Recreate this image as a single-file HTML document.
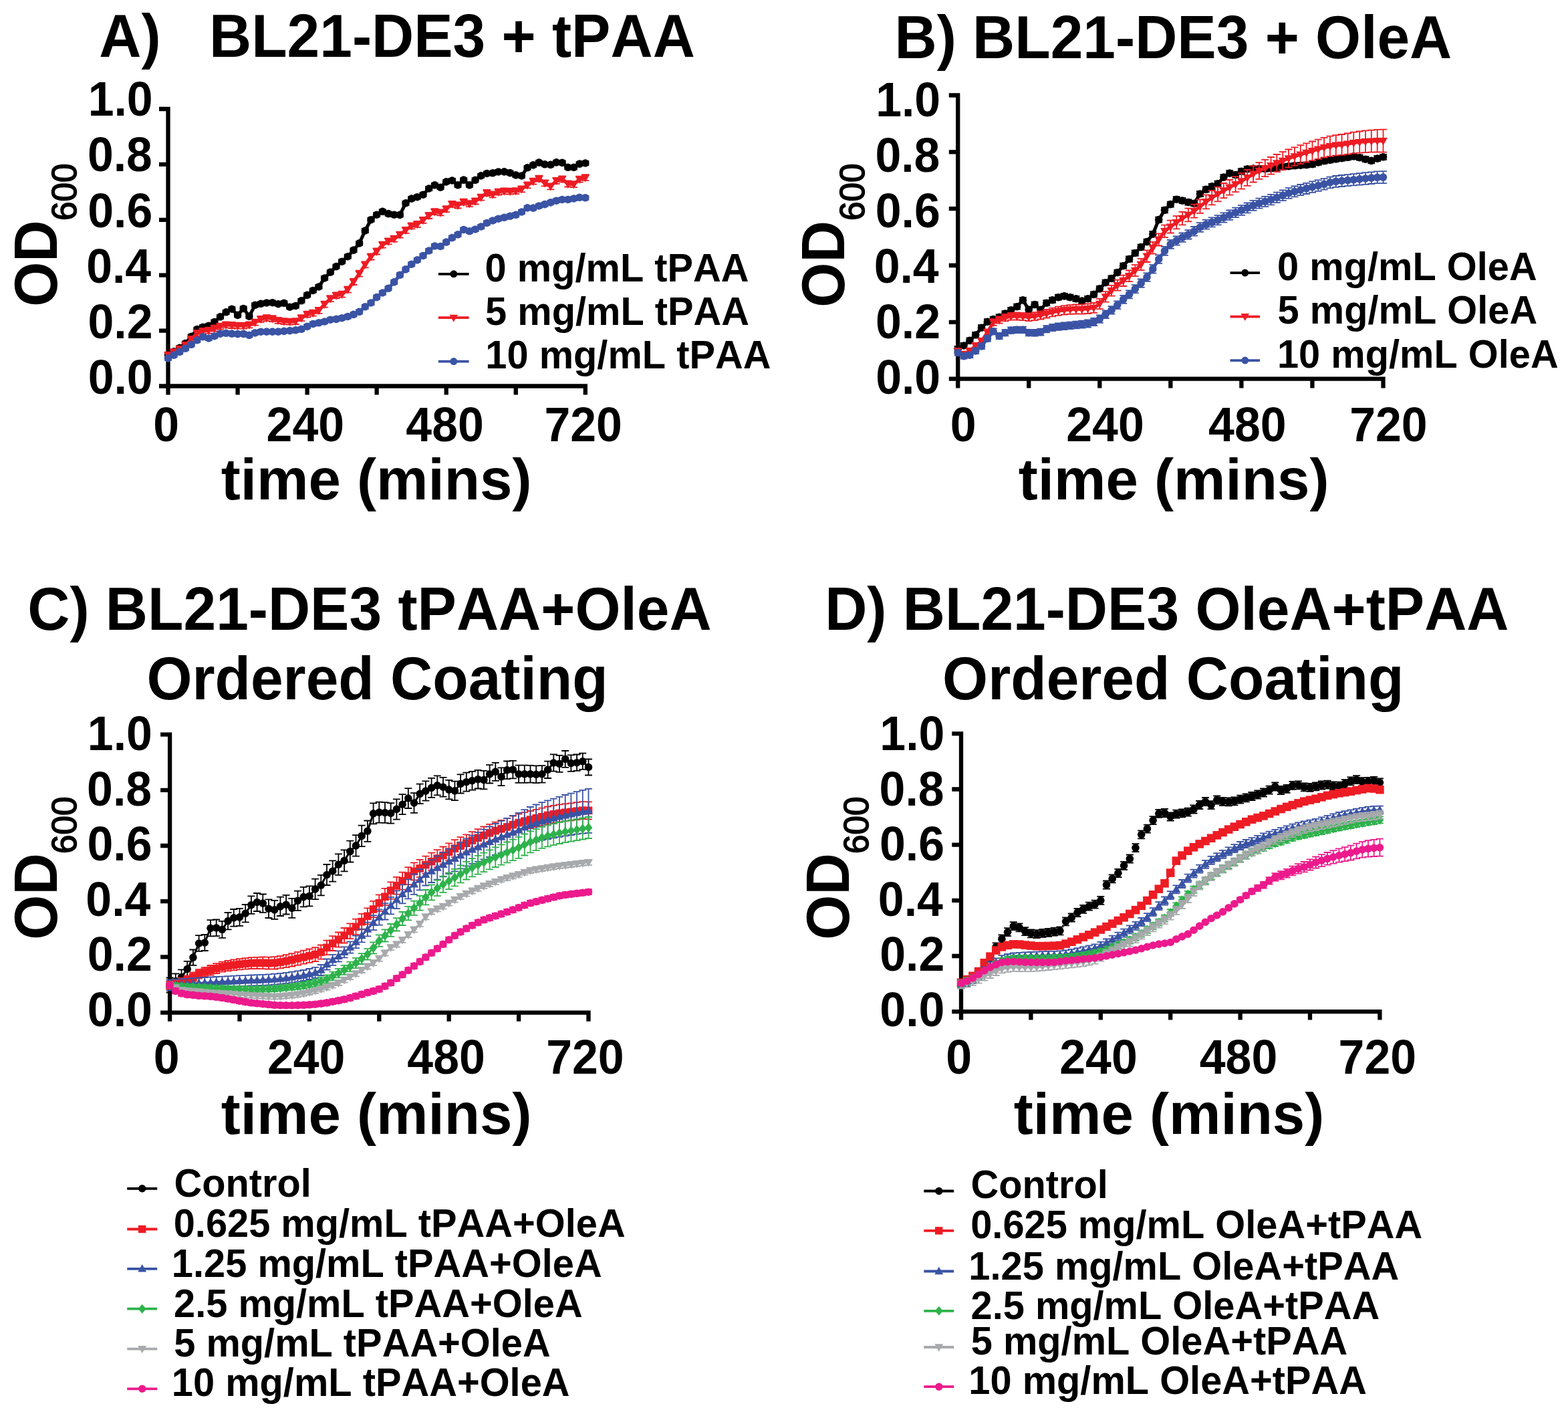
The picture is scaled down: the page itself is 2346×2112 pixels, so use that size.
<!DOCTYPE html>
<html><head><meta charset="utf-8"><title>Growth curves</title>
<style>html,body{margin:0;padding:0;background:#fff;}svg{display:block;filter:blur(0.5px);}</style>
</head><body>
<svg width="2346" height="2112" viewBox="0 0 2346 2112" font-family="'Liberation Sans', Arial, sans-serif" style="font-kerning:none">
<rect width="2346" height="2112" fill="#fff"/>
<text transform="translate(148.22,84.70) scale(1.0000,1.0450)" font-size="87.50" font-weight="bold" fill="#000">A)</text>
<text transform="translate(312.95,85.00) scale(1.0000,1.0450)" font-size="87.50" font-weight="bold" fill="#000">BL21-DE3 + tPAA</text>
<text transform="translate(1338.45,87.00) scale(1.0000,1.0450)" font-size="87.50" font-weight="bold" fill="#000">B) BL21-DE3 + OleA</text>
<text transform="translate(41.21,942.00) scale(1.0000,1.0450)" font-size="87.50" font-weight="bold" fill="#000">C) BL21-DE3 tPAA+OleA</text>
<text transform="translate(219.41,1046.00) scale(1.0000,1.0450)" font-size="87.50" font-weight="bold" fill="#000">Ordered Coating</text>
<text transform="translate(1234.15,942.00) scale(1.0000,1.0450)" font-size="87.50" font-weight="bold" fill="#000">D) BL21-DE3 OleA+tPAA</text>
<text transform="translate(1410.11,1046.00) scale(1.0000,1.0450)" font-size="87.50" font-weight="bold" fill="#000">Ordered Coating</text>
<path d="M251.50,159.85V590.50M238.00,577.50H878.95M238.00,577.50H251.50M238.00,494.60H251.50M238.00,411.70H251.50M238.00,328.80H251.50M238.00,245.90H251.50M238.00,163.00H251.50M355.55,577.50V590.50M459.60,577.50V590.50M563.65,577.50V590.50M667.70,577.50V590.50M771.75,577.50V590.50M875.80,577.50V590.50" fill="none" stroke="#000" stroke-width="6.3" stroke-linecap="butt"/>
<text transform="translate(131.63,589.10) scale(1.0000,1.0400)" font-size="69.80" font-weight="bold" fill="#000">0.0</text>
<text transform="translate(131.56,505.90) scale(1.0000,1.0400)" font-size="69.80" font-weight="bold" fill="#000">0.2</text>
<text transform="translate(129.14,422.70) scale(1.0000,1.0400)" font-size="69.80" font-weight="bold" fill="#000">0.4</text>
<text transform="translate(131.29,339.50) scale(1.0000,1.0400)" font-size="69.80" font-weight="bold" fill="#000">0.6</text>
<text transform="translate(130.92,256.30) scale(1.0000,1.0400)" font-size="69.80" font-weight="bold" fill="#000">0.8</text>
<text transform="translate(131.63,173.10) scale(1.0000,1.0400)" font-size="69.80" font-weight="bold" fill="#000">1.0</text>
<text transform="translate(229.14,660.00) scale(1.0000,1.0400)" font-size="69.80" font-weight="bold" fill="#000">0</text>
<text transform="translate(398.59,660.00) scale(1.0000,1.0400)" font-size="69.80" font-weight="bold" fill="#000">240</text>
<text transform="translate(607.37,660.00) scale(1.0000,1.0400)" font-size="69.80" font-weight="bold" fill="#000">480</text>
<text transform="translate(814.50,660.00) scale(1.0000,1.0400)" font-size="69.80" font-weight="bold" fill="#000">720</text>
<text transform="translate(84.50,458.84) rotate(-90) scale(1.0000,1.0530)" font-size="86.30" font-weight="bold">OD</text>
<text transform="translate(114.20,330.11) rotate(-90)" font-size="51.30" font-weight="normal" stroke="#000" stroke-width="1.5">600</text>
<path d="M1433.20,139.35V580.40M1419.80,566.70H2072.65M1419.80,566.70H1433.20M1419.80,481.86H1433.20M1419.80,397.02H1433.20M1419.80,312.18H1433.20M1419.80,227.34H1433.20M1419.80,142.50H1433.20M1539.25,566.70V580.40M1645.30,566.70V580.40M1751.35,566.70V580.40M1857.40,566.70V580.40M1963.45,566.70V580.40M2069.50,566.70V580.40" fill="none" stroke="#000" stroke-width="6.3" stroke-linecap="butt"/>
<text transform="translate(1310.13,589.10) scale(1.0000,1.0400)" font-size="69.80" font-weight="bold" fill="#000">0.0</text>
<text transform="translate(1310.06,506.02) scale(1.0000,1.0400)" font-size="69.80" font-weight="bold" fill="#000">0.2</text>
<text transform="translate(1307.64,422.94) scale(1.0000,1.0400)" font-size="69.80" font-weight="bold" fill="#000">0.4</text>
<text transform="translate(1309.79,339.86) scale(1.0000,1.0400)" font-size="69.80" font-weight="bold" fill="#000">0.6</text>
<text transform="translate(1309.42,256.78) scale(1.0000,1.0400)" font-size="69.80" font-weight="bold" fill="#000">0.8</text>
<text transform="translate(1310.13,173.70) scale(1.0000,1.0400)" font-size="69.80" font-weight="bold" fill="#000">1.0</text>
<text transform="translate(1421.84,660.00) scale(1.0000,1.0400)" font-size="69.80" font-weight="bold" fill="#000">0</text>
<text transform="translate(1595.29,660.00) scale(1.0000,1.0400)" font-size="69.80" font-weight="bold" fill="#000">240</text>
<text transform="translate(1808.07,660.00) scale(1.0000,1.0400)" font-size="69.80" font-weight="bold" fill="#000">480</text>
<text transform="translate(2019.20,660.00) scale(1.0000,1.0400)" font-size="69.80" font-weight="bold" fill="#000">720</text>
<text transform="translate(1263.20,459.64) rotate(-90) scale(1.0000,1.0530)" font-size="86.30" font-weight="bold">OD</text>
<text transform="translate(1293.00,330.11) rotate(-90)" font-size="51.30" font-weight="normal" stroke="#000" stroke-width="1.5">600</text>
<path d="M254.10,1095.45V1527.70M240.10,1514.60H883.65M240.10,1514.60H254.10M240.10,1431.40H254.10M240.10,1348.20H254.10M240.10,1265.00H254.10M240.10,1181.80H254.10M240.10,1098.60H254.10M358.50,1514.60V1527.70M462.90,1514.60V1527.70M567.30,1514.60V1527.70M671.70,1514.60V1527.70M776.10,1514.60V1527.70M880.50,1514.60V1527.70" fill="none" stroke="#000" stroke-width="6.3" stroke-linecap="butt"/>
<text transform="translate(130.83,1534.90) scale(1.0000,1.0400)" font-size="69.80" font-weight="bold" fill="#000">0.0</text>
<text transform="translate(130.76,1452.30) scale(1.0000,1.0400)" font-size="69.80" font-weight="bold" fill="#000">0.2</text>
<text transform="translate(128.34,1369.70) scale(1.0000,1.0400)" font-size="69.80" font-weight="bold" fill="#000">0.4</text>
<text transform="translate(130.49,1287.10) scale(1.0000,1.0400)" font-size="69.80" font-weight="bold" fill="#000">0.6</text>
<text transform="translate(130.12,1204.50) scale(1.0000,1.0400)" font-size="69.80" font-weight="bold" fill="#000">0.8</text>
<text transform="translate(130.83,1121.90) scale(1.0000,1.0400)" font-size="69.80" font-weight="bold" fill="#000">1.0</text>
<text transform="translate(229.74,1606.30) scale(1.0000,1.0400)" font-size="69.80" font-weight="bold" fill="#000">0</text>
<text transform="translate(399.89,1606.30) scale(1.0000,1.0400)" font-size="69.80" font-weight="bold" fill="#000">240</text>
<text transform="translate(609.37,1606.30) scale(1.0000,1.0400)" font-size="69.80" font-weight="bold" fill="#000">480</text>
<text transform="translate(817.20,1606.30) scale(1.0000,1.0400)" font-size="69.80" font-weight="bold" fill="#000">720</text>
<text transform="translate(84.50,1405.74) rotate(-90) scale(1.0000,1.0530)" font-size="86.30" font-weight="bold">OD</text>
<text transform="translate(114.20,1277.01) rotate(-90)" font-size="51.30" font-weight="normal" stroke="#000" stroke-width="1.5">600</text>
<path d="M1438.00,1094.15V1525.50M1424.30,1513.20H2067.55M1424.30,1513.20H1438.00M1424.30,1430.02H1438.00M1424.30,1346.84H1438.00M1424.30,1263.66H1438.00M1424.30,1180.48H1438.00M1424.30,1097.30H1438.00M1542.40,1513.20V1525.50M1646.80,1513.20V1525.50M1751.20,1513.20V1525.50M1855.60,1513.20V1525.50M1960.00,1513.20V1525.50M2064.40,1513.20V1525.50" fill="none" stroke="#000" stroke-width="6.3" stroke-linecap="butt"/>
<text transform="translate(1316.33,1534.90) scale(1.0000,1.0400)" font-size="69.80" font-weight="bold" fill="#000">0.0</text>
<text transform="translate(1316.26,1452.34) scale(1.0000,1.0400)" font-size="69.80" font-weight="bold" fill="#000">0.2</text>
<text transform="translate(1313.84,1369.78) scale(1.0000,1.0400)" font-size="69.80" font-weight="bold" fill="#000">0.4</text>
<text transform="translate(1315.99,1287.22) scale(1.0000,1.0400)" font-size="69.80" font-weight="bold" fill="#000">0.6</text>
<text transform="translate(1315.62,1204.66) scale(1.0000,1.0400)" font-size="69.80" font-weight="bold" fill="#000">0.8</text>
<text transform="translate(1316.33,1122.10) scale(1.0000,1.0400)" font-size="69.80" font-weight="bold" fill="#000">1.0</text>
<text transform="translate(1415.14,1606.30) scale(1.0000,1.0400)" font-size="69.80" font-weight="bold" fill="#000">0</text>
<text transform="translate(1585.29,1606.30) scale(1.0000,1.0400)" font-size="69.80" font-weight="bold" fill="#000">240</text>
<text transform="translate(1794.77,1606.30) scale(1.0000,1.0400)" font-size="69.80" font-weight="bold" fill="#000">480</text>
<text transform="translate(2002.60,1606.30) scale(1.0000,1.0400)" font-size="69.80" font-weight="bold" fill="#000">720</text>
<text transform="translate(1270.00,1405.74) rotate(-90) scale(1.0000,1.0530)" font-size="86.30" font-weight="bold">OD</text>
<text transform="translate(1299.00,1277.01) rotate(-90)" font-size="51.30" font-weight="normal" stroke="#000" stroke-width="1.5">600</text>
<text transform="translate(330.84,747.20)" font-size="87.10" font-weight="bold" fill="#000">time (mins)</text>
<text transform="translate(1523.84,747.20)" font-size="87.10" font-weight="bold" fill="#000">time (mins)</text>
<text transform="translate(330.84,1696.00)" font-size="87.10" font-weight="bold" fill="#000">time (mins)</text>
<text transform="translate(1516.74,1696.00)" font-size="87.10" font-weight="bold" fill="#000">time (mins)</text>
<path d="M655.9,409.8H701.6" stroke="#000000" stroke-width="3.8"/>
<circle cx="678.8" cy="409.8" r="5.5" fill="#000000"/>
<text transform="translate(725.61,420.60) scale(1.0000,1.0150)" font-size="57.80" font-weight="bold" fill="#000">0 mg/mL tPAA</text>
<path d="M655.9,475.2H701.6" stroke="#ED1C24" stroke-width="3.8"/>
<path d="M678.8,481.7L685.0,470.7L672.5,470.7Z" fill="#ED1C24"/>
<text transform="translate(726.12,486.00) scale(1.0000,1.0150)" font-size="57.80" font-weight="bold" fill="#000">5 mg/mL tPAA</text>
<path d="M655.9,540.6H701.6" stroke="#3A53A4" stroke-width="3.8"/>
<circle cx="678.8" cy="540.6" r="5.5" fill="#3A53A4"/>
<text transform="translate(726.36,551.40) scale(1.0000,1.0150)" font-size="57.80" font-weight="bold" fill="#000">10 mg/mL tPAA</text>
<path d="M1840.5,408.1H1885.0" stroke="#000000" stroke-width="3.8"/>
<circle cx="1862.8" cy="408.1" r="5.5" fill="#000000"/>
<text transform="translate(1911.11,418.90) scale(1.0000,1.0150)" font-size="57.80" font-weight="bold" fill="#000">0 mg/mL OleA</text>
<path d="M1840.5,473.6H1885.0" stroke="#ED1C24" stroke-width="3.8"/>
<path d="M1862.8,480.1L1869.0,469.1L1856.5,469.1Z" fill="#ED1C24"/>
<text transform="translate(1911.62,484.40) scale(1.0000,1.0150)" font-size="57.80" font-weight="bold" fill="#000">5 mg/mL OleA</text>
<path d="M1840.5,539.1H1885.0" stroke="#3A53A4" stroke-width="3.8"/>
<circle cx="1862.8" cy="539.1" r="5.5" fill="#3A53A4"/>
<text transform="translate(1910.96,549.90) scale(1.0000,1.0150)" font-size="57.80" font-weight="bold" fill="#000">10 mg/mL OleA</text>
<path d="M190.2,1777.8H235.2" stroke="#000000" stroke-width="3.8"/>
<circle cx="212.7" cy="1777.8" r="5.7" fill="#000000"/>
<text transform="translate(260.43,1789.50) scale(1.0000,1.0150)" font-size="57.80" font-weight="bold" fill="#000">Control</text>
<path d="M190.2,1838.5H235.2" stroke="#ED1C24" stroke-width="3.8"/>
<rect x="207.0" y="1832.8" width="11.4" height="11.4" fill="#ED1C24"/>
<text transform="translate(259.71,1850.20) scale(1.0000,1.0150)" font-size="57.80" font-weight="bold" fill="#000">0.625 mg/mL tPAA+OleA</text>
<path d="M190.2,1897.8H235.2" stroke="#3A53A4" stroke-width="3.8"/>
<path d="M212.7,1891.1L219.1,1902.5L206.3,1902.5Z" fill="#3A53A4"/>
<text transform="translate(256.86,1909.70) scale(1.0000,1.0150)" font-size="57.80" font-weight="bold" fill="#000">1.25 mg/mL tPAA+OleA</text>
<path d="M190.2,1957.7H235.2" stroke="#2EB24B" stroke-width="3.8"/>
<path d="M212.7,1950.7L218.5,1957.7L212.7,1964.7L206.9,1957.7Z" fill="#2EB24B"/>
<text transform="translate(260.00,1969.80) scale(1.0000,1.0150)" font-size="57.80" font-weight="bold" fill="#000">2.5 mg/mL tPAA+OleA</text>
<path d="M190.2,2017.6H235.2" stroke="#A7A9AC" stroke-width="3.8"/>
<path d="M212.7,2024.3L219.1,2012.9L206.3,2012.9Z" fill="#A7A9AC"/>
<text transform="translate(260.22,2029.00) scale(1.0000,1.0150)" font-size="57.80" font-weight="bold" fill="#000">5 mg/mL tPAA+OleA</text>
<path d="M190.2,2077.3H235.2" stroke="#EC1A8C" stroke-width="3.8"/>
<circle cx="212.7" cy="2077.3" r="5.7" fill="#EC1A8C"/>
<text transform="translate(256.86,2087.50) scale(1.0000,1.0150)" font-size="57.80" font-weight="bold" fill="#000">10 mg/mL tPAA+OleA</text>
<path d="M1382.3,1781.5H1427.2" stroke="#000000" stroke-width="3.8"/>
<circle cx="1404.8" cy="1781.5" r="5.7" fill="#000000"/>
<text transform="translate(1452.43,1791.50) scale(1.0000,1.0150)" font-size="57.80" font-weight="bold" fill="#000">Control</text>
<path d="M1382.3,1840.8H1427.2" stroke="#ED1C24" stroke-width="3.8"/>
<rect x="1399.0" y="1835.1" width="11.4" height="11.4" fill="#ED1C24"/>
<text transform="translate(1452.21,1852.20) scale(1.0000,1.0150)" font-size="57.80" font-weight="bold" fill="#000">0.625 mg/mL OleA+tPAA</text>
<path d="M1382.3,1901.5H1427.2" stroke="#3A53A4" stroke-width="3.8"/>
<path d="M1404.8,1894.8L1411.2,1906.2L1398.3,1906.2Z" fill="#3A53A4"/>
<text transform="translate(1449.36,1913.60) scale(1.0000,1.0150)" font-size="57.80" font-weight="bold" fill="#000">1.25 mg/mL OleA+tPAA</text>
<path d="M1382.3,1960.8H1427.2" stroke="#2EB24B" stroke-width="3.8"/>
<path d="M1404.8,1953.8L1410.6,1960.8L1404.8,1967.8L1398.9,1960.8Z" fill="#2EB24B"/>
<text transform="translate(1452.50,1972.80) scale(1.0000,1.0150)" font-size="57.80" font-weight="bold" fill="#000">2.5 mg/mL OleA+tPAA</text>
<path d="M1382.3,2015.0H1427.2" stroke="#A7A9AC" stroke-width="3.8"/>
<path d="M1404.8,2021.7L1411.2,2010.3L1398.3,2010.3Z" fill="#A7A9AC"/>
<text transform="translate(1452.72,2026.00) scale(1.0000,1.0150)" font-size="57.80" font-weight="bold" fill="#000">5 mg/mL OleA+tPAA</text>
<path d="M1382.3,2074.2H1427.2" stroke="#EC1A8C" stroke-width="3.8"/>
<circle cx="1404.8" cy="2074.2" r="5.7" fill="#EC1A8C"/>
<text transform="translate(1449.36,2085.40) scale(1.0000,1.0150)" font-size="57.80" font-weight="bold" fill="#000">10 mg/mL OleA+tPAA</text>
<g>
<path d="M251.5,531.0 L260.2,525.8 L268.8,520.4 L277.5,513.6 L286.2,503.4 L294.9,492.6 L303.5,489.2 L312.2,487.2 L320.9,481.5 L329.5,473.9 L338.2,466.8 L346.9,462.2 L355.6,471.4 L364.2,461.5 L372.9,473.1 L381.6,456.3 L390.2,454.3 L398.9,453.0 L407.6,452.7 L416.2,454.7 L424.9,453.3 L433.6,459.2 L442.3,457.5 L450.9,449.8 L459.6,441.4 L468.3,434.5 L476.9,429.0 L485.6,416.0 L494.3,407.1 L503.0,398.6 L511.6,391.2 L520.3,383.7 L529.0,374.1 L537.6,363.9 L546.3,345.0 L555.0,328.7 L563.6,321.2 L572.3,316.3 L581.0,319.6 L589.7,321.2 L598.3,321.4 L607.0,303.8 L615.7,297.1 L624.3,294.7 L633.0,291.2 L641.7,282.0 L650.4,276.8 L659.0,280.2 L667.7,271.9 L676.4,270.0 L685.0,276.8 L693.7,269.1 L702.4,276.9 L711.1,269.3 L719.7,262.9 L728.4,259.5 L737.1,258.8 L745.7,257.0 L754.4,256.9 L763.1,258.6 L771.8,261.9 L780.4,263.0 L789.1,250.8 L797.8,246.9 L806.4,243.1 L815.1,245.8 L823.8,246.4 L832.4,242.9 L841.1,243.4 L849.8,250.3 L858.5,250.3 L867.1,245.1 L875.8,244.0" fill="none" stroke="#000000" stroke-width="5" stroke-linejoin="round"/>
<path d="M251.5,528.0V534.0M246.0,528.0H257.0M246.0,534.0H257.0M260.2,522.8V528.8M254.7,522.8H265.7M254.7,528.8H265.7M268.8,517.4V523.4M263.3,517.4H274.3M263.3,523.4H274.3M277.5,510.6V516.6M272.0,510.6H283.0M272.0,516.6H283.0M286.2,500.4V506.4M280.7,500.4H291.7M280.7,506.4H291.7M294.9,489.6V495.6M289.4,489.6H300.4M289.4,495.6H300.4M303.5,486.2V492.2M298.0,486.2H309.0M298.0,492.2H309.0M312.2,484.2V490.2M306.7,484.2H317.7M306.7,490.2H317.7M320.9,478.5V484.5M315.4,478.5H326.4M315.4,484.5H326.4M329.5,470.9V476.9M324.0,470.9H335.0M324.0,476.9H335.0M338.2,463.8V469.8M332.7,463.8H343.7M332.7,469.8H343.7M346.9,459.2V465.2M341.4,459.2H352.4M341.4,465.2H352.4M355.6,468.4V474.4M350.1,468.4H361.1M350.1,474.4H361.1M364.2,458.5V464.5M358.7,458.5H369.7M358.7,464.5H369.7M372.9,470.1V476.1M367.4,470.1H378.4M367.4,476.1H378.4M381.6,453.3V459.3M376.1,453.3H387.1M376.1,459.3H387.1M390.2,451.3V457.3M384.7,451.3H395.7M384.7,457.3H395.7M398.9,450.0V456.0M393.4,450.0H404.4M393.4,456.0H404.4M407.6,449.7V455.7M402.1,449.7H413.1M402.1,455.7H413.1M416.2,451.7V457.7M410.7,451.7H421.7M410.7,457.7H421.7M424.9,450.3V456.3M419.4,450.3H430.4M419.4,456.3H430.4M433.6,456.2V462.2M428.1,456.2H439.1M428.1,462.2H439.1M442.3,454.5V460.5M436.8,454.5H447.8M436.8,460.5H447.8M450.9,446.8V452.8M445.4,446.8H456.4M445.4,452.8H456.4M459.6,438.4V444.4M454.1,438.4H465.1M454.1,444.4H465.1M468.3,431.5V437.5M462.8,431.5H473.8M462.8,437.5H473.8M476.9,426.0V432.0M471.4,426.0H482.4M471.4,432.0H482.4M485.6,413.0V419.0M480.1,413.0H491.1M480.1,419.0H491.1M494.3,404.1V410.1M488.8,404.1H499.8M488.8,410.1H499.8M503.0,395.6V401.6M497.5,395.6H508.5M497.5,401.6H508.5M511.6,388.2V394.2M506.1,388.2H517.1M506.1,394.2H517.1M520.3,380.7V386.7M514.8,380.7H525.8M514.8,386.7H525.8M529.0,371.1V377.1M523.5,371.1H534.5M523.5,377.1H534.5M537.6,360.9V366.9M532.1,360.9H543.1M532.1,366.9H543.1M546.3,342.0V348.0M540.8,342.0H551.8M540.8,348.0H551.8M555.0,325.7V331.7M549.5,325.7H560.5M549.5,331.7H560.5M563.6,318.2V324.2M558.1,318.2H569.1M558.1,324.2H569.1M572.3,313.3V319.3M566.8,313.3H577.8M566.8,319.3H577.8M581.0,316.6V322.6M575.5,316.6H586.5M575.5,322.6H586.5M589.7,318.2V324.2M584.2,318.2H595.2M584.2,324.2H595.2M598.3,318.4V324.4M592.8,318.4H603.8M592.8,324.4H603.8M607.0,300.8V306.8M601.5,300.8H612.5M601.5,306.8H612.5M615.7,294.1V300.1M610.2,294.1H621.2M610.2,300.1H621.2M624.3,291.7V297.7M618.8,291.7H629.8M618.8,297.7H629.8M633.0,288.2V294.2M627.5,288.2H638.5M627.5,294.2H638.5M641.7,279.0V285.0M636.2,279.0H647.2M636.2,285.0H647.2M650.4,273.8V279.8M644.9,273.8H655.9M644.9,279.8H655.9M659.0,277.2V283.2M653.5,277.2H664.5M653.5,283.2H664.5M667.7,268.9V274.9M662.2,268.9H673.2M662.2,274.9H673.2M676.4,267.0V273.0M670.9,267.0H681.9M670.9,273.0H681.9M685.0,273.8V279.8M679.5,273.8H690.5M679.5,279.8H690.5M693.7,266.1V272.1M688.2,266.1H699.2M688.2,272.1H699.2M702.4,273.9V279.9M696.9,273.9H707.9M696.9,279.9H707.9M711.1,266.3V272.3M705.6,266.3H716.6M705.6,272.3H716.6M719.7,259.9V265.9M714.2,259.9H725.2M714.2,265.9H725.2M728.4,256.5V262.5M722.9,256.5H733.9M722.9,262.5H733.9M737.1,255.8V261.8M731.6,255.8H742.6M731.6,261.8H742.6M745.7,254.0V260.0M740.2,254.0H751.2M740.2,260.0H751.2M754.4,253.9V259.9M748.9,253.9H759.9M748.9,259.9H759.9M763.1,255.6V261.6M757.6,255.6H768.6M757.6,261.6H768.6M771.8,258.9V264.9M766.2,258.9H777.2M766.2,264.9H777.2M780.4,260.0V266.0M774.9,260.0H785.9M774.9,266.0H785.9M789.1,247.8V253.8M783.6,247.8H794.6M783.6,253.8H794.6M797.8,243.9V249.9M792.3,243.9H803.3M792.3,249.9H803.3M806.4,240.1V246.1M800.9,240.1H811.9M800.9,246.1H811.9M815.1,242.8V248.8M809.6,242.8H820.6M809.6,248.8H820.6M823.8,243.4V249.4M818.3,243.4H829.3M818.3,249.4H829.3M832.4,239.9V245.9M826.9,239.9H837.9M826.9,245.9H837.9M841.1,240.4V246.4M835.6,240.4H846.6M835.6,246.4H846.6M849.8,247.3V253.3M844.3,247.3H855.3M844.3,253.3H855.3M858.5,247.3V253.3M853.0,247.3H864.0M853.0,253.3H864.0M867.1,242.1V248.1M861.6,242.1H872.6M861.6,248.1H872.6M875.8,241.0V247.0M870.3,241.0H881.3M870.3,247.0H881.3" fill="none" stroke="#000000" stroke-width="1.8"/>
<circle cx="251.5" cy="531.0" r="5.8" fill="#000000"/>
<circle cx="260.2" cy="525.8" r="5.8" fill="#000000"/>
<circle cx="268.8" cy="520.4" r="5.8" fill="#000000"/>
<circle cx="277.5" cy="513.6" r="5.8" fill="#000000"/>
<circle cx="286.2" cy="503.4" r="5.8" fill="#000000"/>
<circle cx="294.9" cy="492.6" r="5.8" fill="#000000"/>
<circle cx="303.5" cy="489.2" r="5.8" fill="#000000"/>
<circle cx="312.2" cy="487.2" r="5.8" fill="#000000"/>
<circle cx="320.9" cy="481.5" r="5.8" fill="#000000"/>
<circle cx="329.5" cy="473.9" r="5.8" fill="#000000"/>
<circle cx="338.2" cy="466.8" r="5.8" fill="#000000"/>
<circle cx="346.9" cy="462.2" r="5.8" fill="#000000"/>
<circle cx="355.6" cy="471.4" r="5.8" fill="#000000"/>
<circle cx="364.2" cy="461.5" r="5.8" fill="#000000"/>
<circle cx="372.9" cy="473.1" r="5.8" fill="#000000"/>
<circle cx="381.6" cy="456.3" r="5.8" fill="#000000"/>
<circle cx="390.2" cy="454.3" r="5.8" fill="#000000"/>
<circle cx="398.9" cy="453.0" r="5.8" fill="#000000"/>
<circle cx="407.6" cy="452.7" r="5.8" fill="#000000"/>
<circle cx="416.2" cy="454.7" r="5.8" fill="#000000"/>
<circle cx="424.9" cy="453.3" r="5.8" fill="#000000"/>
<circle cx="433.6" cy="459.2" r="5.8" fill="#000000"/>
<circle cx="442.3" cy="457.5" r="5.8" fill="#000000"/>
<circle cx="450.9" cy="449.8" r="5.8" fill="#000000"/>
<circle cx="459.6" cy="441.4" r="5.8" fill="#000000"/>
<circle cx="468.3" cy="434.5" r="5.8" fill="#000000"/>
<circle cx="476.9" cy="429.0" r="5.8" fill="#000000"/>
<circle cx="485.6" cy="416.0" r="5.8" fill="#000000"/>
<circle cx="494.3" cy="407.1" r="5.8" fill="#000000"/>
<circle cx="503.0" cy="398.6" r="5.8" fill="#000000"/>
<circle cx="511.6" cy="391.2" r="5.8" fill="#000000"/>
<circle cx="520.3" cy="383.7" r="5.8" fill="#000000"/>
<circle cx="529.0" cy="374.1" r="5.8" fill="#000000"/>
<circle cx="537.6" cy="363.9" r="5.8" fill="#000000"/>
<circle cx="546.3" cy="345.0" r="5.8" fill="#000000"/>
<circle cx="555.0" cy="328.7" r="5.8" fill="#000000"/>
<circle cx="563.6" cy="321.2" r="5.8" fill="#000000"/>
<circle cx="572.3" cy="316.3" r="5.8" fill="#000000"/>
<circle cx="581.0" cy="319.6" r="5.8" fill="#000000"/>
<circle cx="589.7" cy="321.2" r="5.8" fill="#000000"/>
<circle cx="598.3" cy="321.4" r="5.8" fill="#000000"/>
<circle cx="607.0" cy="303.8" r="5.8" fill="#000000"/>
<circle cx="615.7" cy="297.1" r="5.8" fill="#000000"/>
<circle cx="624.3" cy="294.7" r="5.8" fill="#000000"/>
<circle cx="633.0" cy="291.2" r="5.8" fill="#000000"/>
<circle cx="641.7" cy="282.0" r="5.8" fill="#000000"/>
<circle cx="650.4" cy="276.8" r="5.8" fill="#000000"/>
<circle cx="659.0" cy="280.2" r="5.8" fill="#000000"/>
<circle cx="667.7" cy="271.9" r="5.8" fill="#000000"/>
<circle cx="676.4" cy="270.0" r="5.8" fill="#000000"/>
<circle cx="685.0" cy="276.8" r="5.8" fill="#000000"/>
<circle cx="693.7" cy="269.1" r="5.8" fill="#000000"/>
<circle cx="702.4" cy="276.9" r="5.8" fill="#000000"/>
<circle cx="711.1" cy="269.3" r="5.8" fill="#000000"/>
<circle cx="719.7" cy="262.9" r="5.8" fill="#000000"/>
<circle cx="728.4" cy="259.5" r="5.8" fill="#000000"/>
<circle cx="737.1" cy="258.8" r="5.8" fill="#000000"/>
<circle cx="745.7" cy="257.0" r="5.8" fill="#000000"/>
<circle cx="754.4" cy="256.9" r="5.8" fill="#000000"/>
<circle cx="763.1" cy="258.6" r="5.8" fill="#000000"/>
<circle cx="771.8" cy="261.9" r="5.8" fill="#000000"/>
<circle cx="780.4" cy="263.0" r="5.8" fill="#000000"/>
<circle cx="789.1" cy="250.8" r="5.8" fill="#000000"/>
<circle cx="797.8" cy="246.9" r="5.8" fill="#000000"/>
<circle cx="806.4" cy="243.1" r="5.8" fill="#000000"/>
<circle cx="815.1" cy="245.8" r="5.8" fill="#000000"/>
<circle cx="823.8" cy="246.4" r="5.8" fill="#000000"/>
<circle cx="832.4" cy="242.9" r="5.8" fill="#000000"/>
<circle cx="841.1" cy="243.4" r="5.8" fill="#000000"/>
<circle cx="849.8" cy="250.3" r="5.8" fill="#000000"/>
<circle cx="858.5" cy="250.3" r="5.8" fill="#000000"/>
<circle cx="867.1" cy="245.1" r="5.8" fill="#000000"/>
<circle cx="875.8" cy="244.0" r="5.8" fill="#000000"/>
</g>
<g>
<path d="M251.5,531.1 L260.2,526.7 L268.8,522.1 L277.5,516.3 L286.2,507.4 L294.9,498.5 L303.5,495.4 L312.2,494.1 L320.9,491.0 L329.5,488.1 L338.2,485.8 L346.9,486.5 L355.6,487.2 L364.2,487.1 L372.9,485.9 L381.6,482.1 L390.2,477.3 L398.9,475.6 L407.6,476.6 L416.2,479.3 L424.9,480.7 L433.6,481.2 L442.3,480.7 L450.9,475.7 L459.6,470.1 L468.3,468.1 L476.9,464.4 L485.6,455.1 L494.3,446.7 L503.0,441.9 L511.6,440.1 L520.3,433.2 L529.0,421.5 L537.6,409.1 L546.3,395.8 L555.0,384.0 L563.6,376.0 L572.3,366.1 L581.0,360.8 L589.7,357.1 L598.3,351.1 L607.0,344.3 L615.7,337.8 L624.3,335.3 L633.0,329.4 L641.7,322.5 L650.4,316.7 L659.0,317.8 L667.7,312.6 L676.4,305.3 L685.0,307.0 L693.7,302.2 L702.4,304.7 L711.1,301.0 L719.7,295.1 L728.4,288.5 L737.1,290.9 L745.7,287.1 L754.4,285.8 L763.1,286.2 L771.8,285.7 L780.4,282.8 L789.1,276.9 L797.8,271.2 L806.4,267.1 L815.1,273.9 L823.8,278.8 L832.4,270.3 L841.1,267.8 L849.8,275.0 L858.5,275.7 L867.1,268.2 L875.8,265.7" fill="none" stroke="#ED1C24" stroke-width="5" stroke-linejoin="round"/>
<path d="M251.5,526.6V535.6M246.0,526.6H257.0M246.0,535.6H257.0M260.2,522.2V531.2M254.7,522.2H265.7M254.7,531.2H265.7M268.8,517.6V526.6M263.3,517.6H274.3M263.3,526.6H274.3M277.5,511.8V520.8M272.0,511.8H283.0M272.0,520.8H283.0M286.2,502.9V511.9M280.7,502.9H291.7M280.7,511.9H291.7M294.9,494.0V503.0M289.4,494.0H300.4M289.4,503.0H300.4M303.5,490.9V499.9M298.0,490.9H309.0M298.0,499.9H309.0M312.2,489.6V498.6M306.7,489.6H317.7M306.7,498.6H317.7M320.9,486.5V495.5M315.4,486.5H326.4M315.4,495.5H326.4M329.5,483.6V492.6M324.0,483.6H335.0M324.0,492.6H335.0M338.2,481.3V490.3M332.7,481.3H343.7M332.7,490.3H343.7M346.9,482.0V491.0M341.4,482.0H352.4M341.4,491.0H352.4M355.6,482.7V491.7M350.1,482.7H361.1M350.1,491.7H361.1M364.2,482.6V491.6M358.7,482.6H369.7M358.7,491.6H369.7M372.9,481.4V490.4M367.4,481.4H378.4M367.4,490.4H378.4M381.6,477.6V486.6M376.1,477.6H387.1M376.1,486.6H387.1M390.2,472.8V481.8M384.7,472.8H395.7M384.7,481.8H395.7M398.9,471.1V480.1M393.4,471.1H404.4M393.4,480.1H404.4M407.6,472.1V481.1M402.1,472.1H413.1M402.1,481.1H413.1M416.2,474.8V483.8M410.7,474.8H421.7M410.7,483.8H421.7M424.9,476.2V485.2M419.4,476.2H430.4M419.4,485.2H430.4M433.6,476.7V485.7M428.1,476.7H439.1M428.1,485.7H439.1M442.3,476.2V485.2M436.8,476.2H447.8M436.8,485.2H447.8M450.9,471.2V480.2M445.4,471.2H456.4M445.4,480.2H456.4M459.6,465.6V474.6M454.1,465.6H465.1M454.1,474.6H465.1M468.3,463.6V472.6M462.8,463.6H473.8M462.8,472.6H473.8M476.9,459.9V468.9M471.4,459.9H482.4M471.4,468.9H482.4M485.6,450.6V459.6M480.1,450.6H491.1M480.1,459.6H491.1M494.3,442.2V451.2M488.8,442.2H499.8M488.8,451.2H499.8M503.0,437.4V446.4M497.5,437.4H508.5M497.5,446.4H508.5M511.6,435.6V444.6M506.1,435.6H517.1M506.1,444.6H517.1M520.3,428.7V437.7M514.8,428.7H525.8M514.8,437.7H525.8M529.0,417.0V426.0M523.5,417.0H534.5M523.5,426.0H534.5M537.6,404.6V413.6M532.1,404.6H543.1M532.1,413.6H543.1M546.3,391.3V400.3M540.8,391.3H551.8M540.8,400.3H551.8M555.0,379.5V388.5M549.5,379.5H560.5M549.5,388.5H560.5M563.6,371.5V380.5M558.1,371.5H569.1M558.1,380.5H569.1M572.3,361.6V370.6M566.8,361.6H577.8M566.8,370.6H577.8M581.0,356.3V365.3M575.5,356.3H586.5M575.5,365.3H586.5M589.7,352.6V361.6M584.2,352.6H595.2M584.2,361.6H595.2M598.3,346.6V355.6M592.8,346.6H603.8M592.8,355.6H603.8M607.0,339.8V348.8M601.5,339.8H612.5M601.5,348.8H612.5M615.7,333.3V342.3M610.2,333.3H621.2M610.2,342.3H621.2M624.3,330.8V339.8M618.8,330.8H629.8M618.8,339.8H629.8M633.0,324.9V333.9M627.5,324.9H638.5M627.5,333.9H638.5M641.7,318.0V327.0M636.2,318.0H647.2M636.2,327.0H647.2M650.4,312.2V321.2M644.9,312.2H655.9M644.9,321.2H655.9M659.0,313.3V322.3M653.5,313.3H664.5M653.5,322.3H664.5M667.7,308.1V317.1M662.2,308.1H673.2M662.2,317.1H673.2M676.4,300.8V309.8M670.9,300.8H681.9M670.9,309.8H681.9M685.0,302.5V311.5M679.5,302.5H690.5M679.5,311.5H690.5M693.7,297.7V306.7M688.2,297.7H699.2M688.2,306.7H699.2M702.4,300.2V309.2M696.9,300.2H707.9M696.9,309.2H707.9M711.1,296.5V305.5M705.6,296.5H716.6M705.6,305.5H716.6M719.7,290.6V299.6M714.2,290.6H725.2M714.2,299.6H725.2M728.4,284.0V293.0M722.9,284.0H733.9M722.9,293.0H733.9M737.1,286.4V295.4M731.6,286.4H742.6M731.6,295.4H742.6M745.7,282.6V291.6M740.2,282.6H751.2M740.2,291.6H751.2M754.4,281.3V290.3M748.9,281.3H759.9M748.9,290.3H759.9M763.1,281.7V290.7M757.6,281.7H768.6M757.6,290.7H768.6M771.8,281.2V290.2M766.2,281.2H777.2M766.2,290.2H777.2M780.4,278.3V287.3M774.9,278.3H785.9M774.9,287.3H785.9M789.1,272.4V281.4M783.6,272.4H794.6M783.6,281.4H794.6M797.8,266.7V275.7M792.3,266.7H803.3M792.3,275.7H803.3M806.4,262.6V271.6M800.9,262.6H811.9M800.9,271.6H811.9M815.1,269.4V278.4M809.6,269.4H820.6M809.6,278.4H820.6M823.8,274.3V283.3M818.3,274.3H829.3M818.3,283.3H829.3M832.4,265.8V274.8M826.9,265.8H837.9M826.9,274.8H837.9M841.1,263.3V272.3M835.6,263.3H846.6M835.6,272.3H846.6M849.8,270.5V279.5M844.3,270.5H855.3M844.3,279.5H855.3M858.5,271.2V280.2M853.0,271.2H864.0M853.0,280.2H864.0M867.1,263.7V272.7M861.6,263.7H872.6M861.6,272.7H872.6M875.8,261.2V270.2M870.3,261.2H881.3M870.3,270.2H881.3" fill="none" stroke="#ED1C24" stroke-width="1.8"/>
<path d="M251.5,538.0L258.0,526.4L245.0,526.4Z" fill="#ED1C24"/>
<path d="M260.2,533.5L266.7,521.9L253.6,521.9Z" fill="#ED1C24"/>
<path d="M268.8,529.0L275.4,517.4L262.3,517.4Z" fill="#ED1C24"/>
<path d="M277.5,523.1L284.1,511.5L271.0,511.5Z" fill="#ED1C24"/>
<path d="M286.2,514.3L292.7,502.7L279.6,502.7Z" fill="#ED1C24"/>
<path d="M294.9,505.4L301.4,493.8L288.3,493.8Z" fill="#ED1C24"/>
<path d="M303.5,502.3L310.1,490.7L297.0,490.7Z" fill="#ED1C24"/>
<path d="M312.2,501.0L318.7,489.4L305.7,489.4Z" fill="#ED1C24"/>
<path d="M320.9,497.8L327.4,486.2L314.3,486.2Z" fill="#ED1C24"/>
<path d="M329.5,494.9L336.1,483.3L323.0,483.3Z" fill="#ED1C24"/>
<path d="M338.2,492.6L344.7,481.0L331.7,481.0Z" fill="#ED1C24"/>
<path d="M346.9,493.3L353.4,481.7L340.3,481.7Z" fill="#ED1C24"/>
<path d="M355.6,494.0L362.1,482.4L349.0,482.4Z" fill="#ED1C24"/>
<path d="M364.2,494.0L370.8,482.4L357.7,482.4Z" fill="#ED1C24"/>
<path d="M372.9,492.8L379.4,481.2L366.4,481.2Z" fill="#ED1C24"/>
<path d="M381.6,489.0L388.1,477.4L375.0,477.4Z" fill="#ED1C24"/>
<path d="M390.2,484.2L396.8,472.6L383.7,472.6Z" fill="#ED1C24"/>
<path d="M398.9,482.4L405.4,470.8L392.4,470.8Z" fill="#ED1C24"/>
<path d="M407.6,483.5L414.1,471.9L401.0,471.9Z" fill="#ED1C24"/>
<path d="M416.2,486.1L422.8,474.5L409.7,474.5Z" fill="#ED1C24"/>
<path d="M424.9,487.5L431.5,475.9L418.4,475.9Z" fill="#ED1C24"/>
<path d="M433.6,488.0L440.1,476.4L427.0,476.4Z" fill="#ED1C24"/>
<path d="M442.3,487.5L448.8,475.9L435.7,475.9Z" fill="#ED1C24"/>
<path d="M450.9,482.5L457.5,470.9L444.4,470.9Z" fill="#ED1C24"/>
<path d="M459.6,477.0L466.1,465.4L453.1,465.4Z" fill="#ED1C24"/>
<path d="M468.3,475.0L474.8,463.4L461.7,463.4Z" fill="#ED1C24"/>
<path d="M476.9,471.2L483.5,459.6L470.4,459.6Z" fill="#ED1C24"/>
<path d="M485.6,462.0L492.2,450.4L479.1,450.4Z" fill="#ED1C24"/>
<path d="M494.3,453.6L500.8,442.0L487.7,442.0Z" fill="#ED1C24"/>
<path d="M503.0,448.7L509.5,437.1L496.4,437.1Z" fill="#ED1C24"/>
<path d="M511.6,447.0L518.2,435.4L505.1,435.4Z" fill="#ED1C24"/>
<path d="M520.3,440.1L526.8,428.5L513.8,428.5Z" fill="#ED1C24"/>
<path d="M529.0,428.4L535.5,416.8L522.4,416.8Z" fill="#ED1C24"/>
<path d="M537.6,416.0L544.2,404.4L531.1,404.4Z" fill="#ED1C24"/>
<path d="M546.3,402.7L552.8,391.1L539.8,391.1Z" fill="#ED1C24"/>
<path d="M555.0,390.9L561.5,379.3L548.4,379.3Z" fill="#ED1C24"/>
<path d="M563.6,382.9L570.2,371.3L557.1,371.3Z" fill="#ED1C24"/>
<path d="M572.3,373.0L578.9,361.4L565.8,361.4Z" fill="#ED1C24"/>
<path d="M581.0,367.7L587.5,356.1L574.5,356.1Z" fill="#ED1C24"/>
<path d="M589.7,364.0L596.2,352.4L583.1,352.4Z" fill="#ED1C24"/>
<path d="M598.3,357.9L604.9,346.3L591.8,346.3Z" fill="#ED1C24"/>
<path d="M607.0,351.2L613.5,339.6L600.5,339.6Z" fill="#ED1C24"/>
<path d="M615.7,344.7L622.2,333.1L609.1,333.1Z" fill="#ED1C24"/>
<path d="M624.3,342.2L630.9,330.6L617.8,330.6Z" fill="#ED1C24"/>
<path d="M633.0,336.2L639.6,324.6L626.5,324.6Z" fill="#ED1C24"/>
<path d="M641.7,329.3L648.2,317.7L635.1,317.7Z" fill="#ED1C24"/>
<path d="M650.4,323.5L656.9,311.9L643.8,311.9Z" fill="#ED1C24"/>
<path d="M659.0,324.7L665.6,313.1L652.5,313.1Z" fill="#ED1C24"/>
<path d="M667.7,319.5L674.2,307.9L661.2,307.9Z" fill="#ED1C24"/>
<path d="M676.4,312.1L682.9,300.5L669.8,300.5Z" fill="#ED1C24"/>
<path d="M685.0,313.9L691.6,302.3L678.5,302.3Z" fill="#ED1C24"/>
<path d="M693.7,309.1L700.3,297.5L687.2,297.5Z" fill="#ED1C24"/>
<path d="M702.4,311.6L708.9,300.0L695.8,300.0Z" fill="#ED1C24"/>
<path d="M711.1,307.8L717.6,296.2L704.5,296.2Z" fill="#ED1C24"/>
<path d="M719.7,302.0L726.3,290.4L713.2,290.4Z" fill="#ED1C24"/>
<path d="M728.4,295.4L734.9,283.8L721.9,283.8Z" fill="#ED1C24"/>
<path d="M737.1,297.7L743.6,286.1L730.5,286.1Z" fill="#ED1C24"/>
<path d="M745.7,294.0L752.3,282.4L739.2,282.4Z" fill="#ED1C24"/>
<path d="M754.4,292.7L760.9,281.1L747.9,281.1Z" fill="#ED1C24"/>
<path d="M763.1,293.1L769.6,281.5L756.5,281.5Z" fill="#ED1C24"/>
<path d="M771.8,292.5L778.3,280.9L765.2,280.9Z" fill="#ED1C24"/>
<path d="M780.4,289.6L787.0,278.0L773.9,278.0Z" fill="#ED1C24"/>
<path d="M789.1,283.7L795.6,272.1L782.6,272.1Z" fill="#ED1C24"/>
<path d="M797.8,278.0L804.3,266.4L791.2,266.4Z" fill="#ED1C24"/>
<path d="M806.4,274.0L813.0,262.4L799.9,262.4Z" fill="#ED1C24"/>
<path d="M815.1,280.7L821.6,269.1L808.6,269.1Z" fill="#ED1C24"/>
<path d="M823.8,285.6L830.3,274.0L817.2,274.0Z" fill="#ED1C24"/>
<path d="M832.4,277.1L839.0,265.5L825.9,265.5Z" fill="#ED1C24"/>
<path d="M841.1,274.6L847.7,263.0L834.6,263.0Z" fill="#ED1C24"/>
<path d="M849.8,281.9L856.3,270.3L843.2,270.3Z" fill="#ED1C24"/>
<path d="M858.5,282.6L865.0,271.0L851.9,271.0Z" fill="#ED1C24"/>
<path d="M867.1,275.1L873.7,263.5L860.6,263.5Z" fill="#ED1C24"/>
<path d="M875.8,272.6L882.3,261.0L869.3,261.0Z" fill="#ED1C24"/>
</g>
<g>
<path d="M251.5,535.9 L260.2,531.1 L268.8,526.3 L277.5,521.1 L286.2,515.3 L294.9,508.8 L303.5,503.7 L312.2,506.0 L320.9,502.7 L329.5,499.1 L338.2,498.3 L346.9,499.1 L355.6,499.6 L364.2,499.4 L372.9,501.4 L381.6,497.9 L390.2,496.2 L398.9,496.1 L407.6,496.1 L416.2,496.1 L424.9,495.4 L433.6,494.6 L442.3,493.8 L450.9,492.3 L459.6,488.4 L468.3,484.5 L476.9,482.8 L485.6,481.0 L494.3,478.2 L503.0,477.4 L511.6,475.7 L520.3,473.5 L529.0,470.4 L537.6,466.3 L546.3,458.8 L555.0,453.0 L563.6,444.6 L572.3,438.0 L581.0,431.3 L589.7,421.9 L598.3,411.3 L607.0,402.9 L615.7,395.2 L624.3,388.9 L633.0,382.5 L641.7,375.0 L650.4,368.0 L659.0,368.5 L667.7,362.1 L676.4,355.6 L685.0,350.8 L693.7,343.5 L702.4,345.8 L711.1,343.0 L719.7,339.0 L728.4,333.5 L737.1,330.0 L745.7,327.2 L754.4,325.3 L763.1,323.3 L771.8,321.3 L780.4,317.0 L789.1,310.9 L797.8,311.1 L806.4,308.0 L815.1,305.6 L823.8,302.9 L832.4,300.2 L841.1,298.5 L849.8,298.5 L858.5,297.0 L867.1,295.3 L875.8,295.8" fill="none" stroke="#3A53A4" stroke-width="5" stroke-linejoin="round"/>
<path d="M251.5,532.9V538.9M246.0,532.9H257.0M246.0,538.9H257.0M260.2,528.1V534.1M254.7,528.1H265.7M254.7,534.1H265.7M268.8,523.3V529.3M263.3,523.3H274.3M263.3,529.3H274.3M277.5,518.1V524.1M272.0,518.1H283.0M272.0,524.1H283.0M286.2,512.3V518.3M280.7,512.3H291.7M280.7,518.3H291.7M294.9,505.8V511.8M289.4,505.8H300.4M289.4,511.8H300.4M303.5,500.7V506.7M298.0,500.7H309.0M298.0,506.7H309.0M312.2,503.0V509.0M306.7,503.0H317.7M306.7,509.0H317.7M320.9,499.7V505.7M315.4,499.7H326.4M315.4,505.7H326.4M329.5,496.1V502.1M324.0,496.1H335.0M324.0,502.1H335.0M338.2,495.3V501.3M332.7,495.3H343.7M332.7,501.3H343.7M346.9,496.1V502.1M341.4,496.1H352.4M341.4,502.1H352.4M355.6,496.6V502.6M350.1,496.6H361.1M350.1,502.6H361.1M364.2,496.4V502.4M358.7,496.4H369.7M358.7,502.4H369.7M372.9,498.4V504.4M367.4,498.4H378.4M367.4,504.4H378.4M381.6,494.9V500.9M376.1,494.9H387.1M376.1,500.9H387.1M390.2,493.2V499.2M384.7,493.2H395.7M384.7,499.2H395.7M398.9,493.1V499.1M393.4,493.1H404.4M393.4,499.1H404.4M407.6,493.1V499.1M402.1,493.1H413.1M402.1,499.1H413.1M416.2,493.1V499.1M410.7,493.1H421.7M410.7,499.1H421.7M424.9,492.4V498.4M419.4,492.4H430.4M419.4,498.4H430.4M433.6,491.6V497.6M428.1,491.6H439.1M428.1,497.6H439.1M442.3,490.8V496.8M436.8,490.8H447.8M436.8,496.8H447.8M450.9,489.3V495.3M445.4,489.3H456.4M445.4,495.3H456.4M459.6,485.4V491.4M454.1,485.4H465.1M454.1,491.4H465.1M468.3,481.5V487.5M462.8,481.5H473.8M462.8,487.5H473.8M476.9,479.8V485.8M471.4,479.8H482.4M471.4,485.8H482.4M485.6,478.0V484.0M480.1,478.0H491.1M480.1,484.0H491.1M494.3,475.2V481.2M488.8,475.2H499.8M488.8,481.2H499.8M503.0,474.4V480.4M497.5,474.4H508.5M497.5,480.4H508.5M511.6,472.7V478.7M506.1,472.7H517.1M506.1,478.7H517.1M520.3,470.5V476.5M514.8,470.5H525.8M514.8,476.5H525.8M529.0,467.4V473.4M523.5,467.4H534.5M523.5,473.4H534.5M537.6,463.3V469.3M532.1,463.3H543.1M532.1,469.3H543.1M546.3,455.8V461.8M540.8,455.8H551.8M540.8,461.8H551.8M555.0,450.0V456.0M549.5,450.0H560.5M549.5,456.0H560.5M563.6,441.6V447.6M558.1,441.6H569.1M558.1,447.6H569.1M572.3,435.0V441.0M566.8,435.0H577.8M566.8,441.0H577.8M581.0,428.3V434.3M575.5,428.3H586.5M575.5,434.3H586.5M589.7,418.9V424.9M584.2,418.9H595.2M584.2,424.9H595.2M598.3,408.3V414.3M592.8,408.3H603.8M592.8,414.3H603.8M607.0,399.9V405.9M601.5,399.9H612.5M601.5,405.9H612.5M615.7,392.2V398.2M610.2,392.2H621.2M610.2,398.2H621.2M624.3,385.9V391.9M618.8,385.9H629.8M618.8,391.9H629.8M633.0,379.5V385.5M627.5,379.5H638.5M627.5,385.5H638.5M641.7,372.0V378.0M636.2,372.0H647.2M636.2,378.0H647.2M650.4,365.0V371.0M644.9,365.0H655.9M644.9,371.0H655.9M659.0,365.5V371.5M653.5,365.5H664.5M653.5,371.5H664.5M667.7,359.1V365.1M662.2,359.1H673.2M662.2,365.1H673.2M676.4,352.6V358.6M670.9,352.6H681.9M670.9,358.6H681.9M685.0,347.8V353.8M679.5,347.8H690.5M679.5,353.8H690.5M693.7,340.5V346.5M688.2,340.5H699.2M688.2,346.5H699.2M702.4,342.8V348.8M696.9,342.8H707.9M696.9,348.8H707.9M711.1,340.0V346.0M705.6,340.0H716.6M705.6,346.0H716.6M719.7,336.0V342.0M714.2,336.0H725.2M714.2,342.0H725.2M728.4,330.5V336.5M722.9,330.5H733.9M722.9,336.5H733.9M737.1,327.0V333.0M731.6,327.0H742.6M731.6,333.0H742.6M745.7,324.2V330.2M740.2,324.2H751.2M740.2,330.2H751.2M754.4,322.3V328.3M748.9,322.3H759.9M748.9,328.3H759.9M763.1,320.3V326.3M757.6,320.3H768.6M757.6,326.3H768.6M771.8,318.3V324.3M766.2,318.3H777.2M766.2,324.3H777.2M780.4,314.0V320.0M774.9,314.0H785.9M774.9,320.0H785.9M789.1,307.9V313.9M783.6,307.9H794.6M783.6,313.9H794.6M797.8,308.1V314.1M792.3,308.1H803.3M792.3,314.1H803.3M806.4,305.0V311.0M800.9,305.0H811.9M800.9,311.0H811.9M815.1,302.6V308.6M809.6,302.6H820.6M809.6,308.6H820.6M823.8,299.9V305.9M818.3,299.9H829.3M818.3,305.9H829.3M832.4,297.2V303.2M826.9,297.2H837.9M826.9,303.2H837.9M841.1,295.5V301.5M835.6,295.5H846.6M835.6,301.5H846.6M849.8,295.5V301.5M844.3,295.5H855.3M844.3,301.5H855.3M858.5,294.0V300.0M853.0,294.0H864.0M853.0,300.0H864.0M867.1,292.3V298.3M861.6,292.3H872.6M861.6,298.3H872.6M875.8,292.8V298.8M870.3,292.8H881.3M870.3,298.8H881.3" fill="none" stroke="#3A53A4" stroke-width="1.8"/>
<circle cx="251.5" cy="535.9" r="5.8" fill="#3A53A4"/>
<circle cx="260.2" cy="531.1" r="5.8" fill="#3A53A4"/>
<circle cx="268.8" cy="526.3" r="5.8" fill="#3A53A4"/>
<circle cx="277.5" cy="521.1" r="5.8" fill="#3A53A4"/>
<circle cx="286.2" cy="515.3" r="5.8" fill="#3A53A4"/>
<circle cx="294.9" cy="508.8" r="5.8" fill="#3A53A4"/>
<circle cx="303.5" cy="503.7" r="5.8" fill="#3A53A4"/>
<circle cx="312.2" cy="506.0" r="5.8" fill="#3A53A4"/>
<circle cx="320.9" cy="502.7" r="5.8" fill="#3A53A4"/>
<circle cx="329.5" cy="499.1" r="5.8" fill="#3A53A4"/>
<circle cx="338.2" cy="498.3" r="5.8" fill="#3A53A4"/>
<circle cx="346.9" cy="499.1" r="5.8" fill="#3A53A4"/>
<circle cx="355.6" cy="499.6" r="5.8" fill="#3A53A4"/>
<circle cx="364.2" cy="499.4" r="5.8" fill="#3A53A4"/>
<circle cx="372.9" cy="501.4" r="5.8" fill="#3A53A4"/>
<circle cx="381.6" cy="497.9" r="5.8" fill="#3A53A4"/>
<circle cx="390.2" cy="496.2" r="5.8" fill="#3A53A4"/>
<circle cx="398.9" cy="496.1" r="5.8" fill="#3A53A4"/>
<circle cx="407.6" cy="496.1" r="5.8" fill="#3A53A4"/>
<circle cx="416.2" cy="496.1" r="5.8" fill="#3A53A4"/>
<circle cx="424.9" cy="495.4" r="5.8" fill="#3A53A4"/>
<circle cx="433.6" cy="494.6" r="5.8" fill="#3A53A4"/>
<circle cx="442.3" cy="493.8" r="5.8" fill="#3A53A4"/>
<circle cx="450.9" cy="492.3" r="5.8" fill="#3A53A4"/>
<circle cx="459.6" cy="488.4" r="5.8" fill="#3A53A4"/>
<circle cx="468.3" cy="484.5" r="5.8" fill="#3A53A4"/>
<circle cx="476.9" cy="482.8" r="5.8" fill="#3A53A4"/>
<circle cx="485.6" cy="481.0" r="5.8" fill="#3A53A4"/>
<circle cx="494.3" cy="478.2" r="5.8" fill="#3A53A4"/>
<circle cx="503.0" cy="477.4" r="5.8" fill="#3A53A4"/>
<circle cx="511.6" cy="475.7" r="5.8" fill="#3A53A4"/>
<circle cx="520.3" cy="473.5" r="5.8" fill="#3A53A4"/>
<circle cx="529.0" cy="470.4" r="5.8" fill="#3A53A4"/>
<circle cx="537.6" cy="466.3" r="5.8" fill="#3A53A4"/>
<circle cx="546.3" cy="458.8" r="5.8" fill="#3A53A4"/>
<circle cx="555.0" cy="453.0" r="5.8" fill="#3A53A4"/>
<circle cx="563.6" cy="444.6" r="5.8" fill="#3A53A4"/>
<circle cx="572.3" cy="438.0" r="5.8" fill="#3A53A4"/>
<circle cx="581.0" cy="431.3" r="5.8" fill="#3A53A4"/>
<circle cx="589.7" cy="421.9" r="5.8" fill="#3A53A4"/>
<circle cx="598.3" cy="411.3" r="5.8" fill="#3A53A4"/>
<circle cx="607.0" cy="402.9" r="5.8" fill="#3A53A4"/>
<circle cx="615.7" cy="395.2" r="5.8" fill="#3A53A4"/>
<circle cx="624.3" cy="388.9" r="5.8" fill="#3A53A4"/>
<circle cx="633.0" cy="382.5" r="5.8" fill="#3A53A4"/>
<circle cx="641.7" cy="375.0" r="5.8" fill="#3A53A4"/>
<circle cx="650.4" cy="368.0" r="5.8" fill="#3A53A4"/>
<circle cx="659.0" cy="368.5" r="5.8" fill="#3A53A4"/>
<circle cx="667.7" cy="362.1" r="5.8" fill="#3A53A4"/>
<circle cx="676.4" cy="355.6" r="5.8" fill="#3A53A4"/>
<circle cx="685.0" cy="350.8" r="5.8" fill="#3A53A4"/>
<circle cx="693.7" cy="343.5" r="5.8" fill="#3A53A4"/>
<circle cx="702.4" cy="345.8" r="5.8" fill="#3A53A4"/>
<circle cx="711.1" cy="343.0" r="5.8" fill="#3A53A4"/>
<circle cx="719.7" cy="339.0" r="5.8" fill="#3A53A4"/>
<circle cx="728.4" cy="333.5" r="5.8" fill="#3A53A4"/>
<circle cx="737.1" cy="330.0" r="5.8" fill="#3A53A4"/>
<circle cx="745.7" cy="327.2" r="5.8" fill="#3A53A4"/>
<circle cx="754.4" cy="325.3" r="5.8" fill="#3A53A4"/>
<circle cx="763.1" cy="323.3" r="5.8" fill="#3A53A4"/>
<circle cx="771.8" cy="321.3" r="5.8" fill="#3A53A4"/>
<circle cx="780.4" cy="317.0" r="5.8" fill="#3A53A4"/>
<circle cx="789.1" cy="310.9" r="5.8" fill="#3A53A4"/>
<circle cx="797.8" cy="311.1" r="5.8" fill="#3A53A4"/>
<circle cx="806.4" cy="308.0" r="5.8" fill="#3A53A4"/>
<circle cx="815.1" cy="305.6" r="5.8" fill="#3A53A4"/>
<circle cx="823.8" cy="302.9" r="5.8" fill="#3A53A4"/>
<circle cx="832.4" cy="300.2" r="5.8" fill="#3A53A4"/>
<circle cx="841.1" cy="298.5" r="5.8" fill="#3A53A4"/>
<circle cx="849.8" cy="298.5" r="5.8" fill="#3A53A4"/>
<circle cx="858.5" cy="297.0" r="5.8" fill="#3A53A4"/>
<circle cx="867.1" cy="295.3" r="5.8" fill="#3A53A4"/>
<circle cx="875.8" cy="295.8" r="5.8" fill="#3A53A4"/>
</g>
<g>
<path d="M1433.2,522.0 L1442.0,517.0 L1450.9,509.4 L1459.7,501.0 L1468.5,490.2 L1477.4,481.2 L1486.2,477.6 L1495.1,474.4 L1503.9,469.1 L1512.7,463.8 L1521.6,458.7 L1530.4,448.9 L1539.2,463.0 L1548.1,455.6 L1556.9,463.2 L1565.8,453.2 L1574.6,448.8 L1583.4,444.7 L1592.3,442.9 L1601.1,444.7 L1610.0,446.8 L1618.8,450.0 L1627.6,446.8 L1636.5,440.4 L1645.3,431.9 L1654.1,422.7 L1663.0,416.5 L1671.8,407.6 L1680.7,397.7 L1689.5,387.5 L1698.3,378.5 L1707.2,369.6 L1716.0,361.6 L1724.8,350.2 L1733.7,328.6 L1742.5,314.3 L1751.3,305.6 L1760.2,298.2 L1769.0,300.1 L1777.9,302.5 L1786.7,304.4 L1795.5,290.0 L1804.4,283.3 L1813.2,278.8 L1822.1,274.7 L1830.9,265.1 L1839.7,259.1 L1848.6,261.5 L1857.4,256.2 L1866.2,252.8 L1875.1,252.1 L1883.9,252.6 L1892.8,252.5 L1901.6,251.9 L1910.4,250.8 L1919.3,249.5 L1928.1,248.6 L1936.9,247.8 L1945.8,247.2 L1954.6,246.7 L1963.5,245.6 L1972.3,242.9 L1981.1,240.8 L1990.0,239.3 L1998.8,237.9 L2007.6,236.7 L2016.5,235.3 L2025.3,233.9 L2034.2,235.7 L2043.0,238.2 L2051.8,240.4 L2060.7,237.1 L2069.5,234.8" fill="none" stroke="#000000" stroke-width="5" stroke-linejoin="round"/>
<path d="M1433.2,518.0V526.0M1427.7,518.0H1438.7M1427.7,526.0H1438.7M1442.0,513.0V521.0M1436.5,513.0H1447.5M1436.5,521.0H1447.5M1450.9,505.4V513.4M1445.4,505.4H1456.4M1445.4,513.4H1456.4M1459.7,497.0V505.0M1454.2,497.0H1465.2M1454.2,505.0H1465.2M1468.5,486.2V494.2M1463.0,486.2H1474.0M1463.0,494.2H1474.0M1477.4,477.2V485.2M1471.9,477.2H1482.9M1471.9,485.2H1482.9M1486.2,473.6V481.6M1480.7,473.6H1491.7M1480.7,481.6H1491.7M1495.1,470.4V478.4M1489.6,470.4H1500.6M1489.6,478.4H1500.6M1503.9,465.1V473.1M1498.4,465.1H1509.4M1498.4,473.1H1509.4M1512.7,459.8V467.8M1507.2,459.8H1518.2M1507.2,467.8H1518.2M1521.6,454.7V462.7M1516.1,454.7H1527.1M1516.1,462.7H1527.1M1530.4,444.9V452.9M1524.9,444.9H1535.9M1524.9,452.9H1535.9M1539.2,459.0V467.0M1533.8,459.0H1544.8M1533.8,467.0H1544.8M1548.1,451.6V459.6M1542.6,451.6H1553.6M1542.6,459.6H1553.6M1556.9,459.2V467.2M1551.4,459.2H1562.4M1551.4,467.2H1562.4M1565.8,449.2V457.2M1560.3,449.2H1571.3M1560.3,457.2H1571.3M1574.6,444.8V452.8M1569.1,444.8H1580.1M1569.1,452.8H1580.1M1583.4,440.7V448.7M1577.9,440.7H1588.9M1577.9,448.7H1588.9M1592.3,438.9V446.9M1586.8,438.9H1597.8M1586.8,446.9H1597.8M1601.1,440.7V448.7M1595.6,440.7H1606.6M1595.6,448.7H1606.6M1610.0,442.8V450.8M1604.5,442.8H1615.5M1604.5,450.8H1615.5M1618.8,446.0V454.0M1613.3,446.0H1624.3M1613.3,454.0H1624.3M1627.6,442.8V450.8M1622.1,442.8H1633.1M1622.1,450.8H1633.1M1636.5,436.4V444.4M1631.0,436.4H1642.0M1631.0,444.4H1642.0M1645.3,427.9V435.9M1639.8,427.9H1650.8M1639.8,435.9H1650.8M1654.1,418.7V426.7M1648.6,418.7H1659.6M1648.6,426.7H1659.6M1663.0,412.5V420.5M1657.5,412.5H1668.5M1657.5,420.5H1668.5M1671.8,403.6V411.6M1666.3,403.6H1677.3M1666.3,411.6H1677.3M1680.7,393.7V401.7M1675.2,393.7H1686.2M1675.2,401.7H1686.2M1689.5,383.5V391.5M1684.0,383.5H1695.0M1684.0,391.5H1695.0M1698.3,374.5V382.5M1692.8,374.5H1703.8M1692.8,382.5H1703.8M1707.2,365.6V373.6M1701.7,365.6H1712.7M1701.7,373.6H1712.7M1716.0,357.6V365.6M1710.5,357.6H1721.5M1710.5,365.6H1721.5M1724.8,346.2V354.2M1719.3,346.2H1730.3M1719.3,354.2H1730.3M1733.7,324.6V332.6M1728.2,324.6H1739.2M1728.2,332.6H1739.2M1742.5,310.3V318.3M1737.0,310.3H1748.0M1737.0,318.3H1748.0M1751.3,301.6V309.6M1745.8,301.6H1756.8M1745.8,309.6H1756.8M1760.2,294.2V302.2M1754.7,294.2H1765.7M1754.7,302.2H1765.7M1769.0,296.1V304.1M1763.5,296.1H1774.5M1763.5,304.1H1774.5M1777.9,298.5V306.5M1772.4,298.5H1783.4M1772.4,306.5H1783.4M1786.7,300.4V308.4M1781.2,300.4H1792.2M1781.2,308.4H1792.2M1795.5,286.0V294.0M1790.0,286.0H1801.0M1790.0,294.0H1801.0M1804.4,279.3V287.3M1798.9,279.3H1809.9M1798.9,287.3H1809.9M1813.2,274.8V282.8M1807.7,274.8H1818.7M1807.7,282.8H1818.7M1822.1,270.7V278.7M1816.6,270.7H1827.6M1816.6,278.7H1827.6M1830.9,261.1V269.1M1825.4,261.1H1836.4M1825.4,269.1H1836.4M1839.7,255.1V263.1M1834.2,255.1H1845.2M1834.2,263.1H1845.2M1848.6,257.5V265.5M1843.1,257.5H1854.1M1843.1,265.5H1854.1M1857.4,252.2V260.2M1851.9,252.2H1862.9M1851.9,260.2H1862.9M1866.2,248.8V256.8M1860.7,248.8H1871.7M1860.7,256.8H1871.7M1875.1,248.1V256.1M1869.6,248.1H1880.6M1869.6,256.1H1880.6M1883.9,248.6V256.6M1878.4,248.6H1889.4M1878.4,256.6H1889.4M1892.8,248.5V256.5M1887.2,248.5H1898.2M1887.2,256.5H1898.2M1901.6,247.9V255.9M1896.1,247.9H1907.1M1896.1,255.9H1907.1M1910.4,246.8V254.8M1904.9,246.8H1915.9M1904.9,254.8H1915.9M1919.3,245.5V253.5M1913.8,245.5H1924.8M1913.8,253.5H1924.8M1928.1,244.6V252.6M1922.6,244.6H1933.6M1922.6,252.6H1933.6M1936.9,243.8V251.8M1931.4,243.8H1942.4M1931.4,251.8H1942.4M1945.8,243.2V251.2M1940.3,243.2H1951.3M1940.3,251.2H1951.3M1954.6,242.7V250.7M1949.1,242.7H1960.1M1949.1,250.7H1960.1M1963.5,241.6V249.6M1958.0,241.6H1969.0M1958.0,249.6H1969.0M1972.3,238.9V246.9M1966.8,238.9H1977.8M1966.8,246.9H1977.8M1981.1,236.8V244.8M1975.6,236.8H1986.6M1975.6,244.8H1986.6M1990.0,235.3V243.3M1984.5,235.3H1995.5M1984.5,243.3H1995.5M1998.8,233.9V241.9M1993.3,233.9H2004.3M1993.3,241.9H2004.3M2007.6,232.7V240.7M2002.1,232.7H2013.1M2002.1,240.7H2013.1M2016.5,231.3V239.3M2011.0,231.3H2022.0M2011.0,239.3H2022.0M2025.3,229.9V237.9M2019.8,229.9H2030.8M2019.8,237.9H2030.8M2034.2,231.7V239.7M2028.7,231.7H2039.7M2028.7,239.7H2039.7M2043.0,234.2V242.2M2037.5,234.2H2048.5M2037.5,242.2H2048.5M2051.8,236.4V244.4M2046.3,236.4H2057.3M2046.3,244.4H2057.3M2060.7,233.1V241.1M2055.2,233.1H2066.2M2055.2,241.1H2066.2M2069.5,230.8V238.8M2064.0,230.8H2075.0M2064.0,238.8H2075.0" fill="none" stroke="#000000" stroke-width="1.8"/>
<circle cx="1433.2" cy="522.0" r="5.8" fill="#000000"/>
<circle cx="1442.0" cy="517.0" r="5.8" fill="#000000"/>
<circle cx="1450.9" cy="509.4" r="5.8" fill="#000000"/>
<circle cx="1459.7" cy="501.0" r="5.8" fill="#000000"/>
<circle cx="1468.5" cy="490.2" r="5.8" fill="#000000"/>
<circle cx="1477.4" cy="481.2" r="5.8" fill="#000000"/>
<circle cx="1486.2" cy="477.6" r="5.8" fill="#000000"/>
<circle cx="1495.1" cy="474.4" r="5.8" fill="#000000"/>
<circle cx="1503.9" cy="469.1" r="5.8" fill="#000000"/>
<circle cx="1512.7" cy="463.8" r="5.8" fill="#000000"/>
<circle cx="1521.6" cy="458.7" r="5.8" fill="#000000"/>
<circle cx="1530.4" cy="448.9" r="5.8" fill="#000000"/>
<circle cx="1539.2" cy="463.0" r="5.8" fill="#000000"/>
<circle cx="1548.1" cy="455.6" r="5.8" fill="#000000"/>
<circle cx="1556.9" cy="463.2" r="5.8" fill="#000000"/>
<circle cx="1565.8" cy="453.2" r="5.8" fill="#000000"/>
<circle cx="1574.6" cy="448.8" r="5.8" fill="#000000"/>
<circle cx="1583.4" cy="444.7" r="5.8" fill="#000000"/>
<circle cx="1592.3" cy="442.9" r="5.8" fill="#000000"/>
<circle cx="1601.1" cy="444.7" r="5.8" fill="#000000"/>
<circle cx="1610.0" cy="446.8" r="5.8" fill="#000000"/>
<circle cx="1618.8" cy="450.0" r="5.8" fill="#000000"/>
<circle cx="1627.6" cy="446.8" r="5.8" fill="#000000"/>
<circle cx="1636.5" cy="440.4" r="5.8" fill="#000000"/>
<circle cx="1645.3" cy="431.9" r="5.8" fill="#000000"/>
<circle cx="1654.1" cy="422.7" r="5.8" fill="#000000"/>
<circle cx="1663.0" cy="416.5" r="5.8" fill="#000000"/>
<circle cx="1671.8" cy="407.6" r="5.8" fill="#000000"/>
<circle cx="1680.7" cy="397.7" r="5.8" fill="#000000"/>
<circle cx="1689.5" cy="387.5" r="5.8" fill="#000000"/>
<circle cx="1698.3" cy="378.5" r="5.8" fill="#000000"/>
<circle cx="1707.2" cy="369.6" r="5.8" fill="#000000"/>
<circle cx="1716.0" cy="361.6" r="5.8" fill="#000000"/>
<circle cx="1724.8" cy="350.2" r="5.8" fill="#000000"/>
<circle cx="1733.7" cy="328.6" r="5.8" fill="#000000"/>
<circle cx="1742.5" cy="314.3" r="5.8" fill="#000000"/>
<circle cx="1751.3" cy="305.6" r="5.8" fill="#000000"/>
<circle cx="1760.2" cy="298.2" r="5.8" fill="#000000"/>
<circle cx="1769.0" cy="300.1" r="5.8" fill="#000000"/>
<circle cx="1777.9" cy="302.5" r="5.8" fill="#000000"/>
<circle cx="1786.7" cy="304.4" r="5.8" fill="#000000"/>
<circle cx="1795.5" cy="290.0" r="5.8" fill="#000000"/>
<circle cx="1804.4" cy="283.3" r="5.8" fill="#000000"/>
<circle cx="1813.2" cy="278.8" r="5.8" fill="#000000"/>
<circle cx="1822.1" cy="274.7" r="5.8" fill="#000000"/>
<circle cx="1830.9" cy="265.1" r="5.8" fill="#000000"/>
<circle cx="1839.7" cy="259.1" r="5.8" fill="#000000"/>
<circle cx="1848.6" cy="261.5" r="5.8" fill="#000000"/>
<circle cx="1857.4" cy="256.2" r="5.8" fill="#000000"/>
<circle cx="1866.2" cy="252.8" r="5.8" fill="#000000"/>
<circle cx="1875.1" cy="252.1" r="5.8" fill="#000000"/>
<circle cx="1883.9" cy="252.6" r="5.8" fill="#000000"/>
<circle cx="1892.8" cy="252.5" r="5.8" fill="#000000"/>
<circle cx="1901.6" cy="251.9" r="5.8" fill="#000000"/>
<circle cx="1910.4" cy="250.8" r="5.8" fill="#000000"/>
<circle cx="1919.3" cy="249.5" r="5.8" fill="#000000"/>
<circle cx="1928.1" cy="248.6" r="5.8" fill="#000000"/>
<circle cx="1936.9" cy="247.8" r="5.8" fill="#000000"/>
<circle cx="1945.8" cy="247.2" r="5.8" fill="#000000"/>
<circle cx="1954.6" cy="246.7" r="5.8" fill="#000000"/>
<circle cx="1963.5" cy="245.6" r="5.8" fill="#000000"/>
<circle cx="1972.3" cy="242.9" r="5.8" fill="#000000"/>
<circle cx="1981.1" cy="240.8" r="5.8" fill="#000000"/>
<circle cx="1990.0" cy="239.3" r="5.8" fill="#000000"/>
<circle cx="1998.8" cy="237.9" r="5.8" fill="#000000"/>
<circle cx="2007.6" cy="236.7" r="5.8" fill="#000000"/>
<circle cx="2016.5" cy="235.3" r="5.8" fill="#000000"/>
<circle cx="2025.3" cy="233.9" r="5.8" fill="#000000"/>
<circle cx="2034.2" cy="235.7" r="5.8" fill="#000000"/>
<circle cx="2043.0" cy="238.2" r="5.8" fill="#000000"/>
<circle cx="2051.8" cy="240.4" r="5.8" fill="#000000"/>
<circle cx="2060.7" cy="237.1" r="5.8" fill="#000000"/>
<circle cx="2069.5" cy="234.8" r="5.8" fill="#000000"/>
</g>
<g>
<path d="M1433.2,524.9 L1442.0,529.7 L1450.9,525.0 L1459.7,517.4 L1468.5,510.4 L1477.4,497.1 L1486.2,482.0 L1495.1,478.6 L1503.9,475.1 L1512.7,473.3 L1521.6,473.0 L1530.4,473.4 L1539.2,474.3 L1548.1,473.1 L1556.9,471.4 L1565.8,469.2 L1574.6,467.0 L1583.4,465.2 L1592.3,463.8 L1601.1,462.9 L1610.0,462.5 L1618.8,462.5 L1627.6,461.7 L1636.5,460.4 L1645.3,454.5 L1654.1,443.9 L1663.0,434.7 L1671.8,426.7 L1680.7,419.8 L1689.5,412.8 L1698.3,404.7 L1707.2,395.4 L1716.0,383.2 L1724.8,370.8 L1733.7,358.4 L1742.5,345.9 L1751.3,339.1 L1760.2,332.8 L1769.0,326.6 L1777.9,321.5 L1786.7,315.6 L1795.5,308.7 L1804.4,301.9 L1813.2,295.7 L1822.1,290.4 L1830.9,285.1 L1839.7,280.3 L1848.6,275.6 L1857.4,270.9 L1866.2,265.9 L1875.1,260.3 L1883.9,255.5 L1892.8,251.5 L1901.6,247.8 L1910.4,244.1 L1919.3,240.5 L1928.1,237.0 L1936.9,234.0 L1945.8,231.1 L1954.6,228.5 L1963.5,225.8 L1972.3,223.2 L1981.1,220.7 L1990.0,218.7 L1998.8,217.4 L2007.6,216.5 L2016.5,215.2 L2025.3,213.6 L2034.2,212.6 L2043.0,211.7 L2051.8,211.1 L2060.7,210.7 L2069.5,210.7" fill="none" stroke="#ED1C24" stroke-width="5" stroke-linejoin="round"/>
<path d="M1433.2,520.9V528.9M1427.7,520.9H1438.7M1427.7,528.9H1438.7M1442.0,525.6V533.9M1436.5,525.6H1447.5M1436.5,533.9H1447.5M1450.9,520.7V529.3M1445.4,520.7H1456.4M1445.4,529.3H1456.4M1459.7,512.9V521.8M1454.2,512.9H1465.2M1454.2,521.8H1465.2M1468.5,505.8V515.0M1463.0,505.8H1474.0M1463.0,515.0H1474.0M1477.4,492.4V501.9M1471.9,492.4H1482.9M1471.9,501.9H1482.9M1486.2,477.1V486.9M1480.7,477.1H1491.7M1480.7,486.9H1491.7M1495.1,473.5V483.6M1489.6,473.5H1500.6M1489.6,483.6H1500.6M1503.9,469.9V480.3M1498.4,469.9H1509.4M1498.4,480.3H1509.4M1512.7,467.9V478.6M1507.2,467.9H1518.2M1507.2,478.6H1518.2M1521.6,467.5V478.5M1516.1,467.5H1527.1M1516.1,478.5H1527.1M1530.4,467.8V479.1M1524.9,467.8H1535.9M1524.9,479.1H1535.9M1539.2,468.5V480.1M1533.8,468.5H1544.8M1533.8,480.1H1544.8M1548.1,467.2V479.1M1542.6,467.2H1553.6M1542.6,479.1H1553.6M1556.9,465.3V477.5M1551.4,465.3H1562.4M1551.4,477.5H1562.4M1565.8,463.0V475.5M1560.3,463.0H1571.3M1560.3,475.5H1571.3M1574.6,460.6V473.4M1569.1,460.6H1580.1M1569.1,473.4H1580.1M1583.4,458.7V471.8M1577.9,458.7H1588.9M1577.9,471.8H1588.9M1592.3,457.1V470.5M1586.8,457.1H1597.8M1586.8,470.5H1597.8M1601.1,456.1V469.8M1595.6,456.1H1606.6M1595.6,469.8H1606.6M1610.0,455.5V469.5M1604.5,455.5H1615.5M1604.5,469.5H1615.5M1618.8,455.4V469.7M1613.3,455.4H1624.3M1613.3,469.7H1624.3M1627.6,454.4V469.0M1622.1,454.4H1633.1M1622.1,469.0H1633.1M1636.5,453.0V467.9M1631.0,453.0H1642.0M1631.0,467.9H1642.0M1645.3,446.9V462.1M1639.8,446.9H1650.8M1639.8,462.1H1650.8M1654.1,436.2V451.7M1648.6,436.2H1659.6M1648.6,451.7H1659.6M1663.0,426.8V442.6M1657.5,426.8H1668.5M1657.5,442.6H1668.5M1671.8,418.6V434.7M1666.3,418.6H1677.3M1666.3,434.7H1677.3M1680.7,411.6V428.0M1675.2,411.6H1686.2M1675.2,428.0H1686.2M1689.5,404.5V421.2M1684.0,404.5H1695.0M1684.0,421.2H1695.0M1698.3,396.2V413.2M1692.8,396.2H1703.8M1692.8,413.2H1703.8M1707.2,386.8V404.1M1701.7,386.8H1712.7M1701.7,404.1H1712.7M1716.0,374.4V392.0M1710.5,374.4H1721.5M1710.5,392.0H1721.5M1724.8,361.8V379.7M1719.3,361.8H1730.3M1719.3,379.7H1730.3M1733.7,349.3V367.5M1728.2,349.3H1739.2M1728.2,367.5H1739.2M1742.5,336.6V355.1M1737.0,336.6H1748.0M1737.0,355.1H1748.0M1751.3,329.7V348.5M1745.8,329.7H1756.8M1745.8,348.5H1756.8M1760.2,323.2V342.3M1754.7,323.2H1765.7M1754.7,342.3H1765.7M1769.0,316.9V336.3M1763.5,316.9H1774.5M1763.5,336.3H1774.5M1777.9,311.7V331.4M1772.4,311.7H1783.4M1772.4,331.4H1783.4M1786.7,305.6V325.6M1781.2,305.6H1792.2M1781.2,325.6H1792.2M1795.5,298.5V318.9M1790.0,298.5H1801.0M1790.0,318.9H1801.0M1804.4,291.4V312.3M1798.9,291.4H1809.9M1798.9,312.3H1809.9M1813.2,285.0V306.3M1807.7,285.0H1818.7M1807.7,306.3H1818.7M1822.1,279.6V301.3M1816.6,279.6H1827.6M1816.6,301.3H1827.6M1830.9,274.0V296.2M1825.4,274.0H1836.4M1825.4,296.2H1836.4M1839.7,269.0V291.6M1834.2,269.0H1845.2M1834.2,291.6H1845.2M1848.6,264.1V287.1M1843.1,264.1H1854.1M1843.1,287.1H1854.1M1857.4,259.2V282.7M1851.9,259.2H1862.9M1851.9,282.7H1862.9M1866.2,253.9V277.8M1860.7,253.9H1871.7M1860.7,277.8H1871.7M1875.1,248.1V272.5M1869.6,248.1H1880.6M1869.6,272.5H1880.6M1883.9,243.1V267.9M1878.4,243.1H1889.4M1878.4,267.9H1889.4M1892.8,238.9V264.1M1887.2,238.9H1898.2M1887.2,264.1H1898.2M1901.6,235.0V260.7M1896.1,235.0H1907.1M1896.1,260.7H1907.1M1910.4,231.0V257.1M1904.9,231.0H1915.9M1904.9,257.1H1915.9M1919.3,227.2V253.8M1913.8,227.2H1924.8M1913.8,253.8H1924.8M1928.1,223.5V250.5M1922.6,223.5H1933.6M1922.6,250.5H1933.6M1936.9,220.3V247.7M1931.4,220.3H1942.4M1931.4,247.7H1942.4M1945.8,217.2V245.1M1940.3,217.2H1951.3M1940.3,245.1H1951.3M1954.6,214.3V242.6M1949.1,214.3H1960.1M1949.1,242.6H1960.1M1963.5,211.5V240.2M1958.0,211.5H1969.0M1958.0,240.2H1969.0M1972.3,208.6V237.8M1966.8,208.6H1977.8M1966.8,237.8H1977.8M1981.1,205.9V235.5M1975.6,205.9H1986.6M1975.6,235.5H1986.6M1990.0,203.7V233.8M1984.5,203.7H1995.5M1984.5,233.8H1995.5M1998.8,202.1V232.6M1993.3,202.1H2004.3M1993.3,232.6H2004.3M2007.6,201.0V231.9M2002.1,201.0H2013.1M2002.1,231.9H2013.1M2016.5,199.5V230.9M2011.0,199.5H2022.0M2011.0,230.9H2022.0M2025.3,197.7V229.6M2019.8,197.7H2030.8M2019.8,229.6H2030.8M2034.2,196.5V228.7M2028.7,196.5H2039.7M2028.7,228.7H2039.7M2043.0,195.4V228.1M2037.5,195.4H2048.5M2037.5,228.1H2048.5M2051.8,194.6V227.7M2046.3,194.6H2057.3M2046.3,227.7H2057.3M2060.7,193.9V227.5M2055.2,193.9H2066.2M2055.2,227.5H2066.2M2069.5,193.7V227.7M2064.0,193.7H2075.0M2064.0,227.7H2075.0" fill="none" stroke="#ED1C24" stroke-width="1.8"/>
<path d="M1433.2,531.8L1439.7,520.2L1426.7,520.2Z" fill="#ED1C24"/>
<path d="M1442.0,536.6L1448.6,525.0L1435.5,525.0Z" fill="#ED1C24"/>
<path d="M1450.9,531.9L1457.4,520.3L1444.3,520.3Z" fill="#ED1C24"/>
<path d="M1459.7,524.2L1466.3,512.6L1453.2,512.6Z" fill="#ED1C24"/>
<path d="M1468.5,517.3L1475.1,505.7L1462.0,505.7Z" fill="#ED1C24"/>
<path d="M1477.4,504.0L1483.9,492.4L1470.8,492.4Z" fill="#ED1C24"/>
<path d="M1486.2,488.9L1492.8,477.3L1479.7,477.3Z" fill="#ED1C24"/>
<path d="M1495.1,485.4L1501.6,473.8L1488.5,473.8Z" fill="#ED1C24"/>
<path d="M1503.9,482.0L1510.4,470.4L1497.4,470.4Z" fill="#ED1C24"/>
<path d="M1512.7,480.1L1519.3,468.5L1506.2,468.5Z" fill="#ED1C24"/>
<path d="M1521.6,479.9L1528.1,468.3L1515.0,468.3Z" fill="#ED1C24"/>
<path d="M1530.4,480.3L1537.0,468.7L1523.9,468.7Z" fill="#ED1C24"/>
<path d="M1539.2,481.2L1545.8,469.6L1532.7,469.6Z" fill="#ED1C24"/>
<path d="M1548.1,480.0L1554.6,468.4L1541.5,468.4Z" fill="#ED1C24"/>
<path d="M1556.9,478.2L1563.5,466.6L1550.4,466.6Z" fill="#ED1C24"/>
<path d="M1565.8,476.1L1572.3,464.5L1559.2,464.5Z" fill="#ED1C24"/>
<path d="M1574.6,473.8L1581.1,462.2L1568.1,462.2Z" fill="#ED1C24"/>
<path d="M1583.4,472.1L1590.0,460.5L1576.9,460.5Z" fill="#ED1C24"/>
<path d="M1592.3,470.6L1598.8,459.0L1585.7,459.0Z" fill="#ED1C24"/>
<path d="M1601.1,469.8L1607.7,458.2L1594.6,458.2Z" fill="#ED1C24"/>
<path d="M1610.0,469.4L1616.5,457.8L1603.4,457.8Z" fill="#ED1C24"/>
<path d="M1618.8,469.4L1625.3,457.8L1612.2,457.8Z" fill="#ED1C24"/>
<path d="M1627.6,468.6L1634.2,457.0L1621.1,457.0Z" fill="#ED1C24"/>
<path d="M1636.5,467.3L1643.0,455.7L1629.9,455.7Z" fill="#ED1C24"/>
<path d="M1645.3,461.3L1651.8,449.7L1638.8,449.7Z" fill="#ED1C24"/>
<path d="M1654.1,450.8L1660.7,439.2L1647.6,439.2Z" fill="#ED1C24"/>
<path d="M1663.0,441.5L1669.5,429.9L1656.4,429.9Z" fill="#ED1C24"/>
<path d="M1671.8,433.5L1678.4,421.9L1665.3,421.9Z" fill="#ED1C24"/>
<path d="M1680.7,426.7L1687.2,415.1L1674.1,415.1Z" fill="#ED1C24"/>
<path d="M1689.5,419.7L1696.0,408.1L1682.9,408.1Z" fill="#ED1C24"/>
<path d="M1698.3,411.6L1704.9,400.0L1691.8,400.0Z" fill="#ED1C24"/>
<path d="M1707.2,402.3L1713.7,390.7L1700.6,390.7Z" fill="#ED1C24"/>
<path d="M1716.0,390.0L1722.5,378.4L1709.5,378.4Z" fill="#ED1C24"/>
<path d="M1724.8,377.7L1731.4,366.1L1718.3,366.1Z" fill="#ED1C24"/>
<path d="M1733.7,365.2L1740.2,353.6L1727.1,353.6Z" fill="#ED1C24"/>
<path d="M1742.5,352.7L1749.1,341.1L1736.0,341.1Z" fill="#ED1C24"/>
<path d="M1751.3,346.0L1757.9,334.4L1744.8,334.4Z" fill="#ED1C24"/>
<path d="M1760.2,339.6L1766.7,328.0L1753.6,328.0Z" fill="#ED1C24"/>
<path d="M1769.0,333.4L1775.6,321.8L1762.5,321.8Z" fill="#ED1C24"/>
<path d="M1777.9,328.4L1784.4,316.8L1771.3,316.8Z" fill="#ED1C24"/>
<path d="M1786.7,322.5L1793.2,310.9L1780.2,310.9Z" fill="#ED1C24"/>
<path d="M1795.5,315.5L1802.1,303.9L1789.0,303.9Z" fill="#ED1C24"/>
<path d="M1804.4,308.7L1810.9,297.1L1797.8,297.1Z" fill="#ED1C24"/>
<path d="M1813.2,302.5L1819.8,290.9L1806.7,290.9Z" fill="#ED1C24"/>
<path d="M1822.1,297.3L1828.6,285.7L1815.5,285.7Z" fill="#ED1C24"/>
<path d="M1830.9,291.9L1837.4,280.3L1824.3,280.3Z" fill="#ED1C24"/>
<path d="M1839.7,287.2L1846.3,275.6L1833.2,275.6Z" fill="#ED1C24"/>
<path d="M1848.6,282.5L1855.1,270.9L1842.0,270.9Z" fill="#ED1C24"/>
<path d="M1857.4,277.8L1863.9,266.2L1850.9,266.2Z" fill="#ED1C24"/>
<path d="M1866.2,272.7L1872.8,261.1L1859.7,261.1Z" fill="#ED1C24"/>
<path d="M1875.1,267.2L1881.6,255.6L1868.5,255.6Z" fill="#ED1C24"/>
<path d="M1883.9,262.4L1890.5,250.8L1877.4,250.8Z" fill="#ED1C24"/>
<path d="M1892.8,258.3L1899.3,246.7L1886.2,246.7Z" fill="#ED1C24"/>
<path d="M1901.6,254.7L1908.1,243.1L1895.0,243.1Z" fill="#ED1C24"/>
<path d="M1910.4,250.9L1917.0,239.3L1903.9,239.3Z" fill="#ED1C24"/>
<path d="M1919.3,247.4L1925.8,235.8L1912.7,235.8Z" fill="#ED1C24"/>
<path d="M1928.1,243.8L1934.6,232.2L1921.6,232.2Z" fill="#ED1C24"/>
<path d="M1936.9,240.8L1943.5,229.2L1930.4,229.2Z" fill="#ED1C24"/>
<path d="M1945.8,238.0L1952.3,226.4L1939.2,226.4Z" fill="#ED1C24"/>
<path d="M1954.6,235.3L1961.2,223.7L1948.1,223.7Z" fill="#ED1C24"/>
<path d="M1963.5,232.7L1970.0,221.1L1956.9,221.1Z" fill="#ED1C24"/>
<path d="M1972.3,230.0L1978.8,218.4L1965.7,218.4Z" fill="#ED1C24"/>
<path d="M1981.1,227.6L1987.7,216.0L1974.6,216.0Z" fill="#ED1C24"/>
<path d="M1990.0,225.6L1996.5,214.0L1983.4,214.0Z" fill="#ED1C24"/>
<path d="M1998.8,224.2L2005.3,212.6L1992.3,212.6Z" fill="#ED1C24"/>
<path d="M2007.6,223.3L2014.2,211.7L2001.1,211.7Z" fill="#ED1C24"/>
<path d="M2016.5,222.0L2023.0,210.4L2009.9,210.4Z" fill="#ED1C24"/>
<path d="M2025.3,220.5L2031.9,208.9L2018.8,208.9Z" fill="#ED1C24"/>
<path d="M2034.2,219.5L2040.7,207.9L2027.6,207.9Z" fill="#ED1C24"/>
<path d="M2043.0,218.6L2049.5,207.0L2036.4,207.0Z" fill="#ED1C24"/>
<path d="M2051.8,218.0L2058.4,206.4L2045.3,206.4Z" fill="#ED1C24"/>
<path d="M2060.7,217.5L2067.2,205.9L2054.1,205.9Z" fill="#ED1C24"/>
<path d="M2069.5,217.6L2076.0,206.0L2063.0,206.0Z" fill="#ED1C24"/>
</g>
<g>
<path d="M1433.2,527.6 L1442.0,532.6 L1450.9,531.1 L1459.7,524.9 L1468.5,517.9 L1477.4,506.4 L1486.2,495.8 L1495.1,502.6 L1503.9,497.7 L1512.7,494.1 L1521.6,493.3 L1530.4,493.4 L1539.2,497.6 L1548.1,497.8 L1556.9,496.6 L1565.8,492.2 L1574.6,490.0 L1583.4,488.7 L1592.3,487.8 L1601.1,486.9 L1610.0,486.0 L1618.8,485.1 L1627.6,484.0 L1636.5,481.4 L1645.3,477.1 L1654.1,470.2 L1663.0,463.9 L1671.8,456.2 L1680.7,447.8 L1689.5,440.4 L1698.3,432.2 L1707.2,423.6 L1716.0,414.6 L1724.8,402.4 L1733.7,387.7 L1742.5,375.3 L1751.3,365.4 L1760.2,360.1 L1769.0,355.2 L1777.9,350.8 L1786.7,345.8 L1795.5,340.0 L1804.4,335.8 L1813.2,332.4 L1822.1,329.2 L1830.9,325.5 L1839.7,321.7 L1848.6,318.0 L1857.4,314.4 L1866.2,310.9 L1875.1,307.4 L1883.9,304.2 L1892.8,301.5 L1901.6,298.6 L1910.4,295.5 L1919.3,292.3 L1928.1,289.0 L1936.9,286.5 L1945.8,284.1 L1954.6,281.9 L1963.5,279.6 L1972.3,277.6 L1981.1,275.4 L1990.0,272.9 L1998.8,271.4 L2007.6,270.5 L2016.5,269.6 L2025.3,268.8 L2034.2,267.9 L2043.0,267.0 L2051.8,266.1 L2060.7,265.3 L2069.5,265.1" fill="none" stroke="#3A53A4" stroke-width="5" stroke-linejoin="round"/>
<path d="M1433.2,523.6V531.6M1427.7,523.6H1438.7M1427.7,531.6H1438.7M1442.0,528.5V536.7M1436.5,528.5H1447.5M1436.5,536.7H1447.5M1450.9,527.0V535.2M1445.4,527.0H1456.4M1445.4,535.2H1456.4M1459.7,520.7V529.1M1454.2,520.7H1465.2M1454.2,529.1H1465.2M1468.5,513.6V522.2M1463.0,513.6H1474.0M1463.0,522.2H1474.0M1477.4,502.0V510.7M1471.9,502.0H1482.9M1471.9,510.7H1482.9M1486.2,491.3V500.2M1480.7,491.3H1491.7M1480.7,500.2H1491.7M1495.1,498.1V507.1M1489.6,498.1H1500.6M1489.6,507.1H1500.6M1503.9,493.2V502.3M1498.4,493.2H1509.4M1498.4,502.3H1509.4M1512.7,489.5V498.8M1507.2,489.5H1518.2M1507.2,498.8H1518.2M1521.6,488.6V498.0M1516.1,488.6H1527.1M1516.1,498.0H1527.1M1530.4,488.6V498.1M1524.9,488.6H1535.9M1524.9,498.1H1535.9M1539.2,492.8V502.4M1533.8,492.8H1544.8M1533.8,502.4H1544.8M1548.1,492.9V502.7M1542.6,492.9H1553.6M1542.6,502.7H1553.6M1556.9,491.6V501.6M1551.4,491.6H1562.4M1551.4,501.6H1562.4M1565.8,487.2V497.3M1560.3,487.2H1571.3M1560.3,497.3H1571.3M1574.6,484.9V495.1M1569.1,484.9H1580.1M1569.1,495.1H1580.1M1583.4,483.5V493.9M1577.9,483.5H1588.9M1577.9,493.9H1588.9M1592.3,482.5V493.0M1586.8,482.5H1597.8M1586.8,493.0H1597.8M1601.1,481.6V492.2M1595.6,481.6H1606.6M1595.6,492.2H1606.6M1610.0,480.6V491.4M1604.5,480.6H1615.5M1604.5,491.4H1615.5M1618.8,479.7V490.6M1613.3,479.7H1624.3M1613.3,490.6H1624.3M1627.6,478.5V489.5M1622.1,478.5H1633.1M1622.1,489.5H1633.1M1636.5,475.8V487.0M1631.0,475.8H1642.0M1631.0,487.0H1642.0M1645.3,471.5V482.8M1639.8,471.5H1650.8M1639.8,482.8H1650.8M1654.1,464.5V476.0M1648.6,464.5H1659.6M1648.6,476.0H1659.6M1663.0,458.1V469.7M1657.5,458.1H1668.5M1657.5,469.7H1668.5M1671.8,450.3V462.1M1666.3,450.3H1677.3M1666.3,462.1H1677.3M1680.7,441.9V453.8M1675.2,441.9H1686.2M1675.2,453.8H1686.2M1689.5,434.3V446.4M1684.0,434.3H1695.0M1684.0,446.4H1695.0M1698.3,426.1V438.3M1692.8,426.1H1703.8M1692.8,438.3H1703.8M1707.2,417.5V429.8M1701.7,417.5H1712.7M1701.7,429.8H1712.7M1716.0,408.4V420.9M1710.5,408.4H1721.5M1710.5,420.9H1721.5M1724.8,396.2V408.7M1719.3,396.2H1730.3M1719.3,408.7H1730.3M1733.7,381.3V394.1M1728.2,381.3H1739.2M1728.2,394.1H1739.2M1742.5,368.9V381.8M1737.0,368.9H1748.0M1737.0,381.8H1748.0M1751.3,358.9V371.9M1745.8,358.9H1756.8M1745.8,371.9H1756.8M1760.2,353.5V366.7M1754.7,353.5H1765.7M1754.7,366.7H1765.7M1769.0,348.5V361.8M1763.5,348.5H1774.5M1763.5,361.8H1774.5M1777.9,344.1V357.5M1772.4,344.1H1783.4M1772.4,357.5H1783.4M1786.7,339.0V352.6M1781.2,339.0H1792.2M1781.2,352.6H1792.2M1795.5,333.2V346.9M1790.0,333.2H1801.0M1790.0,346.9H1801.0M1804.4,328.9V342.7M1798.9,328.9H1809.9M1798.9,342.7H1809.9M1813.2,325.4V339.4M1807.7,325.4H1818.7M1807.7,339.4H1818.7M1822.1,322.2V336.3M1816.6,322.2H1827.6M1816.6,336.3H1827.6M1830.9,318.4V332.6M1825.4,318.4H1836.4M1825.4,332.6H1836.4M1839.7,314.5V328.9M1834.2,314.5H1845.2M1834.2,328.9H1845.2M1848.6,310.7V325.2M1843.1,310.7H1854.1M1843.1,325.2H1854.1M1857.4,307.1V321.8M1851.9,307.1H1862.9M1851.9,321.8H1862.9M1866.2,303.5V318.3M1860.7,303.5H1871.7M1860.7,318.3H1871.7M1875.1,299.9V314.8M1869.6,299.9H1880.6M1869.6,314.8H1880.6M1883.9,296.6V311.7M1878.4,296.6H1889.4M1878.4,311.7H1889.4M1892.8,293.9V309.1M1887.2,293.9H1898.2M1887.2,309.1H1898.2M1901.6,290.9V306.3M1896.1,290.9H1907.1M1896.1,306.3H1907.1M1910.4,287.7V303.2M1904.9,287.7H1915.9M1904.9,303.2H1915.9M1919.3,284.5V300.1M1913.8,284.5H1924.8M1913.8,300.1H1924.8M1928.1,281.1V296.9M1922.6,281.1H1933.6M1922.6,296.9H1933.6M1936.9,278.5V294.4M1931.4,278.5H1942.4M1931.4,294.4H1942.4M1945.8,276.0V292.1M1940.3,276.0H1951.3M1940.3,292.1H1951.3M1954.6,273.8V290.0M1949.1,273.8H1960.1M1949.1,290.0H1960.1M1963.5,271.4V287.8M1958.0,271.4H1969.0M1958.0,287.8H1969.0M1972.3,269.4V285.9M1966.8,269.4H1977.8M1966.8,285.9H1977.8M1981.1,267.1V283.7M1975.6,267.1H1986.6M1975.6,283.7H1986.6M1990.0,264.6V281.3M1984.5,264.6H1995.5M1984.5,281.3H1995.5M1998.8,263.0V279.9M1993.3,263.0H2004.3M1993.3,279.9H2004.3M2007.6,262.0V279.0M2002.1,262.0H2013.1M2002.1,279.0H2013.1M2016.5,261.1V278.2M2011.0,261.1H2022.0M2011.0,278.2H2022.0M2025.3,260.1V277.4M2019.8,260.1H2030.8M2019.8,277.4H2030.8M2034.2,259.2V276.6M2028.7,259.2H2039.7M2028.7,276.6H2039.7M2043.0,258.2V275.8M2037.5,258.2H2048.5M2037.5,275.8H2048.5M2051.8,257.3V275.0M2046.3,257.3H2057.3M2046.3,275.0H2057.3M2060.7,256.3V274.2M2055.2,256.3H2066.2M2055.2,274.2H2066.2M2069.5,256.1V274.1M2064.0,256.1H2075.0M2064.0,274.1H2075.0" fill="none" stroke="#3A53A4" stroke-width="1.8"/>
<circle cx="1433.2" cy="527.6" r="5.8" fill="#3A53A4"/>
<circle cx="1442.0" cy="532.6" r="5.8" fill="#3A53A4"/>
<circle cx="1450.9" cy="531.1" r="5.8" fill="#3A53A4"/>
<circle cx="1459.7" cy="524.9" r="5.8" fill="#3A53A4"/>
<circle cx="1468.5" cy="517.9" r="5.8" fill="#3A53A4"/>
<circle cx="1477.4" cy="506.4" r="5.8" fill="#3A53A4"/>
<circle cx="1486.2" cy="495.8" r="5.8" fill="#3A53A4"/>
<circle cx="1495.1" cy="502.6" r="5.8" fill="#3A53A4"/>
<circle cx="1503.9" cy="497.7" r="5.8" fill="#3A53A4"/>
<circle cx="1512.7" cy="494.1" r="5.8" fill="#3A53A4"/>
<circle cx="1521.6" cy="493.3" r="5.8" fill="#3A53A4"/>
<circle cx="1530.4" cy="493.4" r="5.8" fill="#3A53A4"/>
<circle cx="1539.2" cy="497.6" r="5.8" fill="#3A53A4"/>
<circle cx="1548.1" cy="497.8" r="5.8" fill="#3A53A4"/>
<circle cx="1556.9" cy="496.6" r="5.8" fill="#3A53A4"/>
<circle cx="1565.8" cy="492.2" r="5.8" fill="#3A53A4"/>
<circle cx="1574.6" cy="490.0" r="5.8" fill="#3A53A4"/>
<circle cx="1583.4" cy="488.7" r="5.8" fill="#3A53A4"/>
<circle cx="1592.3" cy="487.8" r="5.8" fill="#3A53A4"/>
<circle cx="1601.1" cy="486.9" r="5.8" fill="#3A53A4"/>
<circle cx="1610.0" cy="486.0" r="5.8" fill="#3A53A4"/>
<circle cx="1618.8" cy="485.1" r="5.8" fill="#3A53A4"/>
<circle cx="1627.6" cy="484.0" r="5.8" fill="#3A53A4"/>
<circle cx="1636.5" cy="481.4" r="5.8" fill="#3A53A4"/>
<circle cx="1645.3" cy="477.1" r="5.8" fill="#3A53A4"/>
<circle cx="1654.1" cy="470.2" r="5.8" fill="#3A53A4"/>
<circle cx="1663.0" cy="463.9" r="5.8" fill="#3A53A4"/>
<circle cx="1671.8" cy="456.2" r="5.8" fill="#3A53A4"/>
<circle cx="1680.7" cy="447.8" r="5.8" fill="#3A53A4"/>
<circle cx="1689.5" cy="440.4" r="5.8" fill="#3A53A4"/>
<circle cx="1698.3" cy="432.2" r="5.8" fill="#3A53A4"/>
<circle cx="1707.2" cy="423.6" r="5.8" fill="#3A53A4"/>
<circle cx="1716.0" cy="414.6" r="5.8" fill="#3A53A4"/>
<circle cx="1724.8" cy="402.4" r="5.8" fill="#3A53A4"/>
<circle cx="1733.7" cy="387.7" r="5.8" fill="#3A53A4"/>
<circle cx="1742.5" cy="375.3" r="5.8" fill="#3A53A4"/>
<circle cx="1751.3" cy="365.4" r="5.8" fill="#3A53A4"/>
<circle cx="1760.2" cy="360.1" r="5.8" fill="#3A53A4"/>
<circle cx="1769.0" cy="355.2" r="5.8" fill="#3A53A4"/>
<circle cx="1777.9" cy="350.8" r="5.8" fill="#3A53A4"/>
<circle cx="1786.7" cy="345.8" r="5.8" fill="#3A53A4"/>
<circle cx="1795.5" cy="340.0" r="5.8" fill="#3A53A4"/>
<circle cx="1804.4" cy="335.8" r="5.8" fill="#3A53A4"/>
<circle cx="1813.2" cy="332.4" r="5.8" fill="#3A53A4"/>
<circle cx="1822.1" cy="329.2" r="5.8" fill="#3A53A4"/>
<circle cx="1830.9" cy="325.5" r="5.8" fill="#3A53A4"/>
<circle cx="1839.7" cy="321.7" r="5.8" fill="#3A53A4"/>
<circle cx="1848.6" cy="318.0" r="5.8" fill="#3A53A4"/>
<circle cx="1857.4" cy="314.4" r="5.8" fill="#3A53A4"/>
<circle cx="1866.2" cy="310.9" r="5.8" fill="#3A53A4"/>
<circle cx="1875.1" cy="307.4" r="5.8" fill="#3A53A4"/>
<circle cx="1883.9" cy="304.2" r="5.8" fill="#3A53A4"/>
<circle cx="1892.8" cy="301.5" r="5.8" fill="#3A53A4"/>
<circle cx="1901.6" cy="298.6" r="5.8" fill="#3A53A4"/>
<circle cx="1910.4" cy="295.5" r="5.8" fill="#3A53A4"/>
<circle cx="1919.3" cy="292.3" r="5.8" fill="#3A53A4"/>
<circle cx="1928.1" cy="289.0" r="5.8" fill="#3A53A4"/>
<circle cx="1936.9" cy="286.5" r="5.8" fill="#3A53A4"/>
<circle cx="1945.8" cy="284.1" r="5.8" fill="#3A53A4"/>
<circle cx="1954.6" cy="281.9" r="5.8" fill="#3A53A4"/>
<circle cx="1963.5" cy="279.6" r="5.8" fill="#3A53A4"/>
<circle cx="1972.3" cy="277.6" r="5.8" fill="#3A53A4"/>
<circle cx="1981.1" cy="275.4" r="5.8" fill="#3A53A4"/>
<circle cx="1990.0" cy="272.9" r="5.8" fill="#3A53A4"/>
<circle cx="1998.8" cy="271.4" r="5.8" fill="#3A53A4"/>
<circle cx="2007.6" cy="270.5" r="5.8" fill="#3A53A4"/>
<circle cx="2016.5" cy="269.6" r="5.8" fill="#3A53A4"/>
<circle cx="2025.3" cy="268.8" r="5.8" fill="#3A53A4"/>
<circle cx="2034.2" cy="267.9" r="5.8" fill="#3A53A4"/>
<circle cx="2043.0" cy="267.0" r="5.8" fill="#3A53A4"/>
<circle cx="2051.8" cy="266.1" r="5.8" fill="#3A53A4"/>
<circle cx="2060.7" cy="265.3" r="5.8" fill="#3A53A4"/>
<circle cx="2069.5" cy="265.1" r="5.8" fill="#3A53A4"/>
</g>
<g>
<path d="M254.1,1473.5 L262.8,1467.5 L271.5,1461.6 L280.2,1449.4 L288.9,1432.1 L297.6,1411.1 L306.3,1410.0 L315.0,1388.3 L323.7,1387.9 L332.4,1390.3 L341.1,1377.6 L349.8,1372.8 L358.5,1371.9 L367.2,1366.2 L375.9,1353.6 L384.6,1349.5 L393.3,1351.1 L402.0,1359.2 L410.7,1360.9 L419.4,1355.9 L428.1,1353.2 L436.8,1358.3 L445.5,1347.2 L454.2,1341.6 L462.9,1340.4 L471.6,1329.9 L480.3,1324.1 L489.0,1308.5 L497.7,1303.0 L506.4,1293.1 L515.1,1287.3 L523.8,1273.6 L532.5,1264.9 L541.2,1250.4 L549.9,1243.1 L558.6,1216.9 L567.3,1215.1 L576.0,1215.5 L584.7,1216.4 L593.4,1210.4 L602.1,1203.2 L610.8,1194.0 L619.5,1201.0 L628.2,1187.4 L636.9,1183.1 L645.6,1178.4 L654.3,1174.9 L663.0,1177.2 L671.7,1181.1 L680.4,1182.9 L689.1,1172.4 L697.8,1169.7 L706.5,1167.7 L715.2,1165.7 L723.9,1166.6 L732.6,1157.9 L741.3,1154.3 L750.0,1161.8 L758.7,1151.8 L767.4,1151.2 L776.1,1157.8 L784.8,1157.8 L793.5,1157.8 L802.2,1158.3 L810.9,1157.8 L819.6,1151.3 L828.3,1141.0 L837.0,1142.4 L845.7,1135.4 L854.4,1141.6 L863.1,1140.7 L871.8,1138.8 L880.5,1147.5" fill="none" stroke="#000000" stroke-width="3" stroke-linejoin="round"/>
<path d="M254.1,1462.5V1484.5M248.6,1462.5H259.6M248.6,1484.5H259.6M262.8,1456.3V1478.6M257.3,1456.3H268.3M257.3,1478.6H268.3M271.5,1450.3V1472.9M266.0,1450.3H277.0M266.0,1472.9H277.0M280.2,1437.9V1460.9M274.7,1437.9H285.7M274.7,1460.9H285.7M288.9,1420.5V1443.8M283.4,1420.5H294.4M283.4,1443.8H294.4M297.6,1399.2V1422.9M292.1,1399.2H303.1M292.1,1422.9H303.1M306.3,1398.0V1422.0M300.8,1398.0H311.8M300.8,1422.0H311.8M315.0,1376.1V1400.4M309.5,1376.1H320.5M309.5,1400.4H320.5M323.7,1375.5V1400.2M318.2,1375.5H329.2M318.2,1400.2H329.2M332.4,1377.8V1402.8M326.9,1377.8H337.9M326.9,1402.8H337.9M341.1,1365.0V1390.3M335.6,1365.0H346.6M335.6,1390.3H346.6M349.8,1360.0V1385.7M344.3,1360.0H355.3M344.3,1385.7H355.3M358.5,1358.9V1384.9M353.0,1358.9H364.0M353.0,1384.9H364.0M367.2,1353.0V1379.4M361.7,1353.0H372.7M361.7,1379.4H372.7M375.9,1340.3V1366.9M370.4,1340.3H381.4M370.4,1366.9H381.4M384.6,1336.0V1363.0M379.1,1336.0H390.1M379.1,1363.0H390.1M393.3,1337.5V1364.8M387.8,1337.5H398.8M387.8,1364.8H398.8M402.0,1345.4V1373.0M396.5,1345.4H407.5M396.5,1373.0H407.5M410.7,1346.9V1374.9M405.2,1346.9H416.2M405.2,1374.9H416.2M419.4,1341.7V1370.0M413.9,1341.7H424.9M413.9,1370.0H424.9M428.1,1338.9V1367.5M422.6,1338.9H433.6M422.6,1367.5H433.6M436.8,1343.8V1372.8M431.3,1343.8H442.3M431.3,1372.8H442.3M445.5,1332.6V1361.9M440.0,1332.6H451.0M440.0,1361.9H451.0M454.2,1326.8V1356.4M448.7,1326.8H459.7M448.7,1356.4H459.7M462.9,1325.4V1355.4M457.4,1325.4H468.4M457.4,1355.4H468.4M471.6,1314.7V1345.1M466.1,1314.7H477.1M466.1,1345.1H477.1M480.3,1308.8V1339.4M474.8,1308.8H485.8M474.8,1339.4H485.8M489.0,1293.0V1324.0M483.5,1293.0H494.5M483.5,1324.0H494.5M497.7,1287.3V1318.7M492.2,1287.3H503.2M492.2,1318.7H503.2M506.4,1277.3V1308.9M500.9,1277.3H511.9M500.9,1308.9H511.9M515.1,1271.3V1303.3M509.6,1271.3H520.6M509.6,1303.3H520.6M523.8,1257.7V1289.5M518.3,1257.7H529.3M518.3,1289.5H529.3M532.5,1249.1V1280.7M527.0,1249.1H538.0M527.0,1280.7H538.0M541.2,1234.7V1266.1M535.7,1234.7H546.7M535.7,1266.1H546.7M549.9,1227.5V1258.8M544.4,1227.5H555.4M544.4,1258.8H555.4M558.6,1201.3V1232.4M553.1,1201.3H564.1M553.1,1232.4H564.1M567.3,1199.7V1230.6M561.8,1199.7H572.8M561.8,1230.6H572.8M576.0,1200.2V1230.9M570.5,1200.2H581.5M570.5,1230.9H581.5M584.7,1201.2V1231.6M579.2,1201.2H590.2M579.2,1231.6H590.2M593.4,1195.3V1225.6M587.9,1195.3H598.9M587.9,1225.6H598.9M602.1,1188.1V1218.2M596.6,1188.1H607.6M596.6,1218.2H607.6M610.8,1179.1V1209.0M605.3,1179.1H616.3M605.3,1209.0H616.3M619.5,1186.1V1215.9M614.0,1186.1H625.0M614.0,1215.9H625.0M628.2,1172.6V1202.2M622.7,1172.6H633.7M622.7,1202.2H633.7M636.9,1168.4V1197.7M631.4,1168.4H642.4M631.4,1197.7H642.4M645.6,1163.8V1192.9M640.1,1163.8H651.1M640.1,1192.9H651.1M654.3,1160.4V1189.4M648.8,1160.4H659.8M648.8,1189.4H659.8M663.0,1162.8V1191.6M657.5,1162.8H668.5M657.5,1191.6H668.5M671.7,1166.8V1195.4M666.2,1166.8H677.2M666.2,1195.4H677.2M680.4,1168.7V1197.1M674.9,1168.7H685.9M674.9,1197.1H685.9M689.1,1158.3V1186.5M683.6,1158.3H694.6M683.6,1186.5H694.6M697.8,1155.7V1183.7M692.3,1155.7H703.3M692.3,1183.7H703.3M706.5,1153.8V1181.6M701.0,1153.8H712.0M701.0,1181.6H712.0M715.2,1151.9V1179.5M709.7,1151.9H720.7M709.7,1179.5H720.7M723.9,1152.9V1180.3M718.4,1152.9H729.4M718.4,1180.3H729.4M732.6,1144.2V1171.5M727.1,1144.2H738.1M727.1,1171.5H738.1M741.3,1140.8V1167.8M735.8,1140.8H746.8M735.8,1167.8H746.8M750.0,1148.4V1175.2M744.5,1148.4H755.5M744.5,1175.2H755.5M758.7,1138.5V1165.2M753.2,1138.5H764.2M753.2,1165.2H764.2M767.4,1137.9V1164.4M761.9,1137.9H772.9M761.9,1164.4H772.9M776.1,1144.6V1170.9M770.6,1144.6H781.6M770.6,1170.9H781.6M784.8,1144.7V1170.8M779.3,1144.7H790.3M779.3,1170.8H790.3M793.5,1144.8V1170.7M788.0,1144.8H799.0M788.0,1170.7H799.0M802.2,1145.4V1171.1M796.7,1145.4H807.7M796.7,1171.1H807.7M810.9,1145.1V1170.6M805.4,1145.1H816.4M805.4,1170.6H816.4M819.6,1138.6V1164.0M814.1,1138.6H825.1M814.1,1164.0H825.1M828.3,1128.4V1153.6M822.8,1128.4H833.8M822.8,1153.6H833.8M837.0,1129.9V1154.9M831.5,1129.9H842.5M831.5,1154.9H842.5M845.7,1123.0V1147.8M840.2,1123.0H851.2M840.2,1147.8H851.2M854.4,1129.3V1153.8M848.9,1129.3H859.9M848.9,1153.8H859.9M863.1,1128.5V1152.9M857.6,1128.5H868.6M857.6,1152.9H868.6M871.8,1126.7V1150.9M866.3,1126.7H877.3M866.3,1150.9H877.3M880.5,1135.5V1159.5M875.0,1135.5H886.0M875.0,1159.5H886.0" fill="none" stroke="#000000" stroke-width="1.8"/>
<circle cx="254.1" cy="1473.5" r="5.8" fill="#000000"/>
<circle cx="262.8" cy="1467.5" r="5.8" fill="#000000"/>
<circle cx="271.5" cy="1461.6" r="5.8" fill="#000000"/>
<circle cx="280.2" cy="1449.4" r="5.8" fill="#000000"/>
<circle cx="288.9" cy="1432.1" r="5.8" fill="#000000"/>
<circle cx="297.6" cy="1411.1" r="5.8" fill="#000000"/>
<circle cx="306.3" cy="1410.0" r="5.8" fill="#000000"/>
<circle cx="315.0" cy="1388.3" r="5.8" fill="#000000"/>
<circle cx="323.7" cy="1387.9" r="5.8" fill="#000000"/>
<circle cx="332.4" cy="1390.3" r="5.8" fill="#000000"/>
<circle cx="341.1" cy="1377.6" r="5.8" fill="#000000"/>
<circle cx="349.8" cy="1372.8" r="5.8" fill="#000000"/>
<circle cx="358.5" cy="1371.9" r="5.8" fill="#000000"/>
<circle cx="367.2" cy="1366.2" r="5.8" fill="#000000"/>
<circle cx="375.9" cy="1353.6" r="5.8" fill="#000000"/>
<circle cx="384.6" cy="1349.5" r="5.8" fill="#000000"/>
<circle cx="393.3" cy="1351.1" r="5.8" fill="#000000"/>
<circle cx="402.0" cy="1359.2" r="5.8" fill="#000000"/>
<circle cx="410.7" cy="1360.9" r="5.8" fill="#000000"/>
<circle cx="419.4" cy="1355.9" r="5.8" fill="#000000"/>
<circle cx="428.1" cy="1353.2" r="5.8" fill="#000000"/>
<circle cx="436.8" cy="1358.3" r="5.8" fill="#000000"/>
<circle cx="445.5" cy="1347.2" r="5.8" fill="#000000"/>
<circle cx="454.2" cy="1341.6" r="5.8" fill="#000000"/>
<circle cx="462.9" cy="1340.4" r="5.8" fill="#000000"/>
<circle cx="471.6" cy="1329.9" r="5.8" fill="#000000"/>
<circle cx="480.3" cy="1324.1" r="5.8" fill="#000000"/>
<circle cx="489.0" cy="1308.5" r="5.8" fill="#000000"/>
<circle cx="497.7" cy="1303.0" r="5.8" fill="#000000"/>
<circle cx="506.4" cy="1293.1" r="5.8" fill="#000000"/>
<circle cx="515.1" cy="1287.3" r="5.8" fill="#000000"/>
<circle cx="523.8" cy="1273.6" r="5.8" fill="#000000"/>
<circle cx="532.5" cy="1264.9" r="5.8" fill="#000000"/>
<circle cx="541.2" cy="1250.4" r="5.8" fill="#000000"/>
<circle cx="549.9" cy="1243.1" r="5.8" fill="#000000"/>
<circle cx="558.6" cy="1216.9" r="5.8" fill="#000000"/>
<circle cx="567.3" cy="1215.1" r="5.8" fill="#000000"/>
<circle cx="576.0" cy="1215.5" r="5.8" fill="#000000"/>
<circle cx="584.7" cy="1216.4" r="5.8" fill="#000000"/>
<circle cx="593.4" cy="1210.4" r="5.8" fill="#000000"/>
<circle cx="602.1" cy="1203.2" r="5.8" fill="#000000"/>
<circle cx="610.8" cy="1194.0" r="5.8" fill="#000000"/>
<circle cx="619.5" cy="1201.0" r="5.8" fill="#000000"/>
<circle cx="628.2" cy="1187.4" r="5.8" fill="#000000"/>
<circle cx="636.9" cy="1183.1" r="5.8" fill="#000000"/>
<circle cx="645.6" cy="1178.4" r="5.8" fill="#000000"/>
<circle cx="654.3" cy="1174.9" r="5.8" fill="#000000"/>
<circle cx="663.0" cy="1177.2" r="5.8" fill="#000000"/>
<circle cx="671.7" cy="1181.1" r="5.8" fill="#000000"/>
<circle cx="680.4" cy="1182.9" r="5.8" fill="#000000"/>
<circle cx="689.1" cy="1172.4" r="5.8" fill="#000000"/>
<circle cx="697.8" cy="1169.7" r="5.8" fill="#000000"/>
<circle cx="706.5" cy="1167.7" r="5.8" fill="#000000"/>
<circle cx="715.2" cy="1165.7" r="5.8" fill="#000000"/>
<circle cx="723.9" cy="1166.6" r="5.8" fill="#000000"/>
<circle cx="732.6" cy="1157.9" r="5.8" fill="#000000"/>
<circle cx="741.3" cy="1154.3" r="5.8" fill="#000000"/>
<circle cx="750.0" cy="1161.8" r="5.8" fill="#000000"/>
<circle cx="758.7" cy="1151.8" r="5.8" fill="#000000"/>
<circle cx="767.4" cy="1151.2" r="5.8" fill="#000000"/>
<circle cx="776.1" cy="1157.8" r="5.8" fill="#000000"/>
<circle cx="784.8" cy="1157.8" r="5.8" fill="#000000"/>
<circle cx="793.5" cy="1157.8" r="5.8" fill="#000000"/>
<circle cx="802.2" cy="1158.3" r="5.8" fill="#000000"/>
<circle cx="810.9" cy="1157.8" r="5.8" fill="#000000"/>
<circle cx="819.6" cy="1151.3" r="5.8" fill="#000000"/>
<circle cx="828.3" cy="1141.0" r="5.8" fill="#000000"/>
<circle cx="837.0" cy="1142.4" r="5.8" fill="#000000"/>
<circle cx="845.7" cy="1135.4" r="5.8" fill="#000000"/>
<circle cx="854.4" cy="1141.6" r="5.8" fill="#000000"/>
<circle cx="863.1" cy="1140.7" r="5.8" fill="#000000"/>
<circle cx="871.8" cy="1138.8" r="5.8" fill="#000000"/>
<circle cx="880.5" cy="1147.5" r="5.8" fill="#000000"/>
</g>
<g>
<path d="M254.1,1473.5 L262.8,1471.5 L271.5,1468.9 L280.2,1465.8 L288.9,1461.2 L297.6,1456.6 L306.3,1453.9 L315.0,1451.3 L323.7,1448.6 L332.4,1446.1 L341.1,1444.7 L349.8,1443.4 L358.5,1442.2 L367.2,1441.4 L375.9,1440.6 L384.6,1440.4 L393.3,1440.3 L402.0,1440.6 L410.7,1440.3 L419.4,1439.1 L428.1,1437.6 L436.8,1435.8 L445.5,1433.7 L454.2,1431.7 L462.9,1429.7 L471.6,1427.6 L480.3,1424.1 L489.0,1417.4 L497.7,1411.1 L506.4,1405.5 L515.1,1399.2 L523.8,1392.7 L532.5,1386.3 L541.2,1378.6 L549.9,1370.3 L558.6,1360.0 L567.3,1350.6 L576.0,1341.3 L584.7,1332.0 L593.4,1324.8 L602.1,1317.6 L610.8,1310.2 L619.5,1303.4 L628.2,1298.9 L636.9,1293.6 L645.6,1288.7 L654.3,1284.1 L663.0,1279.5 L671.7,1274.3 L680.4,1269.1 L689.1,1265.2 L697.8,1261.3 L706.5,1257.1 L715.2,1253.2 L723.9,1249.5 L732.6,1245.9 L741.3,1242.6 L750.0,1239.8 L758.7,1236.9 L767.4,1233.6 L776.1,1230.6 L784.8,1228.2 L793.5,1226.0 L802.2,1223.8 L810.9,1221.7 L819.6,1219.5 L828.3,1217.9 L837.0,1216.4 L845.7,1215.3 L854.4,1214.3 L863.1,1213.2 L871.8,1212.2 L880.5,1212.3" fill="none" stroke="#ED1C24" stroke-width="3" stroke-linejoin="round"/>
<path d="M254.1,1467.5V1479.5M248.6,1467.5H259.6M248.6,1479.5H259.6M262.8,1465.3V1477.7M257.3,1465.3H268.3M257.3,1477.7H268.3M271.5,1462.6V1475.3M266.0,1462.6H277.0M266.0,1475.3H277.0M280.2,1459.3V1472.3M274.7,1459.3H285.7M274.7,1472.3H285.7M288.9,1454.5V1467.9M283.4,1454.5H294.4M283.4,1467.9H294.4M297.6,1449.8V1463.5M292.1,1449.8H303.1M292.1,1463.5H303.1M306.3,1446.9V1461.0M300.8,1446.9H311.8M300.8,1461.0H311.8M315.0,1444.0V1458.5M309.5,1444.0H320.5M309.5,1458.5H320.5M323.7,1441.2V1456.0M318.2,1441.2H329.2M318.2,1456.0H329.2M332.4,1438.6V1453.7M326.9,1438.6H337.9M326.9,1453.7H337.9M341.1,1436.9V1452.4M335.6,1436.9H346.6M335.6,1452.4H346.6M349.8,1435.4V1451.3M344.3,1435.4H355.3M344.3,1451.3H355.3M358.5,1434.1V1450.3M353.0,1434.1H364.0M353.0,1450.3H364.0M367.2,1433.1V1449.7M361.7,1433.1H372.7M361.7,1449.7H372.7M375.9,1432.1V1449.0M370.4,1432.1H381.4M370.4,1449.0H381.4M384.6,1431.8V1449.0M379.1,1431.8H390.1M379.1,1449.0H390.1M393.3,1431.5V1449.1M387.8,1431.5H398.8M387.8,1449.1H398.8M402.0,1431.6V1449.5M396.5,1431.6H407.5M396.5,1449.5H407.5M410.7,1431.2V1449.5M405.2,1431.2H416.2M405.2,1449.5H416.2M419.4,1429.8V1448.4M413.9,1429.8H424.9M413.9,1448.4H424.9M428.1,1428.1V1447.1M422.6,1428.1H433.6M422.6,1447.1H433.6M436.8,1426.1V1445.5M431.3,1426.1H442.3M431.3,1445.5H442.3M445.5,1423.9V1443.6M440.0,1423.9H451.0M440.0,1443.6H451.0M454.2,1421.7V1441.7M448.7,1421.7H459.7M448.7,1441.7H459.7M462.9,1419.5V1439.9M457.4,1419.5H468.4M457.4,1439.9H468.4M471.6,1417.2V1438.0M466.1,1417.2H477.1M466.1,1438.0H477.1M480.3,1413.5V1434.6M474.8,1413.5H485.8M474.8,1434.6H485.8M489.0,1406.6V1428.1M483.5,1406.6H494.5M483.5,1428.1H494.5M497.7,1400.2V1422.0M492.2,1400.2H503.2M492.2,1422.0H503.2M506.4,1394.5V1416.6M500.9,1394.5H511.9M500.9,1416.6H511.9M515.1,1388.0V1410.5M509.6,1388.0H520.6M509.6,1410.5H520.6M523.8,1381.3V1404.2M518.3,1381.3H529.3M518.3,1404.2H529.3M532.5,1374.7V1397.9M527.0,1374.7H538.0M527.0,1397.9H538.0M541.2,1366.8V1390.4M535.7,1366.8H546.7M535.7,1390.4H546.7M549.9,1358.4V1382.3M544.4,1358.4H555.4M544.4,1382.3H555.4M558.6,1347.9V1372.1M553.1,1347.9H564.1M553.1,1372.1H564.1M567.3,1338.3V1362.9M561.8,1338.3H572.8M561.8,1362.9H572.8M576.0,1328.8V1353.8M570.5,1328.8H581.5M570.5,1353.8H581.5M584.7,1319.3V1344.6M579.2,1319.3H590.2M579.2,1344.6H590.2M593.4,1311.9V1337.6M587.9,1311.9H598.9M587.9,1337.6H598.9M602.1,1304.6V1330.6M596.6,1304.6H607.6M596.6,1330.6H607.6M610.8,1297.2V1323.2M605.3,1297.2H616.3M605.3,1323.2H616.3M619.5,1290.4V1316.4M614.0,1290.4H625.0M614.0,1316.4H625.0M628.2,1285.9V1311.9M622.7,1285.9H633.7M622.7,1311.9H633.7M636.9,1280.6V1306.6M631.4,1280.6H642.4M631.4,1306.6H642.4M645.6,1275.7V1301.7M640.1,1275.7H651.1M640.1,1301.7H651.1M654.3,1271.1V1297.1M648.8,1271.1H659.8M648.8,1297.1H659.8M663.0,1266.5V1292.5M657.5,1266.5H668.5M657.5,1292.5H668.5M671.7,1261.3V1287.3M666.2,1261.3H677.2M666.2,1287.3H677.2M680.4,1256.1V1282.1M674.9,1256.1H685.9M674.9,1282.1H685.9M689.1,1252.2V1278.2M683.6,1252.2H694.6M683.6,1278.2H694.6M697.8,1248.3V1274.3M692.3,1248.3H703.3M692.3,1274.3H703.3M706.5,1244.1V1270.1M701.0,1244.1H712.0M701.0,1270.1H712.0M715.2,1240.2V1266.2M709.7,1240.2H720.7M709.7,1266.2H720.7M723.9,1236.5V1262.5M718.4,1236.5H729.4M718.4,1262.5H729.4M732.6,1232.9V1258.9M727.1,1232.9H738.1M727.1,1258.9H738.1M741.3,1229.6V1255.6M735.8,1229.6H746.8M735.8,1255.6H746.8M750.0,1226.8V1252.8M744.5,1226.8H755.5M744.5,1252.8H755.5M758.7,1223.9V1249.9M753.2,1223.9H764.2M753.2,1249.9H764.2M767.4,1220.6V1246.6M761.9,1220.6H772.9M761.9,1246.6H772.9M776.1,1217.6V1243.6M770.6,1217.6H781.6M770.6,1243.6H781.6M784.8,1215.2V1241.2M779.3,1215.2H790.3M779.3,1241.2H790.3M793.5,1213.0V1239.0M788.0,1213.0H799.0M788.0,1239.0H799.0M802.2,1210.8V1236.8M796.7,1210.8H807.7M796.7,1236.8H807.7M810.9,1208.7V1234.7M805.4,1208.7H816.4M805.4,1234.7H816.4M819.6,1206.5V1232.5M814.1,1206.5H825.1M814.1,1232.5H825.1M828.3,1204.9V1230.9M822.8,1204.9H833.8M822.8,1230.9H833.8M837.0,1203.4V1229.4M831.5,1203.4H842.5M831.5,1229.4H842.5M845.7,1202.3V1228.3M840.2,1202.3H851.2M840.2,1228.3H851.2M854.4,1201.3V1227.3M848.9,1201.3H859.9M848.9,1227.3H859.9M863.1,1200.2V1226.2M857.6,1200.2H868.6M857.6,1226.2H868.6M871.8,1199.2V1225.2M866.3,1199.2H877.3M866.3,1225.2H877.3M880.5,1199.3V1225.3M875.0,1199.3H886.0M875.0,1225.3H886.0" fill="none" stroke="#ED1C24" stroke-width="1.8"/>
<rect x="248.3" y="1467.7" width="11.6" height="11.6" fill="#ED1C24"/>
<rect x="257.0" y="1465.7" width="11.6" height="11.6" fill="#ED1C24"/>
<rect x="265.7" y="1463.1" width="11.6" height="11.6" fill="#ED1C24"/>
<rect x="274.4" y="1460.0" width="11.6" height="11.6" fill="#ED1C24"/>
<rect x="283.1" y="1455.4" width="11.6" height="11.6" fill="#ED1C24"/>
<rect x="291.8" y="1450.8" width="11.6" height="11.6" fill="#ED1C24"/>
<rect x="300.5" y="1448.1" width="11.6" height="11.6" fill="#ED1C24"/>
<rect x="309.2" y="1445.5" width="11.6" height="11.6" fill="#ED1C24"/>
<rect x="317.9" y="1442.8" width="11.6" height="11.6" fill="#ED1C24"/>
<rect x="326.6" y="1440.3" width="11.6" height="11.6" fill="#ED1C24"/>
<rect x="335.3" y="1438.9" width="11.6" height="11.6" fill="#ED1C24"/>
<rect x="344.0" y="1437.6" width="11.6" height="11.6" fill="#ED1C24"/>
<rect x="352.7" y="1436.4" width="11.6" height="11.6" fill="#ED1C24"/>
<rect x="361.4" y="1435.6" width="11.6" height="11.6" fill="#ED1C24"/>
<rect x="370.1" y="1434.8" width="11.6" height="11.6" fill="#ED1C24"/>
<rect x="378.8" y="1434.6" width="11.6" height="11.6" fill="#ED1C24"/>
<rect x="387.5" y="1434.5" width="11.6" height="11.6" fill="#ED1C24"/>
<rect x="396.2" y="1434.8" width="11.6" height="11.6" fill="#ED1C24"/>
<rect x="404.9" y="1434.5" width="11.6" height="11.6" fill="#ED1C24"/>
<rect x="413.6" y="1433.3" width="11.6" height="11.6" fill="#ED1C24"/>
<rect x="422.3" y="1431.8" width="11.6" height="11.6" fill="#ED1C24"/>
<rect x="431.0" y="1430.0" width="11.6" height="11.6" fill="#ED1C24"/>
<rect x="439.7" y="1427.9" width="11.6" height="11.6" fill="#ED1C24"/>
<rect x="448.4" y="1425.9" width="11.6" height="11.6" fill="#ED1C24"/>
<rect x="457.1" y="1423.9" width="11.6" height="11.6" fill="#ED1C24"/>
<rect x="465.8" y="1421.8" width="11.6" height="11.6" fill="#ED1C24"/>
<rect x="474.5" y="1418.3" width="11.6" height="11.6" fill="#ED1C24"/>
<rect x="483.2" y="1411.6" width="11.6" height="11.6" fill="#ED1C24"/>
<rect x="491.9" y="1405.3" width="11.6" height="11.6" fill="#ED1C24"/>
<rect x="500.6" y="1399.7" width="11.6" height="11.6" fill="#ED1C24"/>
<rect x="509.3" y="1393.4" width="11.6" height="11.6" fill="#ED1C24"/>
<rect x="518.0" y="1386.9" width="11.6" height="11.6" fill="#ED1C24"/>
<rect x="526.7" y="1380.5" width="11.6" height="11.6" fill="#ED1C24"/>
<rect x="535.4" y="1372.8" width="11.6" height="11.6" fill="#ED1C24"/>
<rect x="544.1" y="1364.5" width="11.6" height="11.6" fill="#ED1C24"/>
<rect x="552.8" y="1354.2" width="11.6" height="11.6" fill="#ED1C24"/>
<rect x="561.5" y="1344.8" width="11.6" height="11.6" fill="#ED1C24"/>
<rect x="570.2" y="1335.5" width="11.6" height="11.6" fill="#ED1C24"/>
<rect x="578.9" y="1326.2" width="11.6" height="11.6" fill="#ED1C24"/>
<rect x="587.6" y="1319.0" width="11.6" height="11.6" fill="#ED1C24"/>
<rect x="596.3" y="1311.8" width="11.6" height="11.6" fill="#ED1C24"/>
<rect x="605.0" y="1304.4" width="11.6" height="11.6" fill="#ED1C24"/>
<rect x="613.7" y="1297.6" width="11.6" height="11.6" fill="#ED1C24"/>
<rect x="622.4" y="1293.1" width="11.6" height="11.6" fill="#ED1C24"/>
<rect x="631.1" y="1287.8" width="11.6" height="11.6" fill="#ED1C24"/>
<rect x="639.8" y="1282.9" width="11.6" height="11.6" fill="#ED1C24"/>
<rect x="648.5" y="1278.3" width="11.6" height="11.6" fill="#ED1C24"/>
<rect x="657.2" y="1273.7" width="11.6" height="11.6" fill="#ED1C24"/>
<rect x="665.9" y="1268.5" width="11.6" height="11.6" fill="#ED1C24"/>
<rect x="674.6" y="1263.3" width="11.6" height="11.6" fill="#ED1C24"/>
<rect x="683.3" y="1259.4" width="11.6" height="11.6" fill="#ED1C24"/>
<rect x="692.0" y="1255.5" width="11.6" height="11.6" fill="#ED1C24"/>
<rect x="700.7" y="1251.3" width="11.6" height="11.6" fill="#ED1C24"/>
<rect x="709.4" y="1247.4" width="11.6" height="11.6" fill="#ED1C24"/>
<rect x="718.1" y="1243.7" width="11.6" height="11.6" fill="#ED1C24"/>
<rect x="726.8" y="1240.1" width="11.6" height="11.6" fill="#ED1C24"/>
<rect x="735.5" y="1236.8" width="11.6" height="11.6" fill="#ED1C24"/>
<rect x="744.2" y="1234.0" width="11.6" height="11.6" fill="#ED1C24"/>
<rect x="752.9" y="1231.1" width="11.6" height="11.6" fill="#ED1C24"/>
<rect x="761.6" y="1227.8" width="11.6" height="11.6" fill="#ED1C24"/>
<rect x="770.3" y="1224.8" width="11.6" height="11.6" fill="#ED1C24"/>
<rect x="779.0" y="1222.4" width="11.6" height="11.6" fill="#ED1C24"/>
<rect x="787.7" y="1220.2" width="11.6" height="11.6" fill="#ED1C24"/>
<rect x="796.4" y="1218.0" width="11.6" height="11.6" fill="#ED1C24"/>
<rect x="805.1" y="1215.9" width="11.6" height="11.6" fill="#ED1C24"/>
<rect x="813.8" y="1213.7" width="11.6" height="11.6" fill="#ED1C24"/>
<rect x="822.5" y="1212.1" width="11.6" height="11.6" fill="#ED1C24"/>
<rect x="831.2" y="1210.6" width="11.6" height="11.6" fill="#ED1C24"/>
<rect x="839.9" y="1209.5" width="11.6" height="11.6" fill="#ED1C24"/>
<rect x="848.6" y="1208.5" width="11.6" height="11.6" fill="#ED1C24"/>
<rect x="857.3" y="1207.4" width="11.6" height="11.6" fill="#ED1C24"/>
<rect x="866.0" y="1206.4" width="11.6" height="11.6" fill="#ED1C24"/>
<rect x="874.7" y="1206.5" width="11.6" height="11.6" fill="#ED1C24"/>
</g>
<g>
<path d="M254.1,1473.5 L262.8,1472.7 L271.5,1472.2 L280.2,1471.6 L288.9,1471.0 L297.6,1470.4 L306.3,1470.0 L315.0,1469.5 L323.7,1469.0 L332.4,1468.6 L341.1,1468.1 L349.8,1467.7 L358.5,1467.2 L367.2,1466.8 L375.9,1466.5 L384.6,1466.1 L393.3,1465.8 L402.0,1465.3 L410.7,1464.7 L419.4,1463.9 L428.1,1462.9 L436.8,1461.7 L445.5,1460.4 L454.2,1459.0 L462.9,1457.0 L471.6,1454.9 L480.3,1451.0 L489.0,1442.5 L497.7,1435.8 L506.4,1430.3 L515.1,1424.3 L523.8,1417.0 L532.5,1408.9 L541.2,1399.5 L549.9,1390.0 L558.6,1380.1 L567.3,1372.0 L576.0,1363.4 L584.7,1354.6 L593.4,1345.7 L602.1,1337.4 L610.8,1329.8 L619.5,1322.7 L628.2,1315.7 L636.9,1308.2 L645.6,1303.0 L654.3,1298.1 L663.0,1293.2 L671.7,1288.5 L680.4,1284.1 L689.1,1279.5 L697.8,1274.9 L706.5,1270.8 L715.2,1266.9 L723.9,1263.0 L732.6,1259.1 L741.3,1255.5 L750.0,1252.0 L758.7,1248.5 L767.4,1245.2 L776.1,1241.6 L784.8,1237.6 L793.5,1234.0 L802.2,1231.2 L810.9,1228.4 L819.6,1226.2 L828.3,1224.0 L837.0,1221.8 L845.7,1219.7 L854.4,1217.8 L863.1,1215.9 L871.8,1214.3 L880.5,1212.9" fill="none" stroke="#3A53A4" stroke-width="3" stroke-linejoin="round"/>
<path d="M254.1,1465.5V1481.5M248.6,1465.5H259.6M248.6,1481.5H259.6M262.8,1464.7V1480.7M257.3,1464.7H268.3M257.3,1480.7H268.3M271.5,1464.2V1480.2M266.0,1464.2H277.0M266.0,1480.2H277.0M280.2,1463.6V1479.6M274.7,1463.6H285.7M274.7,1479.6H285.7M288.9,1463.0V1479.0M283.4,1463.0H294.4M283.4,1479.0H294.4M297.6,1462.4V1478.4M292.1,1462.4H303.1M292.1,1478.4H303.1M306.3,1462.0V1478.0M300.8,1462.0H311.8M300.8,1478.0H311.8M315.0,1461.5V1477.5M309.5,1461.5H320.5M309.5,1477.5H320.5M323.7,1461.0V1477.0M318.2,1461.0H329.2M318.2,1477.0H329.2M332.4,1460.6V1476.6M326.9,1460.6H337.9M326.9,1476.6H337.9M341.1,1460.1V1476.1M335.6,1460.1H346.6M335.6,1476.1H346.6M349.8,1459.7V1475.7M344.3,1459.7H355.3M344.3,1475.7H355.3M358.5,1459.2V1475.2M353.0,1459.2H364.0M353.0,1475.2H364.0M367.2,1458.8V1474.8M361.7,1458.8H372.7M361.7,1474.8H372.7M375.9,1458.5V1474.5M370.4,1458.5H381.4M370.4,1474.5H381.4M384.6,1458.1V1474.1M379.1,1458.1H390.1M379.1,1474.1H390.1M393.3,1457.8V1473.8M387.8,1457.8H398.8M387.8,1473.8H398.8M402.0,1457.3V1473.3M396.5,1457.3H407.5M396.5,1473.3H407.5M410.7,1456.7V1472.7M405.2,1456.7H416.2M405.2,1472.7H416.2M419.4,1455.9V1471.9M413.9,1455.9H424.9M413.9,1471.9H424.9M428.1,1454.9V1470.9M422.6,1454.9H433.6M422.6,1470.9H433.6M436.8,1453.7V1469.7M431.3,1453.7H442.3M431.3,1469.7H442.3M445.5,1452.4V1468.4M440.0,1452.4H451.0M440.0,1468.4H451.0M454.2,1451.0V1467.0M448.7,1451.0H459.7M448.7,1467.0H459.7M462.9,1449.0V1465.0M457.4,1449.0H468.4M457.4,1465.0H468.4M471.6,1446.9V1462.9M466.1,1446.9H477.1M466.1,1462.9H477.1M480.3,1443.0V1459.0M474.8,1443.0H485.8M474.8,1459.0H485.8M489.0,1434.5V1450.5M483.5,1434.5H494.5M483.5,1450.5H494.5M497.7,1427.8V1443.8M492.2,1427.8H503.2M492.2,1443.8H503.2M506.4,1422.3V1438.3M500.9,1422.3H511.9M500.9,1438.3H511.9M515.1,1416.3V1432.3M509.6,1416.3H520.6M509.6,1432.3H520.6M523.8,1408.4V1425.6M518.3,1408.4H529.3M518.3,1425.6H529.3M532.5,1399.7V1418.1M527.0,1399.7H538.0M527.0,1418.1H538.0M541.2,1389.7V1409.3M535.7,1389.7H546.7M535.7,1409.3H546.7M549.9,1379.7V1400.4M544.4,1379.7H555.4M544.4,1400.4H555.4M558.6,1369.2V1391.1M553.1,1369.2H564.1M553.1,1391.1H564.1M567.3,1360.4V1383.6M561.8,1360.4H572.8M561.8,1383.6H572.8M576.0,1351.2V1375.5M570.5,1351.2H581.5M570.5,1375.5H581.5M584.7,1341.8V1367.3M579.2,1341.8H590.2M579.2,1367.3H590.2M593.4,1332.4V1359.1M587.9,1332.4H598.9M587.9,1359.1H598.9M602.1,1323.4V1351.3M596.6,1323.4H607.6M596.6,1351.3H607.6M610.8,1315.3V1344.4M605.3,1315.3H616.3M605.3,1344.4H616.3M619.5,1307.5V1337.8M614.0,1307.5H625.0M614.0,1337.8H625.0M628.2,1300.0V1331.4M622.7,1300.0H633.7M622.7,1331.4H633.7M636.9,1291.8V1324.5M631.4,1291.8H642.4M631.4,1324.5H642.4M645.6,1286.1V1320.0M640.1,1286.1H651.1M640.1,1320.0H651.1M654.3,1280.5V1315.6M648.8,1280.5H659.8M648.8,1315.6H659.8M663.0,1275.1V1311.3M657.5,1275.1H668.5M657.5,1311.3H668.5M671.7,1269.7V1307.2M666.2,1269.7H677.2M666.2,1307.2H677.2M680.4,1264.8V1303.4M674.9,1264.8H685.9M674.9,1303.4H685.9M689.1,1259.6V1299.4M683.6,1259.6H694.6M683.6,1299.4H694.6M697.8,1254.4V1295.4M692.3,1254.4H703.3M692.3,1295.4H703.3M706.5,1249.7V1291.9M701.0,1249.7H712.0M701.0,1291.9H712.0M715.2,1245.2V1288.6M709.7,1245.2H720.7M709.7,1288.6H720.7M723.9,1240.7V1285.3M718.4,1240.7H729.4M718.4,1285.3H729.4M732.6,1236.3V1282.0M727.1,1236.3H738.1M727.1,1282.0H738.1M741.3,1232.0V1279.0M735.8,1232.0H746.8M735.8,1279.0H746.8M750.0,1227.9V1276.1M744.5,1227.9H755.5M744.5,1276.1H755.5M758.7,1223.8V1273.2M753.2,1223.8H764.2M753.2,1273.2H764.2M767.4,1219.9V1270.4M761.9,1219.9H772.9M761.9,1270.4H772.9M776.1,1215.8V1267.5M770.6,1215.8H781.6M770.6,1267.5H781.6M784.8,1211.1V1264.0M779.3,1211.1H790.3M779.3,1264.0H790.3M793.5,1207.0V1261.1M788.0,1207.0H799.0M788.0,1261.1H799.0M802.2,1203.5V1258.8M796.7,1203.5H807.7M796.7,1258.8H807.7M810.9,1200.2V1256.7M805.4,1200.2H816.4M805.4,1256.7H816.4M819.6,1197.3V1255.0M814.1,1197.3H825.1M814.1,1255.0H825.1M828.3,1194.6V1253.4M822.8,1194.6H833.8M822.8,1253.4H833.8M837.0,1191.8V1251.8M831.5,1191.8H842.5M831.5,1251.8H842.5M845.7,1189.0V1250.3M840.2,1189.0H851.2M840.2,1250.3H851.2M854.4,1186.6V1249.0M848.9,1186.6H859.9M848.9,1249.0H859.9M863.1,1184.1V1247.7M857.6,1184.1H868.6M857.6,1247.7H868.6M871.8,1181.9V1246.7M866.3,1181.9H877.3M866.3,1246.7H877.3M880.5,1179.9V1245.9M875.0,1179.9H886.0M875.0,1245.9H886.0" fill="none" stroke="#3A53A4" stroke-width="1.8"/>
<path d="M254.1,1466.7L260.6,1478.3L247.6,1478.3Z" fill="#3A53A4"/>
<path d="M262.8,1465.8L269.3,1477.4L256.3,1477.4Z" fill="#3A53A4"/>
<path d="M271.5,1465.3L278.0,1476.9L265.0,1476.9Z" fill="#3A53A4"/>
<path d="M280.2,1464.8L286.7,1476.4L273.7,1476.4Z" fill="#3A53A4"/>
<path d="M288.9,1464.2L295.4,1475.8L282.4,1475.8Z" fill="#3A53A4"/>
<path d="M297.6,1463.6L304.1,1475.2L291.1,1475.2Z" fill="#3A53A4"/>
<path d="M306.3,1463.1L312.8,1474.7L299.8,1474.7Z" fill="#3A53A4"/>
<path d="M315.0,1462.7L321.5,1474.3L308.5,1474.3Z" fill="#3A53A4"/>
<path d="M323.7,1462.2L330.2,1473.8L317.2,1473.8Z" fill="#3A53A4"/>
<path d="M332.4,1461.7L338.9,1473.3L325.9,1473.3Z" fill="#3A53A4"/>
<path d="M341.1,1461.3L347.6,1472.9L334.6,1472.9Z" fill="#3A53A4"/>
<path d="M349.8,1460.8L356.3,1472.4L343.3,1472.4Z" fill="#3A53A4"/>
<path d="M358.5,1460.3L365.0,1471.9L352.0,1471.9Z" fill="#3A53A4"/>
<path d="M367.2,1459.9L373.7,1471.5L360.7,1471.5Z" fill="#3A53A4"/>
<path d="M375.9,1459.6L382.4,1471.2L369.4,1471.2Z" fill="#3A53A4"/>
<path d="M384.6,1459.3L391.1,1470.9L378.1,1470.9Z" fill="#3A53A4"/>
<path d="M393.3,1458.9L399.8,1470.5L386.8,1470.5Z" fill="#3A53A4"/>
<path d="M402.0,1458.4L408.5,1470.0L395.5,1470.0Z" fill="#3A53A4"/>
<path d="M410.7,1457.9L417.2,1469.5L404.2,1469.5Z" fill="#3A53A4"/>
<path d="M419.4,1457.1L425.9,1468.7L412.9,1468.7Z" fill="#3A53A4"/>
<path d="M428.1,1456.1L434.6,1467.7L421.6,1467.7Z" fill="#3A53A4"/>
<path d="M436.8,1454.9L443.3,1466.5L430.3,1466.5Z" fill="#3A53A4"/>
<path d="M445.5,1453.5L452.0,1465.1L439.0,1465.1Z" fill="#3A53A4"/>
<path d="M454.2,1452.1L460.7,1463.7L447.7,1463.7Z" fill="#3A53A4"/>
<path d="M462.9,1450.1L469.4,1461.7L456.4,1461.7Z" fill="#3A53A4"/>
<path d="M471.6,1448.1L478.1,1459.7L465.1,1459.7Z" fill="#3A53A4"/>
<path d="M480.3,1444.2L486.8,1455.8L473.8,1455.8Z" fill="#3A53A4"/>
<path d="M489.0,1435.6L495.5,1447.2L482.5,1447.2Z" fill="#3A53A4"/>
<path d="M497.7,1428.9L504.2,1440.5L491.2,1440.5Z" fill="#3A53A4"/>
<path d="M506.4,1423.4L512.9,1435.0L499.9,1435.0Z" fill="#3A53A4"/>
<path d="M515.1,1417.4L521.6,1429.0L508.6,1429.0Z" fill="#3A53A4"/>
<path d="M523.8,1410.2L530.3,1421.8L517.3,1421.8Z" fill="#3A53A4"/>
<path d="M532.5,1402.1L539.0,1413.7L526.0,1413.7Z" fill="#3A53A4"/>
<path d="M541.2,1392.6L547.7,1404.2L534.7,1404.2Z" fill="#3A53A4"/>
<path d="M549.9,1383.2L556.4,1394.8L543.4,1394.8Z" fill="#3A53A4"/>
<path d="M558.6,1373.3L565.1,1384.9L552.1,1384.9Z" fill="#3A53A4"/>
<path d="M567.3,1365.1L573.8,1376.7L560.8,1376.7Z" fill="#3A53A4"/>
<path d="M576.0,1356.5L582.5,1368.1L569.5,1368.1Z" fill="#3A53A4"/>
<path d="M584.7,1347.7L591.2,1359.3L578.2,1359.3Z" fill="#3A53A4"/>
<path d="M593.4,1338.9L599.9,1350.5L586.9,1350.5Z" fill="#3A53A4"/>
<path d="M602.1,1330.5L608.6,1342.1L595.6,1342.1Z" fill="#3A53A4"/>
<path d="M610.8,1323.0L617.3,1334.6L604.3,1334.6Z" fill="#3A53A4"/>
<path d="M619.5,1315.8L626.0,1327.4L613.0,1327.4Z" fill="#3A53A4"/>
<path d="M628.2,1308.8L634.7,1320.4L621.7,1320.4Z" fill="#3A53A4"/>
<path d="M636.9,1301.3L643.4,1312.9L630.4,1312.9Z" fill="#3A53A4"/>
<path d="M645.6,1296.2L652.1,1307.8L639.1,1307.8Z" fill="#3A53A4"/>
<path d="M654.3,1291.2L660.8,1302.8L647.8,1302.8Z" fill="#3A53A4"/>
<path d="M663.0,1286.4L669.5,1298.0L656.5,1298.0Z" fill="#3A53A4"/>
<path d="M671.7,1281.6L678.2,1293.2L665.2,1293.2Z" fill="#3A53A4"/>
<path d="M680.4,1277.3L686.9,1288.9L673.9,1288.9Z" fill="#3A53A4"/>
<path d="M689.1,1272.6L695.6,1284.2L682.6,1284.2Z" fill="#3A53A4"/>
<path d="M697.8,1268.0L704.3,1279.6L691.3,1279.6Z" fill="#3A53A4"/>
<path d="M706.5,1263.9L713.0,1275.5L700.0,1275.5Z" fill="#3A53A4"/>
<path d="M715.2,1260.1L721.7,1271.7L708.7,1271.7Z" fill="#3A53A4"/>
<path d="M723.9,1256.2L730.4,1267.8L717.4,1267.8Z" fill="#3A53A4"/>
<path d="M732.6,1252.3L739.1,1263.9L726.1,1263.9Z" fill="#3A53A4"/>
<path d="M741.3,1248.6L747.8,1260.2L734.8,1260.2Z" fill="#3A53A4"/>
<path d="M750.0,1245.1L756.5,1256.7L743.5,1256.7Z" fill="#3A53A4"/>
<path d="M758.7,1241.7L765.2,1253.3L752.2,1253.3Z" fill="#3A53A4"/>
<path d="M767.4,1238.3L773.9,1249.9L760.9,1249.9Z" fill="#3A53A4"/>
<path d="M776.1,1234.8L782.6,1246.4L769.6,1246.4Z" fill="#3A53A4"/>
<path d="M784.8,1230.7L791.3,1242.3L778.3,1242.3Z" fill="#3A53A4"/>
<path d="M793.5,1227.2L800.0,1238.8L787.0,1238.8Z" fill="#3A53A4"/>
<path d="M802.2,1224.3L808.7,1235.9L795.7,1235.9Z" fill="#3A53A4"/>
<path d="M810.9,1221.6L817.4,1233.2L804.4,1233.2Z" fill="#3A53A4"/>
<path d="M819.6,1219.3L826.1,1230.9L813.1,1230.9Z" fill="#3A53A4"/>
<path d="M828.3,1217.1L834.8,1228.7L821.8,1228.7Z" fill="#3A53A4"/>
<path d="M837.0,1215.0L843.5,1226.6L830.5,1226.6Z" fill="#3A53A4"/>
<path d="M845.7,1212.8L852.2,1224.4L839.2,1224.4Z" fill="#3A53A4"/>
<path d="M854.4,1210.9L860.9,1222.5L847.9,1222.5Z" fill="#3A53A4"/>
<path d="M863.1,1209.1L869.6,1220.7L856.6,1220.7Z" fill="#3A53A4"/>
<path d="M871.8,1207.5L878.3,1219.1L865.3,1219.1Z" fill="#3A53A4"/>
<path d="M880.5,1206.0L887.0,1217.6L874.0,1217.6Z" fill="#3A53A4"/>
</g>
<g>
<path d="M254.1,1473.5 L262.8,1474.6 L271.5,1475.4 L280.2,1475.9 L288.9,1476.3 L297.6,1476.7 L306.3,1477.1 L315.0,1477.6 L323.7,1478.1 L332.4,1478.5 L341.1,1479.0 L349.8,1479.3 L358.5,1479.6 L367.2,1479.7 L375.9,1479.9 L384.6,1479.7 L393.3,1479.4 L402.0,1479.3 L410.7,1479.0 L419.4,1478.1 L428.1,1477.2 L436.8,1476.3 L445.5,1475.2 L454.2,1473.9 L462.9,1472.2 L471.6,1470.2 L480.3,1467.5 L489.0,1464.4 L497.7,1460.0 L506.4,1455.6 L515.1,1450.8 L523.8,1446.0 L532.5,1440.5 L541.2,1434.1 L549.9,1427.3 L558.6,1417.8 L567.3,1407.1 L576.0,1399.4 L584.7,1391.4 L593.4,1382.8 L602.1,1374.0 L610.8,1366.1 L619.5,1358.2 L628.2,1350.8 L636.9,1342.2 L645.6,1334.8 L654.3,1328.4 L663.0,1322.8 L671.7,1317.7 L680.4,1312.6 L689.1,1307.4 L697.8,1302.2 L706.5,1297.8 L715.2,1293.8 L723.9,1289.9 L732.6,1285.9 L741.3,1282.2 L750.0,1278.5 L758.7,1274.9 L767.4,1271.4 L776.1,1267.8 L784.8,1263.5 L793.5,1259.3 L802.2,1256.1 L810.9,1252.8 L819.6,1250.3 L828.3,1248.1 L837.0,1246.0 L845.7,1244.1 L854.4,1242.6 L863.1,1241.1 L871.8,1239.5 L880.5,1238.0" fill="none" stroke="#2EB24B" stroke-width="3" stroke-linejoin="round"/>
<path d="M254.1,1469.5V1477.5M248.6,1469.5H259.6M248.6,1477.5H259.6M262.8,1470.6V1478.6M257.3,1470.6H268.3M257.3,1478.6H268.3M271.5,1471.4V1479.4M266.0,1471.4H277.0M266.0,1479.4H277.0M280.2,1471.9V1479.9M274.7,1471.9H285.7M274.7,1479.9H285.7M288.9,1472.3V1480.3M283.4,1472.3H294.4M283.4,1480.3H294.4M297.6,1472.7V1480.7M292.1,1472.7H303.1M292.1,1480.7H303.1M306.3,1473.1V1481.1M300.8,1473.1H311.8M300.8,1481.1H311.8M315.0,1473.6V1481.6M309.5,1473.6H320.5M309.5,1481.6H320.5M323.7,1474.1V1482.1M318.2,1474.1H329.2M318.2,1482.1H329.2M332.4,1474.5V1482.5M326.9,1474.5H337.9M326.9,1482.5H337.9M341.1,1475.0V1483.0M335.6,1475.0H346.6M335.6,1483.0H346.6M349.8,1475.3V1483.3M344.3,1475.3H355.3M344.3,1483.3H355.3M358.5,1475.6V1483.6M353.0,1475.6H364.0M353.0,1483.6H364.0M367.2,1475.7V1483.7M361.7,1475.7H372.7M361.7,1483.7H372.7M375.9,1475.9V1483.9M370.4,1475.9H381.4M370.4,1483.9H381.4M384.6,1475.7V1483.7M379.1,1475.7H390.1M379.1,1483.7H390.1M393.3,1475.4V1483.4M387.8,1475.4H398.8M387.8,1483.4H398.8M402.0,1475.3V1483.3M396.5,1475.3H407.5M396.5,1483.3H407.5M410.7,1475.0V1483.0M405.2,1475.0H416.2M405.2,1483.0H416.2M419.4,1474.1V1482.1M413.9,1474.1H424.9M413.9,1482.1H424.9M428.1,1473.2V1481.2M422.6,1473.2H433.6M422.6,1481.2H433.6M436.8,1472.0V1480.6M431.3,1472.0H442.3M431.3,1480.6H442.3M445.5,1470.6V1479.8M440.0,1470.6H451.0M440.0,1479.8H451.0M454.2,1469.0V1478.8M448.7,1469.0H459.7M448.7,1478.8H459.7M462.9,1467.0V1477.4M457.4,1467.0H468.4M457.4,1477.4H468.4M471.6,1464.7V1475.7M466.1,1464.7H477.1M466.1,1475.7H477.1M480.3,1461.7V1473.3M474.8,1461.7H485.8M474.8,1473.3H485.8M489.0,1458.3V1470.5M483.5,1458.3H494.5M483.5,1470.5H494.5M497.7,1453.6V1466.4M492.2,1453.6H503.2M492.2,1466.4H503.2M506.4,1448.9V1462.3M500.9,1448.9H511.9M500.9,1462.3H511.9M515.1,1443.8V1457.8M509.6,1443.8H520.6M509.6,1457.8H520.6M523.8,1438.7V1453.3M518.3,1438.7H529.3M518.3,1453.3H529.3M532.5,1432.9V1448.1M527.0,1432.9H538.0M527.0,1448.1H538.0M541.2,1426.2V1442.0M535.7,1426.2H546.7M535.7,1442.0H546.7M549.9,1419.1V1435.5M544.4,1419.1H555.4M544.4,1435.5H555.4M558.6,1409.3V1426.3M553.1,1409.3H564.1M553.1,1426.3H564.1M567.3,1398.3V1415.9M561.8,1398.3H572.8M561.8,1415.9H572.8M576.0,1390.3V1408.5M570.5,1390.3H581.5M570.5,1408.5H581.5M584.7,1382.0V1400.8M579.2,1382.0H590.2M579.2,1400.8H590.2M593.4,1373.1V1392.5M587.9,1373.1H598.9M587.9,1392.5H598.9M602.1,1364.0V1384.0M596.6,1364.0H607.6M596.6,1384.0H607.6M610.8,1355.8V1376.4M605.3,1355.8H616.3M605.3,1376.4H616.3M619.5,1347.6V1368.8M614.0,1347.6H625.0M614.0,1368.8H625.0M628.2,1339.9V1361.7M622.7,1339.9H633.7M622.7,1361.7H633.7M636.9,1331.0V1353.4M631.4,1331.0H642.4M631.4,1353.4H642.4M645.6,1323.3V1346.3M640.1,1323.3H651.1M640.1,1346.3H651.1M654.3,1316.6V1340.2M648.8,1316.6H659.8M648.8,1340.2H659.8M663.0,1310.7V1334.9M657.5,1310.7H668.5M657.5,1334.9H668.5M671.7,1305.3V1330.1M666.2,1305.3H677.2M666.2,1330.1H677.2M680.4,1299.9V1325.3M674.9,1299.9H685.9M674.9,1325.3H685.9M689.1,1294.4V1320.4M683.6,1294.4H694.6M683.6,1320.4H694.6M697.8,1288.9V1315.5M692.3,1288.9H703.3M692.3,1315.5H703.3M706.5,1284.2V1311.4M701.0,1284.2H712.0M701.0,1311.4H712.0M715.2,1279.9V1307.7M709.7,1279.9H720.7M709.7,1307.7H720.7M723.9,1275.7V1304.1M718.4,1275.7H729.4M718.4,1304.1H729.4M732.6,1271.4V1300.4M727.1,1271.4H738.1M727.1,1300.4H738.1M741.3,1267.4V1297.0M735.8,1267.4H746.8M735.8,1297.0H746.8M750.0,1263.4V1293.6M744.5,1263.4H755.5M744.5,1293.6H755.5M758.7,1259.5V1290.3M753.2,1259.5H764.2M753.2,1290.3H764.2M767.4,1255.7V1287.1M761.9,1255.7H772.9M761.9,1287.1H772.9M776.1,1251.8V1283.8M770.6,1251.8H781.6M770.6,1283.8H781.6M784.8,1247.5V1279.5M779.3,1247.5H790.3M779.3,1279.5H790.3M793.5,1243.3V1275.3M788.0,1243.3H799.0M788.0,1275.3H799.0M802.2,1240.1V1272.1M796.7,1240.1H807.7M796.7,1272.1H807.7M810.9,1236.8V1268.8M805.4,1236.8H816.4M805.4,1268.8H816.4M819.6,1234.3V1266.3M814.1,1234.3H825.1M814.1,1266.3H825.1M828.3,1232.1V1264.1M822.8,1232.1H833.8M822.8,1264.1H833.8M837.0,1230.0V1262.0M831.5,1230.0H842.5M831.5,1262.0H842.5M845.7,1228.1V1260.1M840.2,1228.1H851.2M840.2,1260.1H851.2M854.4,1226.6V1258.6M848.9,1226.6H859.9M848.9,1258.6H859.9M863.1,1225.1V1257.1M857.6,1225.1H868.6M857.6,1257.1H868.6M871.8,1223.5V1255.5M866.3,1223.5H877.3M866.3,1255.5H877.3M880.5,1222.0V1254.0M875.0,1222.0H886.0M875.0,1254.0H886.0" fill="none" stroke="#2EB24B" stroke-width="1.8"/>
<path d="M254.1,1466.4L260.0,1473.5L254.1,1480.7L248.2,1473.5Z" fill="#2EB24B"/>
<path d="M262.8,1467.5L268.7,1474.6L262.8,1481.8L256.9,1474.6Z" fill="#2EB24B"/>
<path d="M271.5,1468.3L277.4,1475.4L271.5,1482.6L265.6,1475.4Z" fill="#2EB24B"/>
<path d="M280.2,1468.8L286.1,1475.9L280.2,1483.1L274.3,1475.9Z" fill="#2EB24B"/>
<path d="M288.9,1469.1L294.8,1476.3L288.9,1483.5L283.0,1476.3Z" fill="#2EB24B"/>
<path d="M297.6,1469.5L303.5,1476.7L297.6,1483.8L291.7,1476.7Z" fill="#2EB24B"/>
<path d="M306.3,1470.0L312.2,1477.1L306.3,1484.3L300.4,1477.1Z" fill="#2EB24B"/>
<path d="M315.0,1470.4L320.9,1477.6L315.0,1484.8L309.1,1477.6Z" fill="#2EB24B"/>
<path d="M323.7,1470.9L329.6,1478.1L323.7,1485.2L317.8,1478.1Z" fill="#2EB24B"/>
<path d="M332.4,1471.4L338.3,1478.5L332.4,1485.7L326.5,1478.5Z" fill="#2EB24B"/>
<path d="M341.1,1471.8L347.0,1479.0L341.1,1486.1L335.2,1479.0Z" fill="#2EB24B"/>
<path d="M349.8,1472.1L355.7,1479.3L349.8,1486.4L343.9,1479.3Z" fill="#2EB24B"/>
<path d="M358.5,1472.4L364.4,1479.6L358.5,1486.8L352.6,1479.6Z" fill="#2EB24B"/>
<path d="M367.2,1472.6L373.1,1479.7L367.2,1486.9L361.3,1479.7Z" fill="#2EB24B"/>
<path d="M375.9,1472.7L381.8,1479.9L375.9,1487.0L370.0,1479.9Z" fill="#2EB24B"/>
<path d="M384.6,1472.5L390.5,1479.7L384.6,1486.9L378.7,1479.7Z" fill="#2EB24B"/>
<path d="M393.3,1472.3L399.2,1479.4L393.3,1486.6L387.4,1479.4Z" fill="#2EB24B"/>
<path d="M402.0,1472.1L407.9,1479.3L402.0,1486.5L396.1,1479.3Z" fill="#2EB24B"/>
<path d="M410.7,1471.8L416.6,1479.0L410.7,1486.1L404.8,1479.0Z" fill="#2EB24B"/>
<path d="M419.4,1470.9L425.3,1478.1L419.4,1485.3L413.5,1478.1Z" fill="#2EB24B"/>
<path d="M428.1,1470.0L434.0,1477.2L428.1,1484.4L422.2,1477.2Z" fill="#2EB24B"/>
<path d="M436.8,1469.1L442.7,1476.3L436.8,1483.4L430.9,1476.3Z" fill="#2EB24B"/>
<path d="M445.5,1468.0L451.4,1475.2L445.5,1482.3L439.6,1475.2Z" fill="#2EB24B"/>
<path d="M454.2,1466.8L460.1,1473.9L454.2,1481.1L448.3,1473.9Z" fill="#2EB24B"/>
<path d="M462.9,1465.0L468.8,1472.2L462.9,1479.4L457.0,1472.2Z" fill="#2EB24B"/>
<path d="M471.6,1463.0L477.5,1470.2L471.6,1477.4L465.7,1470.2Z" fill="#2EB24B"/>
<path d="M480.3,1460.4L486.2,1467.5L480.3,1474.7L474.4,1467.5Z" fill="#2EB24B"/>
<path d="M489.0,1457.2L494.9,1464.4L489.0,1471.6L483.1,1464.4Z" fill="#2EB24B"/>
<path d="M497.7,1452.9L503.6,1460.0L497.7,1467.2L491.8,1460.0Z" fill="#2EB24B"/>
<path d="M506.4,1448.4L512.3,1455.6L506.4,1462.7L500.5,1455.6Z" fill="#2EB24B"/>
<path d="M515.1,1443.7L521.0,1450.8L515.1,1458.0L509.2,1450.8Z" fill="#2EB24B"/>
<path d="M523.8,1438.8L529.7,1446.0L523.8,1453.1L517.9,1446.0Z" fill="#2EB24B"/>
<path d="M532.5,1433.3L538.4,1440.5L532.5,1447.7L526.6,1440.5Z" fill="#2EB24B"/>
<path d="M541.2,1426.9L547.1,1434.1L541.2,1441.3L535.3,1434.1Z" fill="#2EB24B"/>
<path d="M549.9,1420.1L555.8,1427.3L549.9,1434.5L544.0,1427.3Z" fill="#2EB24B"/>
<path d="M558.6,1410.6L564.5,1417.8L558.6,1425.0L552.7,1417.8Z" fill="#2EB24B"/>
<path d="M567.3,1399.9L573.2,1407.1L567.3,1414.2L561.4,1407.1Z" fill="#2EB24B"/>
<path d="M576.0,1392.3L581.9,1399.4L576.0,1406.6L570.1,1399.4Z" fill="#2EB24B"/>
<path d="M584.7,1384.3L590.6,1391.4L584.7,1398.6L578.8,1391.4Z" fill="#2EB24B"/>
<path d="M593.4,1375.6L599.3,1382.8L593.4,1389.9L587.5,1382.8Z" fill="#2EB24B"/>
<path d="M602.1,1366.8L608.0,1374.0L602.1,1381.2L596.2,1374.0Z" fill="#2EB24B"/>
<path d="M610.8,1358.9L616.7,1366.1L610.8,1373.3L604.9,1366.1Z" fill="#2EB24B"/>
<path d="M619.5,1351.1L625.4,1358.2L619.5,1365.4L613.6,1358.2Z" fill="#2EB24B"/>
<path d="M628.2,1343.7L634.1,1350.8L628.2,1358.0L622.3,1350.8Z" fill="#2EB24B"/>
<path d="M636.9,1335.1L642.8,1342.2L636.9,1349.4L631.0,1342.2Z" fill="#2EB24B"/>
<path d="M645.6,1327.6L651.5,1334.8L645.6,1341.9L639.7,1334.8Z" fill="#2EB24B"/>
<path d="M654.3,1321.3L660.2,1328.4L654.3,1335.6L648.4,1328.4Z" fill="#2EB24B"/>
<path d="M663.0,1315.6L668.9,1322.8L663.0,1329.9L657.1,1322.8Z" fill="#2EB24B"/>
<path d="M671.7,1310.5L677.6,1317.7L671.7,1324.8L665.8,1317.7Z" fill="#2EB24B"/>
<path d="M680.4,1305.4L686.3,1312.6L680.4,1319.7L674.5,1312.6Z" fill="#2EB24B"/>
<path d="M689.1,1300.2L695.0,1307.4L689.1,1314.6L683.2,1307.4Z" fill="#2EB24B"/>
<path d="M697.8,1295.1L703.7,1302.2L697.8,1309.4L691.9,1302.2Z" fill="#2EB24B"/>
<path d="M706.5,1290.6L712.4,1297.8L706.5,1305.0L700.6,1297.8Z" fill="#2EB24B"/>
<path d="M715.2,1286.7L721.1,1293.8L715.2,1301.0L709.3,1293.8Z" fill="#2EB24B"/>
<path d="M723.9,1282.7L729.8,1289.9L723.9,1297.0L718.0,1289.9Z" fill="#2EB24B"/>
<path d="M732.6,1278.7L738.5,1285.9L732.6,1293.1L726.7,1285.9Z" fill="#2EB24B"/>
<path d="M741.3,1275.0L747.2,1282.2L741.3,1289.3L735.4,1282.2Z" fill="#2EB24B"/>
<path d="M750.0,1271.3L755.9,1278.5L750.0,1285.6L744.1,1278.5Z" fill="#2EB24B"/>
<path d="M758.7,1267.7L764.6,1274.9L758.7,1282.0L752.8,1274.9Z" fill="#2EB24B"/>
<path d="M767.4,1264.2L773.3,1271.4L767.4,1278.5L761.5,1271.4Z" fill="#2EB24B"/>
<path d="M776.1,1260.6L782.0,1267.8L776.1,1275.0L770.2,1267.8Z" fill="#2EB24B"/>
<path d="M784.8,1256.3L790.7,1263.5L784.8,1270.6L778.9,1263.5Z" fill="#2EB24B"/>
<path d="M793.5,1252.1L799.4,1259.3L793.5,1266.5L787.6,1259.3Z" fill="#2EB24B"/>
<path d="M802.2,1248.9L808.1,1256.1L802.2,1263.2L796.3,1256.1Z" fill="#2EB24B"/>
<path d="M810.9,1245.6L816.8,1252.8L810.9,1260.0L805.0,1252.8Z" fill="#2EB24B"/>
<path d="M819.6,1243.1L825.5,1250.3L819.6,1257.5L813.7,1250.3Z" fill="#2EB24B"/>
<path d="M828.3,1241.0L834.2,1248.1L828.3,1255.3L822.4,1248.1Z" fill="#2EB24B"/>
<path d="M837.0,1238.8L842.9,1246.0L837.0,1253.1L831.1,1246.0Z" fill="#2EB24B"/>
<path d="M845.7,1236.9L851.6,1244.1L845.7,1251.2L839.8,1244.1Z" fill="#2EB24B"/>
<path d="M854.4,1235.4L860.3,1242.6L854.4,1249.7L848.5,1242.6Z" fill="#2EB24B"/>
<path d="M863.1,1233.9L869.0,1241.1L863.1,1248.2L857.2,1241.1Z" fill="#2EB24B"/>
<path d="M871.8,1232.3L877.7,1239.5L871.8,1246.6L865.9,1239.5Z" fill="#2EB24B"/>
<path d="M880.5,1230.8L886.4,1238.0L880.5,1245.2L874.6,1238.0Z" fill="#2EB24B"/>
</g>
<g>
<path d="M254.1,1473.5 L262.8,1477.3 L271.5,1480.8 L280.2,1482.0 L288.9,1482.6 L297.6,1483.3 L306.3,1484.3 L315.0,1485.1 L323.7,1485.6 L332.4,1486.0 L341.1,1486.5 L349.8,1487.1 L358.5,1487.9 L367.2,1488.5 L375.9,1488.9 L384.6,1489.4 L393.3,1489.9 L402.0,1490.3 L410.7,1490.6 L419.4,1490.2 L428.1,1489.4 L436.8,1488.5 L445.5,1487.3 L454.2,1485.9 L462.9,1484.0 L471.6,1481.8 L480.3,1479.3 L489.0,1476.7 L497.7,1473.6 L506.4,1470.0 L515.1,1465.7 L523.8,1461.2 L532.5,1456.3 L541.2,1451.0 L549.9,1445.5 L558.6,1440.2 L567.3,1433.7 L576.0,1425.5 L584.7,1417.1 L593.4,1412.5 L602.1,1405.9 L610.8,1398.0 L619.5,1390.4 L628.2,1381.9 L636.9,1371.3 L645.6,1363.5 L654.3,1359.3 L663.0,1355.6 L671.7,1350.6 L680.4,1345.6 L689.1,1340.9 L697.8,1336.6 L706.5,1332.5 L715.2,1328.6 L723.9,1325.2 L732.6,1322.1 L741.3,1318.8 L750.0,1315.4 L758.7,1312.8 L767.4,1310.3 L776.1,1307.9 L784.8,1304.7 L793.5,1302.0 L802.2,1300.5 L810.9,1299.1 L819.6,1297.7 L828.3,1296.4 L837.0,1295.2 L845.7,1294.1 L854.4,1293.0 L863.1,1291.9 L871.8,1290.8 L880.5,1289.8" fill="none" stroke="#A7A9AC" stroke-width="3" stroke-linejoin="round"/>
<path d="M254.1,1469.5V1477.5M248.6,1469.5H259.6M248.6,1477.5H259.6M262.8,1473.3V1481.3M257.3,1473.3H268.3M257.3,1481.3H268.3M271.5,1476.8V1484.8M266.0,1476.8H277.0M266.0,1484.8H277.0M280.2,1478.0V1486.0M274.7,1478.0H285.7M274.7,1486.0H285.7M288.9,1478.6V1486.6M283.4,1478.6H294.4M283.4,1486.6H294.4M297.6,1479.3V1487.3M292.1,1479.3H303.1M292.1,1487.3H303.1M306.3,1480.3V1488.3M300.8,1480.3H311.8M300.8,1488.3H311.8M315.0,1481.1V1489.1M309.5,1481.1H320.5M309.5,1489.1H320.5M323.7,1481.6V1489.6M318.2,1481.6H329.2M318.2,1489.6H329.2M332.4,1482.0V1490.0M326.9,1482.0H337.9M326.9,1490.0H337.9M341.1,1482.5V1490.5M335.6,1482.5H346.6M335.6,1490.5H346.6M349.8,1483.1V1491.1M344.3,1483.1H355.3M344.3,1491.1H355.3M358.5,1483.9V1491.9M353.0,1483.9H364.0M353.0,1491.9H364.0M367.2,1484.5V1492.5M361.7,1484.5H372.7M361.7,1492.5H372.7M375.9,1484.9V1492.9M370.4,1484.9H381.4M370.4,1492.9H381.4M384.6,1485.4V1493.4M379.1,1485.4H390.1M379.1,1493.4H390.1M393.3,1485.9V1493.9M387.8,1485.9H398.8M387.8,1493.9H398.8M402.0,1486.3V1494.3M396.5,1486.3H407.5M396.5,1494.3H407.5M410.7,1486.6V1494.6M405.2,1486.6H416.2M405.2,1494.6H416.2M419.4,1486.2V1494.2M413.9,1486.2H424.9M413.9,1494.2H424.9M428.1,1485.4V1493.4M422.6,1485.4H433.6M422.6,1493.4H433.6M436.8,1484.5V1492.5M431.3,1484.5H442.3M431.3,1492.5H442.3M445.5,1483.3V1491.3M440.0,1483.3H451.0M440.0,1491.3H451.0M454.2,1481.9V1489.9M448.7,1481.9H459.7M448.7,1489.9H459.7M462.9,1480.0V1488.0M457.4,1480.0H468.4M457.4,1488.0H468.4M471.6,1477.8V1485.8M466.1,1477.8H477.1M466.1,1485.8H477.1M480.3,1475.3V1483.3M474.8,1475.3H485.8M474.8,1483.3H485.8M489.0,1472.7V1480.7M483.5,1472.7H494.5M483.5,1480.7H494.5M497.7,1469.6V1477.6M492.2,1469.6H503.2M492.2,1477.6H503.2M506.4,1466.0V1474.0M500.9,1466.0H511.9M500.9,1474.0H511.9M515.1,1461.7V1469.7M509.6,1461.7H520.6M509.6,1469.7H520.6M523.8,1457.2V1465.2M518.3,1457.2H529.3M518.3,1465.2H529.3M532.5,1452.3V1460.3M527.0,1452.3H538.0M527.0,1460.3H538.0M541.2,1447.0V1455.0M535.7,1447.0H546.7M535.7,1455.0H546.7M549.9,1441.5V1449.5M544.4,1441.5H555.4M544.4,1449.5H555.4M558.6,1436.2V1444.2M553.1,1436.2H564.1M553.1,1444.2H564.1M567.3,1429.7V1437.7M561.8,1429.7H572.8M561.8,1437.7H572.8M576.0,1421.5V1429.5M570.5,1421.5H581.5M570.5,1429.5H581.5M584.7,1413.1V1421.1M579.2,1413.1H590.2M579.2,1421.1H590.2M593.4,1408.5V1416.5M587.9,1408.5H598.9M587.9,1416.5H598.9M602.1,1401.9V1409.9M596.6,1401.9H607.6M596.6,1409.9H607.6M610.8,1394.0V1402.0M605.3,1394.0H616.3M605.3,1402.0H616.3M619.5,1386.4V1394.4M614.0,1386.4H625.0M614.0,1394.4H625.0M628.2,1377.9V1385.9M622.7,1377.9H633.7M622.7,1385.9H633.7M636.9,1367.3V1375.3M631.4,1367.3H642.4M631.4,1375.3H642.4M645.6,1359.5V1367.5M640.1,1359.5H651.1M640.1,1367.5H651.1M654.3,1355.3V1363.3M648.8,1355.3H659.8M648.8,1363.3H659.8M663.0,1351.6V1359.6M657.5,1351.6H668.5M657.5,1359.6H668.5M671.7,1346.6V1354.6M666.2,1346.6H677.2M666.2,1354.6H677.2M680.4,1341.6V1349.6M674.9,1341.6H685.9M674.9,1349.6H685.9M689.1,1336.9V1344.9M683.6,1336.9H694.6M683.6,1344.9H694.6M697.8,1332.6V1340.6M692.3,1332.6H703.3M692.3,1340.6H703.3M706.5,1328.5V1336.5M701.0,1328.5H712.0M701.0,1336.5H712.0M715.2,1324.6V1332.6M709.7,1324.6H720.7M709.7,1332.6H720.7M723.9,1321.2V1329.2M718.4,1321.2H729.4M718.4,1329.2H729.4M732.6,1318.1V1326.1M727.1,1318.1H738.1M727.1,1326.1H738.1M741.3,1314.8V1322.8M735.8,1314.8H746.8M735.8,1322.8H746.8M750.0,1311.4V1319.4M744.5,1311.4H755.5M744.5,1319.4H755.5M758.7,1308.8V1316.8M753.2,1308.8H764.2M753.2,1316.8H764.2M767.4,1306.3V1314.3M761.9,1306.3H772.9M761.9,1314.3H772.9M776.1,1303.9V1311.9M770.6,1303.9H781.6M770.6,1311.9H781.6M784.8,1300.7V1308.7M779.3,1300.7H790.3M779.3,1308.7H790.3M793.5,1298.0V1306.0M788.0,1298.0H799.0M788.0,1306.0H799.0M802.2,1296.5V1304.5M796.7,1296.5H807.7M796.7,1304.5H807.7M810.9,1295.1V1303.1M805.4,1295.1H816.4M805.4,1303.1H816.4M819.6,1293.7V1301.7M814.1,1293.7H825.1M814.1,1301.7H825.1M828.3,1292.4V1300.4M822.8,1292.4H833.8M822.8,1300.4H833.8M837.0,1291.2V1299.2M831.5,1291.2H842.5M831.5,1299.2H842.5M845.7,1290.1V1298.1M840.2,1290.1H851.2M840.2,1298.1H851.2M854.4,1289.0V1297.0M848.9,1289.0H859.9M848.9,1297.0H859.9M863.1,1287.9V1295.9M857.6,1287.9H868.6M857.6,1295.9H868.6M871.8,1286.8V1294.8M866.3,1286.8H877.3M866.3,1294.8H877.3M880.5,1285.8V1293.8M875.0,1285.8H886.0M875.0,1293.8H886.0" fill="none" stroke="#A7A9AC" stroke-width="1.8"/>
<path d="M254.1,1480.4L260.6,1468.8L247.6,1468.8Z" fill="#A7A9AC"/>
<path d="M262.8,1484.2L269.3,1472.6L256.3,1472.6Z" fill="#A7A9AC"/>
<path d="M271.5,1487.7L278.0,1476.1L265.0,1476.1Z" fill="#A7A9AC"/>
<path d="M280.2,1488.9L286.7,1477.3L273.7,1477.3Z" fill="#A7A9AC"/>
<path d="M288.9,1489.5L295.4,1477.9L282.4,1477.9Z" fill="#A7A9AC"/>
<path d="M297.6,1490.2L304.1,1478.6L291.1,1478.6Z" fill="#A7A9AC"/>
<path d="M306.3,1491.1L312.8,1479.5L299.8,1479.5Z" fill="#A7A9AC"/>
<path d="M315.0,1492.0L321.5,1480.4L308.5,1480.4Z" fill="#A7A9AC"/>
<path d="M323.7,1492.4L330.2,1480.8L317.2,1480.8Z" fill="#A7A9AC"/>
<path d="M332.4,1492.9L338.9,1481.3L325.9,1481.3Z" fill="#A7A9AC"/>
<path d="M341.1,1493.4L347.6,1481.8L334.6,1481.8Z" fill="#A7A9AC"/>
<path d="M349.8,1494.0L356.3,1482.4L343.3,1482.4Z" fill="#A7A9AC"/>
<path d="M358.5,1494.8L365.0,1483.2L352.0,1483.2Z" fill="#A7A9AC"/>
<path d="M367.2,1495.3L373.7,1483.7L360.7,1483.7Z" fill="#A7A9AC"/>
<path d="M375.9,1495.8L382.4,1484.2L369.4,1484.2Z" fill="#A7A9AC"/>
<path d="M384.6,1496.3L391.1,1484.7L378.1,1484.7Z" fill="#A7A9AC"/>
<path d="M393.3,1496.7L399.8,1485.1L386.8,1485.1Z" fill="#A7A9AC"/>
<path d="M402.0,1497.2L408.5,1485.6L395.5,1485.6Z" fill="#A7A9AC"/>
<path d="M410.7,1497.5L417.2,1485.9L404.2,1485.9Z" fill="#A7A9AC"/>
<path d="M419.4,1497.0L425.9,1485.4L412.9,1485.4Z" fill="#A7A9AC"/>
<path d="M428.1,1496.3L434.6,1484.7L421.6,1484.7Z" fill="#A7A9AC"/>
<path d="M436.8,1495.4L443.3,1483.8L430.3,1483.8Z" fill="#A7A9AC"/>
<path d="M445.5,1494.1L452.0,1482.5L439.0,1482.5Z" fill="#A7A9AC"/>
<path d="M454.2,1492.8L460.7,1481.2L447.7,1481.2Z" fill="#A7A9AC"/>
<path d="M462.9,1490.8L469.4,1479.2L456.4,1479.2Z" fill="#A7A9AC"/>
<path d="M471.6,1488.7L478.1,1477.1L465.1,1477.1Z" fill="#A7A9AC"/>
<path d="M480.3,1486.2L486.8,1474.6L473.8,1474.6Z" fill="#A7A9AC"/>
<path d="M489.0,1483.6L495.5,1472.0L482.5,1472.0Z" fill="#A7A9AC"/>
<path d="M497.7,1480.4L504.2,1468.8L491.2,1468.8Z" fill="#A7A9AC"/>
<path d="M506.4,1476.9L512.9,1465.3L499.9,1465.3Z" fill="#A7A9AC"/>
<path d="M515.1,1472.5L521.6,1460.9L508.6,1460.9Z" fill="#A7A9AC"/>
<path d="M523.8,1468.1L530.3,1456.5L517.3,1456.5Z" fill="#A7A9AC"/>
<path d="M532.5,1463.1L539.0,1451.5L526.0,1451.5Z" fill="#A7A9AC"/>
<path d="M541.2,1457.8L547.7,1446.2L534.7,1446.2Z" fill="#A7A9AC"/>
<path d="M549.9,1452.4L556.4,1440.8L543.4,1440.8Z" fill="#A7A9AC"/>
<path d="M558.6,1447.1L565.1,1435.5L552.1,1435.5Z" fill="#A7A9AC"/>
<path d="M567.3,1440.6L573.8,1429.0L560.8,1429.0Z" fill="#A7A9AC"/>
<path d="M576.0,1432.3L582.5,1420.7L569.5,1420.7Z" fill="#A7A9AC"/>
<path d="M584.7,1424.0L591.2,1412.4L578.2,1412.4Z" fill="#A7A9AC"/>
<path d="M593.4,1419.3L599.9,1407.7L586.9,1407.7Z" fill="#A7A9AC"/>
<path d="M602.1,1412.8L608.6,1401.2L595.6,1401.2Z" fill="#A7A9AC"/>
<path d="M610.8,1404.9L617.3,1393.3L604.3,1393.3Z" fill="#A7A9AC"/>
<path d="M619.5,1397.3L626.0,1385.7L613.0,1385.7Z" fill="#A7A9AC"/>
<path d="M628.2,1388.8L634.7,1377.2L621.7,1377.2Z" fill="#A7A9AC"/>
<path d="M636.9,1378.2L643.4,1366.6L630.4,1366.6Z" fill="#A7A9AC"/>
<path d="M645.6,1370.3L652.1,1358.7L639.1,1358.7Z" fill="#A7A9AC"/>
<path d="M654.3,1366.2L660.8,1354.6L647.8,1354.6Z" fill="#A7A9AC"/>
<path d="M663.0,1362.5L669.5,1350.9L656.5,1350.9Z" fill="#A7A9AC"/>
<path d="M671.7,1357.5L678.2,1345.9L665.2,1345.9Z" fill="#A7A9AC"/>
<path d="M680.4,1352.5L686.9,1340.9L673.9,1340.9Z" fill="#A7A9AC"/>
<path d="M689.1,1347.8L695.6,1336.2L682.6,1336.2Z" fill="#A7A9AC"/>
<path d="M697.8,1343.5L704.3,1331.9L691.3,1331.9Z" fill="#A7A9AC"/>
<path d="M706.5,1339.4L713.0,1327.8L700.0,1327.8Z" fill="#A7A9AC"/>
<path d="M715.2,1335.5L721.7,1323.9L708.7,1323.9Z" fill="#A7A9AC"/>
<path d="M723.9,1332.1L730.4,1320.5L717.4,1320.5Z" fill="#A7A9AC"/>
<path d="M732.6,1328.9L739.1,1317.3L726.1,1317.3Z" fill="#A7A9AC"/>
<path d="M741.3,1325.6L747.8,1314.0L734.8,1314.0Z" fill="#A7A9AC"/>
<path d="M750.0,1322.3L756.5,1310.7L743.5,1310.7Z" fill="#A7A9AC"/>
<path d="M758.7,1319.6L765.2,1308.0L752.2,1308.0Z" fill="#A7A9AC"/>
<path d="M767.4,1317.1L773.9,1305.5L760.9,1305.5Z" fill="#A7A9AC"/>
<path d="M776.1,1314.8L782.6,1303.2L769.6,1303.2Z" fill="#A7A9AC"/>
<path d="M784.8,1311.5L791.3,1299.9L778.3,1299.9Z" fill="#A7A9AC"/>
<path d="M793.5,1308.9L800.0,1297.3L787.0,1297.3Z" fill="#A7A9AC"/>
<path d="M802.2,1307.3L808.7,1295.7L795.7,1295.7Z" fill="#A7A9AC"/>
<path d="M810.9,1306.0L817.4,1294.4L804.4,1294.4Z" fill="#A7A9AC"/>
<path d="M819.6,1304.6L826.1,1293.0L813.1,1293.0Z" fill="#A7A9AC"/>
<path d="M828.3,1303.2L834.8,1291.6L821.8,1291.6Z" fill="#A7A9AC"/>
<path d="M837.0,1302.0L843.5,1290.4L830.5,1290.4Z" fill="#A7A9AC"/>
<path d="M845.7,1300.9L852.2,1289.3L839.2,1289.3Z" fill="#A7A9AC"/>
<path d="M854.4,1299.8L860.9,1288.2L847.9,1288.2Z" fill="#A7A9AC"/>
<path d="M863.1,1298.7L869.6,1287.1L856.6,1287.1Z" fill="#A7A9AC"/>
<path d="M871.8,1297.7L878.3,1286.1L865.3,1286.1Z" fill="#A7A9AC"/>
<path d="M880.5,1296.7L887.0,1285.1L874.0,1285.1Z" fill="#A7A9AC"/>
</g>
<g>
<path d="M254.1,1473.5 L262.8,1482.4 L271.5,1485.9 L280.2,1487.6 L288.9,1488.4 L297.6,1489.3 L306.3,1489.8 L315.0,1490.4 L323.7,1491.3 L332.4,1492.5 L341.1,1494.0 L349.8,1495.5 L358.5,1497.2 L367.2,1498.6 L375.9,1500.0 L384.6,1500.8 L393.3,1501.7 L402.0,1502.5 L410.7,1503.3 L419.4,1503.7 L428.1,1503.8 L436.8,1503.8 L445.5,1503.6 L454.2,1503.3 L462.9,1502.8 L471.6,1502.2 L480.3,1501.1 L489.0,1499.9 L497.7,1498.2 L506.4,1496.6 L515.1,1494.8 L523.8,1492.6 L532.5,1490.0 L541.2,1487.3 L549.9,1484.6 L558.6,1482.4 L567.3,1479.5 L576.0,1475.1 L584.7,1470.0 L593.4,1463.5 L602.1,1457.8 L610.8,1451.4 L619.5,1444.9 L628.2,1438.4 L636.9,1431.8 L645.6,1425.3 L654.3,1418.8 L663.0,1412.3 L671.7,1405.7 L680.4,1399.4 L689.1,1393.9 L697.8,1388.8 L706.5,1384.2 L715.2,1379.8 L723.9,1375.8 L732.6,1372.9 L741.3,1370.0 L750.0,1367.1 L758.7,1364.0 L767.4,1360.8 L776.1,1357.6 L784.8,1354.0 L793.5,1350.8 L802.2,1348.6 L810.9,1346.4 L819.6,1344.2 L828.3,1342.0 L837.0,1339.9 L845.7,1338.5 L854.4,1337.4 L863.1,1336.3 L871.8,1335.3 L880.5,1334.2" fill="none" stroke="#EC1A8C" stroke-width="3" stroke-linejoin="round"/>
<path d="M254.1,1469.5V1477.5M248.6,1469.5H259.6M248.6,1477.5H259.6M262.8,1478.4V1486.4M257.3,1478.4H268.3M257.3,1486.4H268.3M271.5,1481.9V1489.9M266.0,1481.9H277.0M266.0,1489.9H277.0M280.2,1483.6V1491.6M274.7,1483.6H285.7M274.7,1491.6H285.7M288.9,1484.4V1492.4M283.4,1484.4H294.4M283.4,1492.4H294.4M297.6,1485.3V1493.3M292.1,1485.3H303.1M292.1,1493.3H303.1M306.3,1485.8V1493.8M300.8,1485.8H311.8M300.8,1493.8H311.8M315.0,1486.4V1494.4M309.5,1486.4H320.5M309.5,1494.4H320.5M323.7,1487.3V1495.3M318.2,1487.3H329.2M318.2,1495.3H329.2M332.4,1488.5V1496.5M326.9,1488.5H337.9M326.9,1496.5H337.9M341.1,1490.0V1498.0M335.6,1490.0H346.6M335.6,1498.0H346.6M349.8,1491.5V1499.5M344.3,1491.5H355.3M344.3,1499.5H355.3M358.5,1493.2V1501.2M353.0,1493.2H364.0M353.0,1501.2H364.0M367.2,1494.6V1502.6M361.7,1494.6H372.7M361.7,1502.6H372.7M375.9,1496.0V1504.0M370.4,1496.0H381.4M370.4,1504.0H381.4M384.6,1496.8V1504.8M379.1,1496.8H390.1M379.1,1504.8H390.1M393.3,1497.7V1505.7M387.8,1497.7H398.8M387.8,1505.7H398.8M402.0,1498.5V1506.5M396.5,1498.5H407.5M396.5,1506.5H407.5M410.7,1499.3V1507.3M405.2,1499.3H416.2M405.2,1507.3H416.2M419.4,1499.7V1507.7M413.9,1499.7H424.9M413.9,1507.7H424.9M428.1,1499.8V1507.8M422.6,1499.8H433.6M422.6,1507.8H433.6M436.8,1499.8V1507.8M431.3,1499.8H442.3M431.3,1507.8H442.3M445.5,1499.6V1507.6M440.0,1499.6H451.0M440.0,1507.6H451.0M454.2,1499.3V1507.3M448.7,1499.3H459.7M448.7,1507.3H459.7M462.9,1498.8V1506.8M457.4,1498.8H468.4M457.4,1506.8H468.4M471.6,1498.2V1506.2M466.1,1498.2H477.1M466.1,1506.2H477.1M480.3,1497.1V1505.1M474.8,1497.1H485.8M474.8,1505.1H485.8M489.0,1495.9V1503.9M483.5,1495.9H494.5M483.5,1503.9H494.5M497.7,1494.2V1502.2M492.2,1494.2H503.2M492.2,1502.2H503.2M506.4,1492.6V1500.6M500.9,1492.6H511.9M500.9,1500.6H511.9M515.1,1490.8V1498.8M509.6,1490.8H520.6M509.6,1498.8H520.6M523.8,1488.6V1496.6M518.3,1488.6H529.3M518.3,1496.6H529.3M532.5,1486.0V1494.0M527.0,1486.0H538.0M527.0,1494.0H538.0M541.2,1483.3V1491.3M535.7,1483.3H546.7M535.7,1491.3H546.7M549.9,1480.6V1488.6M544.4,1480.6H555.4M544.4,1488.6H555.4M558.6,1478.4V1486.4M553.1,1478.4H564.1M553.1,1486.4H564.1M567.3,1475.5V1483.5M561.8,1475.5H572.8M561.8,1483.5H572.8M576.0,1471.1V1479.1M570.5,1471.1H581.5M570.5,1479.1H581.5M584.7,1466.0V1474.0M579.2,1466.0H590.2M579.2,1474.0H590.2M593.4,1459.5V1467.5M587.9,1459.5H598.9M587.9,1467.5H598.9M602.1,1453.8V1461.8M596.6,1453.8H607.6M596.6,1461.8H607.6M610.8,1447.4V1455.4M605.3,1447.4H616.3M605.3,1455.4H616.3M619.5,1440.9V1448.9M614.0,1440.9H625.0M614.0,1448.9H625.0M628.2,1434.4V1442.4M622.7,1434.4H633.7M622.7,1442.4H633.7M636.9,1427.8V1435.8M631.4,1427.8H642.4M631.4,1435.8H642.4M645.6,1421.3V1429.3M640.1,1421.3H651.1M640.1,1429.3H651.1M654.3,1414.8V1422.8M648.8,1414.8H659.8M648.8,1422.8H659.8M663.0,1408.3V1416.3M657.5,1408.3H668.5M657.5,1416.3H668.5M671.7,1401.7V1409.7M666.2,1401.7H677.2M666.2,1409.7H677.2M680.4,1395.4V1403.4M674.9,1395.4H685.9M674.9,1403.4H685.9M689.1,1389.9V1397.9M683.6,1389.9H694.6M683.6,1397.9H694.6M697.8,1384.8V1392.8M692.3,1384.8H703.3M692.3,1392.8H703.3M706.5,1380.2V1388.2M701.0,1380.2H712.0M701.0,1388.2H712.0M715.2,1375.8V1383.8M709.7,1375.8H720.7M709.7,1383.8H720.7M723.9,1371.8V1379.8M718.4,1371.8H729.4M718.4,1379.8H729.4M732.6,1368.9V1376.9M727.1,1368.9H738.1M727.1,1376.9H738.1M741.3,1366.0V1374.0M735.8,1366.0H746.8M735.8,1374.0H746.8M750.0,1363.1V1371.1M744.5,1363.1H755.5M744.5,1371.1H755.5M758.7,1360.0V1368.0M753.2,1360.0H764.2M753.2,1368.0H764.2M767.4,1356.8V1364.8M761.9,1356.8H772.9M761.9,1364.8H772.9M776.1,1353.6V1361.6M770.6,1353.6H781.6M770.6,1361.6H781.6M784.8,1350.0V1358.0M779.3,1350.0H790.3M779.3,1358.0H790.3M793.5,1346.8V1354.8M788.0,1346.8H799.0M788.0,1354.8H799.0M802.2,1344.6V1352.6M796.7,1344.6H807.7M796.7,1352.6H807.7M810.9,1342.4V1350.4M805.4,1342.4H816.4M805.4,1350.4H816.4M819.6,1340.2V1348.2M814.1,1340.2H825.1M814.1,1348.2H825.1M828.3,1338.0V1346.0M822.8,1338.0H833.8M822.8,1346.0H833.8M837.0,1335.9V1343.9M831.5,1335.9H842.5M831.5,1343.9H842.5M845.7,1334.5V1342.5M840.2,1334.5H851.2M840.2,1342.5H851.2M854.4,1333.4V1341.4M848.9,1333.4H859.9M848.9,1341.4H859.9M863.1,1332.3V1340.3M857.6,1332.3H868.6M857.6,1340.3H868.6M871.8,1331.3V1339.3M866.3,1331.3H877.3M866.3,1339.3H877.3M880.5,1330.2V1338.2M875.0,1330.2H886.0M875.0,1338.2H886.0" fill="none" stroke="#EC1A8C" stroke-width="1.8"/>
<circle cx="254.1" cy="1473.5" r="5.8" fill="#EC1A8C"/>
<circle cx="262.8" cy="1482.4" r="5.8" fill="#EC1A8C"/>
<circle cx="271.5" cy="1485.9" r="5.8" fill="#EC1A8C"/>
<circle cx="280.2" cy="1487.6" r="5.8" fill="#EC1A8C"/>
<circle cx="288.9" cy="1488.4" r="5.8" fill="#EC1A8C"/>
<circle cx="297.6" cy="1489.3" r="5.8" fill="#EC1A8C"/>
<circle cx="306.3" cy="1489.8" r="5.8" fill="#EC1A8C"/>
<circle cx="315.0" cy="1490.4" r="5.8" fill="#EC1A8C"/>
<circle cx="323.7" cy="1491.3" r="5.8" fill="#EC1A8C"/>
<circle cx="332.4" cy="1492.5" r="5.8" fill="#EC1A8C"/>
<circle cx="341.1" cy="1494.0" r="5.8" fill="#EC1A8C"/>
<circle cx="349.8" cy="1495.5" r="5.8" fill="#EC1A8C"/>
<circle cx="358.5" cy="1497.2" r="5.8" fill="#EC1A8C"/>
<circle cx="367.2" cy="1498.6" r="5.8" fill="#EC1A8C"/>
<circle cx="375.9" cy="1500.0" r="5.8" fill="#EC1A8C"/>
<circle cx="384.6" cy="1500.8" r="5.8" fill="#EC1A8C"/>
<circle cx="393.3" cy="1501.7" r="5.8" fill="#EC1A8C"/>
<circle cx="402.0" cy="1502.5" r="5.8" fill="#EC1A8C"/>
<circle cx="410.7" cy="1503.3" r="5.8" fill="#EC1A8C"/>
<circle cx="419.4" cy="1503.7" r="5.8" fill="#EC1A8C"/>
<circle cx="428.1" cy="1503.8" r="5.8" fill="#EC1A8C"/>
<circle cx="436.8" cy="1503.8" r="5.8" fill="#EC1A8C"/>
<circle cx="445.5" cy="1503.6" r="5.8" fill="#EC1A8C"/>
<circle cx="454.2" cy="1503.3" r="5.8" fill="#EC1A8C"/>
<circle cx="462.9" cy="1502.8" r="5.8" fill="#EC1A8C"/>
<circle cx="471.6" cy="1502.2" r="5.8" fill="#EC1A8C"/>
<circle cx="480.3" cy="1501.1" r="5.8" fill="#EC1A8C"/>
<circle cx="489.0" cy="1499.9" r="5.8" fill="#EC1A8C"/>
<circle cx="497.7" cy="1498.2" r="5.8" fill="#EC1A8C"/>
<circle cx="506.4" cy="1496.6" r="5.8" fill="#EC1A8C"/>
<circle cx="515.1" cy="1494.8" r="5.8" fill="#EC1A8C"/>
<circle cx="523.8" cy="1492.6" r="5.8" fill="#EC1A8C"/>
<circle cx="532.5" cy="1490.0" r="5.8" fill="#EC1A8C"/>
<circle cx="541.2" cy="1487.3" r="5.8" fill="#EC1A8C"/>
<circle cx="549.9" cy="1484.6" r="5.8" fill="#EC1A8C"/>
<circle cx="558.6" cy="1482.4" r="5.8" fill="#EC1A8C"/>
<circle cx="567.3" cy="1479.5" r="5.8" fill="#EC1A8C"/>
<circle cx="576.0" cy="1475.1" r="5.8" fill="#EC1A8C"/>
<circle cx="584.7" cy="1470.0" r="5.8" fill="#EC1A8C"/>
<circle cx="593.4" cy="1463.5" r="5.8" fill="#EC1A8C"/>
<circle cx="602.1" cy="1457.8" r="5.8" fill="#EC1A8C"/>
<circle cx="610.8" cy="1451.4" r="5.8" fill="#EC1A8C"/>
<circle cx="619.5" cy="1444.9" r="5.8" fill="#EC1A8C"/>
<circle cx="628.2" cy="1438.4" r="5.8" fill="#EC1A8C"/>
<circle cx="636.9" cy="1431.8" r="5.8" fill="#EC1A8C"/>
<circle cx="645.6" cy="1425.3" r="5.8" fill="#EC1A8C"/>
<circle cx="654.3" cy="1418.8" r="5.8" fill="#EC1A8C"/>
<circle cx="663.0" cy="1412.3" r="5.8" fill="#EC1A8C"/>
<circle cx="671.7" cy="1405.7" r="5.8" fill="#EC1A8C"/>
<circle cx="680.4" cy="1399.4" r="5.8" fill="#EC1A8C"/>
<circle cx="689.1" cy="1393.9" r="5.8" fill="#EC1A8C"/>
<circle cx="697.8" cy="1388.8" r="5.8" fill="#EC1A8C"/>
<circle cx="706.5" cy="1384.2" r="5.8" fill="#EC1A8C"/>
<circle cx="715.2" cy="1379.8" r="5.8" fill="#EC1A8C"/>
<circle cx="723.9" cy="1375.8" r="5.8" fill="#EC1A8C"/>
<circle cx="732.6" cy="1372.9" r="5.8" fill="#EC1A8C"/>
<circle cx="741.3" cy="1370.0" r="5.8" fill="#EC1A8C"/>
<circle cx="750.0" cy="1367.1" r="5.8" fill="#EC1A8C"/>
<circle cx="758.7" cy="1364.0" r="5.8" fill="#EC1A8C"/>
<circle cx="767.4" cy="1360.8" r="5.8" fill="#EC1A8C"/>
<circle cx="776.1" cy="1357.6" r="5.8" fill="#EC1A8C"/>
<circle cx="784.8" cy="1354.0" r="5.8" fill="#EC1A8C"/>
<circle cx="793.5" cy="1350.8" r="5.8" fill="#EC1A8C"/>
<circle cx="802.2" cy="1348.6" r="5.8" fill="#EC1A8C"/>
<circle cx="810.9" cy="1346.4" r="5.8" fill="#EC1A8C"/>
<circle cx="819.6" cy="1344.2" r="5.8" fill="#EC1A8C"/>
<circle cx="828.3" cy="1342.0" r="5.8" fill="#EC1A8C"/>
<circle cx="837.0" cy="1339.9" r="5.8" fill="#EC1A8C"/>
<circle cx="845.7" cy="1338.5" r="5.8" fill="#EC1A8C"/>
<circle cx="854.4" cy="1337.4" r="5.8" fill="#EC1A8C"/>
<circle cx="863.1" cy="1336.3" r="5.8" fill="#EC1A8C"/>
<circle cx="871.8" cy="1335.3" r="5.8" fill="#EC1A8C"/>
<circle cx="880.5" cy="1334.2" r="5.8" fill="#EC1A8C"/>
</g>
<g>
<path d="M1438.0,1465.1V1477.1M1432.5,1465.1H1443.5M1432.5,1477.1H1443.5M1446.7,1462.4V1474.4M1441.2,1462.4H1452.2M1441.2,1474.4H1452.2M1455.4,1457.5V1469.5M1449.9,1457.5H1460.9M1449.9,1469.5H1460.9M1464.1,1450.6V1462.6M1458.6,1450.6H1469.6M1458.6,1462.6H1469.6M1472.8,1440.4V1452.4M1467.3,1440.4H1478.3M1467.3,1452.4H1478.3M1481.5,1426.5V1438.5M1476.0,1426.5H1487.0M1476.0,1438.5H1487.0M1490.2,1410.3V1422.3M1484.7,1410.3H1495.7M1484.7,1422.3H1495.7M1498.9,1398.4V1410.4M1493.4,1398.4H1504.4M1493.4,1410.4H1504.4M1507.6,1388.2V1400.2M1502.1,1388.2H1513.1M1502.1,1400.2H1513.1M1516.3,1379.2V1391.2M1510.8,1379.2H1521.8M1510.8,1391.2H1521.8M1525.0,1381.3V1393.3M1519.5,1381.3H1530.5M1519.5,1393.3H1530.5M1533.7,1387.1V1399.1M1528.2,1387.1H1539.2M1528.2,1399.1H1539.2M1542.4,1390.3V1402.3M1536.9,1390.3H1547.9M1536.9,1402.3H1547.9M1551.1,1391.2V1403.2M1545.6,1391.2H1556.6M1545.6,1403.2H1556.6M1559.8,1389.9V1401.9M1554.3,1389.9H1565.3M1554.3,1401.9H1565.3M1568.5,1388.8V1400.8M1563.0,1388.8H1574.0M1563.0,1400.8H1574.0M1577.2,1387.7V1399.7M1571.7,1387.7H1582.7M1571.7,1399.7H1582.7M1585.9,1386.3V1398.3M1580.4,1386.3H1591.4M1580.4,1398.3H1591.4M1594.6,1372.3V1384.3M1589.1,1372.3H1600.1M1589.1,1384.3H1600.1M1603.3,1366.5V1378.5M1597.8,1366.5H1608.8M1597.8,1378.5H1608.8M1612.0,1359.0V1371.0M1606.5,1359.0H1617.5M1606.5,1371.0H1617.5M1620.7,1353.8V1365.8M1615.2,1353.8H1626.2M1615.2,1365.8H1626.2M1629.4,1349.7V1361.7M1623.9,1349.7H1634.9M1623.9,1361.7H1634.9M1638.1,1346.7V1358.7M1632.6,1346.7H1643.6M1632.6,1358.7H1643.6M1646.8,1340.9V1352.9M1641.3,1340.9H1652.3M1641.3,1352.9H1652.3M1655.5,1317.5V1329.5M1650.0,1317.5H1661.0M1650.0,1329.5H1661.0M1664.2,1308.4V1320.4M1658.7,1308.4H1669.7M1658.7,1320.4H1669.7M1672.9,1300.0V1312.0M1667.4,1300.0H1678.4M1667.4,1312.0H1678.4M1681.6,1288.8V1300.8M1676.1,1288.8H1687.1M1676.1,1300.8H1687.1M1690.3,1278.5V1290.5M1684.8,1278.5H1695.8M1684.8,1290.5H1695.8M1699.0,1262.1V1274.1M1693.5,1262.1H1704.5M1693.5,1274.1H1704.5M1707.7,1242.3V1254.3M1702.2,1242.3H1713.2M1702.2,1254.3H1713.2M1716.4,1233.6V1245.6M1710.9,1233.6H1721.9M1710.9,1245.6H1721.9M1725.1,1221.1V1233.1M1719.6,1221.1H1730.6M1719.6,1233.1H1730.6M1733.8,1210.9V1222.9M1728.3,1210.9H1739.3M1728.3,1222.9H1739.3M1742.5,1210.0V1222.0M1737.0,1210.0H1748.0M1737.0,1222.0H1748.0M1751.2,1215.5V1227.5M1745.7,1215.5H1756.7M1745.7,1227.5H1756.7M1759.9,1211.6V1223.6M1754.4,1211.6H1765.4M1754.4,1223.6H1765.4M1768.6,1210.4V1222.4M1763.1,1210.4H1774.1M1763.1,1222.4H1774.1M1777.3,1208.7V1220.7M1771.8,1208.7H1782.8M1771.8,1220.7H1782.8M1786.0,1204.5V1216.5M1780.5,1204.5H1791.5M1780.5,1216.5H1791.5M1794.7,1198.0V1210.0M1789.2,1198.0H1800.2M1789.2,1210.0H1800.2M1803.4,1193.0V1205.0M1797.9,1193.0H1808.9M1797.9,1205.0H1808.9M1812.1,1198.1V1210.1M1806.6,1198.1H1817.6M1806.6,1210.1H1817.6M1820.8,1190.5V1202.5M1815.3,1190.5H1826.3M1815.3,1202.5H1826.3M1829.5,1192.8V1204.8M1824.0,1192.8H1835.0M1824.0,1204.8H1835.0M1838.2,1193.4V1205.4M1832.7,1193.4H1843.7M1832.7,1205.4H1843.7M1846.9,1192.3V1204.3M1841.4,1192.3H1852.4M1841.4,1204.3H1852.4M1855.6,1189.6V1201.6M1850.1,1189.6H1861.1M1850.1,1201.6H1861.1M1864.3,1187.4V1199.4M1858.8,1187.4H1869.8M1858.8,1199.4H1869.8M1873.0,1185.0V1197.0M1867.5,1185.0H1878.5M1867.5,1197.0H1878.5M1881.7,1182.5V1194.5M1876.2,1182.5H1887.2M1876.2,1194.5H1887.2M1890.4,1179.5V1191.5M1884.9,1179.5H1895.9M1884.9,1191.5H1895.9M1899.1,1175.7V1187.7M1893.6,1175.7H1904.6M1893.6,1187.7H1904.6M1907.8,1170.5V1182.5M1902.3,1170.5H1913.3M1902.3,1182.5H1913.3M1916.5,1176.0V1188.0M1911.0,1176.0H1922.0M1911.0,1188.0H1922.0M1925.2,1173.9V1185.9M1919.7,1173.9H1930.7M1919.7,1185.9H1930.7M1933.9,1168.8V1180.8M1928.4,1168.8H1939.4M1928.4,1180.8H1939.4M1942.6,1168.4V1180.4M1937.1,1168.4H1948.1M1937.1,1180.4H1948.1M1951.3,1171.3V1183.3M1945.8,1171.3H1956.8M1945.8,1183.3H1956.8M1960.0,1171.8V1183.8M1954.5,1171.8H1965.5M1954.5,1183.8H1965.5M1968.7,1170.4V1182.4M1963.2,1170.4H1974.2M1963.2,1182.4H1974.2M1977.4,1168.5V1180.5M1971.9,1168.5H1982.9M1971.9,1180.5H1982.9M1986.1,1167.7V1179.7M1980.6,1167.7H1991.6M1980.6,1179.7H1991.6M1994.8,1169.4V1181.4M1989.3,1169.4H2000.3M1989.3,1181.4H2000.3M2003.5,1169.6V1181.6M1998.0,1169.6H2009.0M1998.0,1181.6H2009.0M2012.2,1166.2V1178.2M2006.7,1166.2H2017.7M2006.7,1178.2H2017.7M2020.9,1162.3V1174.3M2015.4,1162.3H2026.4M2015.4,1174.3H2026.4M2029.6,1160.2V1172.2M2024.1,1160.2H2035.1M2024.1,1172.2H2035.1M2038.3,1163.2V1175.2M2032.8,1163.2H2043.8M2032.8,1175.2H2043.8M2047.0,1162.8V1174.8M2041.5,1162.8H2052.5M2041.5,1174.8H2052.5M2055.7,1161.9V1173.9M2050.2,1161.9H2061.2M2050.2,1173.9H2061.2M2064.4,1164.5V1176.5M2058.9,1164.5H2069.9M2058.9,1176.5H2069.9" fill="none" stroke="#000000" stroke-width="1.8"/>
<circle cx="1438.0" cy="1471.1" r="5.8" fill="#000000"/>
<circle cx="1446.7" cy="1468.4" r="5.8" fill="#000000"/>
<circle cx="1455.4" cy="1463.5" r="5.8" fill="#000000"/>
<circle cx="1464.1" cy="1456.6" r="5.8" fill="#000000"/>
<circle cx="1472.8" cy="1446.4" r="5.8" fill="#000000"/>
<circle cx="1481.5" cy="1432.5" r="5.8" fill="#000000"/>
<circle cx="1490.2" cy="1416.3" r="5.8" fill="#000000"/>
<circle cx="1498.9" cy="1404.4" r="5.8" fill="#000000"/>
<circle cx="1507.6" cy="1394.2" r="5.8" fill="#000000"/>
<circle cx="1516.3" cy="1385.2" r="5.8" fill="#000000"/>
<circle cx="1525.0" cy="1387.3" r="5.8" fill="#000000"/>
<circle cx="1533.7" cy="1393.1" r="5.8" fill="#000000"/>
<circle cx="1542.4" cy="1396.3" r="5.8" fill="#000000"/>
<circle cx="1551.1" cy="1397.2" r="5.8" fill="#000000"/>
<circle cx="1559.8" cy="1395.9" r="5.8" fill="#000000"/>
<circle cx="1568.5" cy="1394.8" r="5.8" fill="#000000"/>
<circle cx="1577.2" cy="1393.7" r="5.8" fill="#000000"/>
<circle cx="1585.9" cy="1392.3" r="5.8" fill="#000000"/>
<circle cx="1594.6" cy="1378.3" r="5.8" fill="#000000"/>
<circle cx="1603.3" cy="1372.5" r="5.8" fill="#000000"/>
<circle cx="1612.0" cy="1365.0" r="5.8" fill="#000000"/>
<circle cx="1620.7" cy="1359.8" r="5.8" fill="#000000"/>
<circle cx="1629.4" cy="1355.7" r="5.8" fill="#000000"/>
<circle cx="1638.1" cy="1352.7" r="5.8" fill="#000000"/>
<circle cx="1646.8" cy="1346.9" r="5.8" fill="#000000"/>
<circle cx="1655.5" cy="1323.5" r="5.8" fill="#000000"/>
<circle cx="1664.2" cy="1314.4" r="5.8" fill="#000000"/>
<circle cx="1672.9" cy="1306.0" r="5.8" fill="#000000"/>
<circle cx="1681.6" cy="1294.8" r="5.8" fill="#000000"/>
<circle cx="1690.3" cy="1284.5" r="5.8" fill="#000000"/>
<circle cx="1699.0" cy="1268.1" r="5.8" fill="#000000"/>
<circle cx="1707.7" cy="1248.3" r="5.8" fill="#000000"/>
<circle cx="1716.4" cy="1239.6" r="5.8" fill="#000000"/>
<circle cx="1725.1" cy="1227.1" r="5.8" fill="#000000"/>
<circle cx="1733.8" cy="1216.9" r="5.8" fill="#000000"/>
<circle cx="1742.5" cy="1216.0" r="5.8" fill="#000000"/>
<circle cx="1751.2" cy="1221.5" r="5.8" fill="#000000"/>
<circle cx="1759.9" cy="1217.6" r="5.8" fill="#000000"/>
<circle cx="1768.6" cy="1216.4" r="5.8" fill="#000000"/>
<circle cx="1777.3" cy="1214.7" r="5.8" fill="#000000"/>
<circle cx="1786.0" cy="1210.5" r="5.8" fill="#000000"/>
<circle cx="1794.7" cy="1204.0" r="5.8" fill="#000000"/>
<circle cx="1803.4" cy="1199.0" r="5.8" fill="#000000"/>
<circle cx="1812.1" cy="1204.1" r="5.8" fill="#000000"/>
<circle cx="1820.8" cy="1196.5" r="5.8" fill="#000000"/>
<circle cx="1829.5" cy="1198.8" r="5.8" fill="#000000"/>
<circle cx="1838.2" cy="1199.4" r="5.8" fill="#000000"/>
<circle cx="1846.9" cy="1198.3" r="5.8" fill="#000000"/>
<circle cx="1855.6" cy="1195.6" r="5.8" fill="#000000"/>
<circle cx="1864.3" cy="1193.4" r="5.8" fill="#000000"/>
<circle cx="1873.0" cy="1191.0" r="5.8" fill="#000000"/>
<circle cx="1881.7" cy="1188.5" r="5.8" fill="#000000"/>
<circle cx="1890.4" cy="1185.5" r="5.8" fill="#000000"/>
<circle cx="1899.1" cy="1181.7" r="5.8" fill="#000000"/>
<circle cx="1907.8" cy="1176.5" r="5.8" fill="#000000"/>
<circle cx="1916.5" cy="1182.0" r="5.8" fill="#000000"/>
<circle cx="1925.2" cy="1179.9" r="5.8" fill="#000000"/>
<circle cx="1933.9" cy="1174.8" r="5.8" fill="#000000"/>
<circle cx="1942.6" cy="1174.4" r="5.8" fill="#000000"/>
<circle cx="1951.3" cy="1177.3" r="5.8" fill="#000000"/>
<circle cx="1960.0" cy="1177.8" r="5.8" fill="#000000"/>
<circle cx="1968.7" cy="1176.4" r="5.8" fill="#000000"/>
<circle cx="1977.4" cy="1174.5" r="5.8" fill="#000000"/>
<circle cx="1986.1" cy="1173.7" r="5.8" fill="#000000"/>
<circle cx="1994.8" cy="1175.4" r="5.8" fill="#000000"/>
<circle cx="2003.5" cy="1175.6" r="5.8" fill="#000000"/>
<circle cx="2012.2" cy="1172.2" r="5.8" fill="#000000"/>
<circle cx="2020.9" cy="1168.3" r="5.8" fill="#000000"/>
<circle cx="2029.6" cy="1166.2" r="5.8" fill="#000000"/>
<circle cx="2038.3" cy="1169.2" r="5.8" fill="#000000"/>
<circle cx="2047.0" cy="1168.8" r="5.8" fill="#000000"/>
<circle cx="2055.7" cy="1167.9" r="5.8" fill="#000000"/>
<circle cx="2064.4" cy="1170.5" r="5.8" fill="#000000"/>
</g>
<g>
<path d="M1438.0,1469.8 L1446.7,1465.1 L1455.4,1459.8 L1464.1,1453.0 L1472.8,1440.2 L1481.5,1430.7 L1490.2,1421.5 L1498.9,1416.4 L1507.6,1413.9 L1516.3,1412.4 L1525.0,1412.6 L1533.7,1413.6 L1542.4,1414.5 L1551.1,1415.2 L1559.8,1415.2 L1568.5,1415.0 L1577.2,1414.7 L1585.9,1414.1 L1594.6,1411.6 L1603.3,1408.7 L1612.0,1405.3 L1620.7,1401.7 L1629.4,1398.3 L1638.1,1394.6 L1646.8,1390.5 L1655.5,1386.1 L1664.2,1381.6 L1672.9,1377.1 L1681.6,1372.3 L1690.3,1367.0 L1699.0,1361.2 L1707.7,1354.9 L1716.4,1347.1 L1725.1,1338.3 L1733.8,1329.7 L1742.5,1321.3 L1751.2,1305.6 L1759.9,1287.6 L1768.6,1279.6 L1777.3,1272.7 L1786.0,1267.3 L1794.7,1262.4 L1803.4,1258.0 L1812.1,1253.7 L1820.8,1249.3 L1829.5,1245.0 L1838.2,1240.6 L1846.9,1236.7 L1855.6,1233.0 L1864.3,1229.3 L1873.0,1225.7 L1881.7,1223.1 L1890.4,1220.4 L1899.1,1217.0 L1907.8,1213.5 L1916.5,1210.1 L1925.2,1206.9 L1933.9,1204.2 L1942.6,1201.4 L1951.3,1198.7 L1960.0,1196.7 L1968.7,1194.8 L1977.4,1192.4 L1986.1,1189.9 L1994.8,1188.1 L2003.5,1186.3 L2012.2,1185.1 L2020.9,1183.7 L2029.6,1182.0 L2038.3,1180.5 L2047.0,1179.0 L2055.7,1179.5 L2064.4,1181.2" fill="none" stroke="#ED1C24" stroke-width="3" stroke-linejoin="round"/>
<path d="M1438.0,1466.3V1473.3M1432.5,1466.3H1443.5M1432.5,1473.3H1443.5M1446.7,1461.6V1468.6M1441.2,1461.6H1452.2M1441.2,1468.6H1452.2M1455.4,1456.3V1463.3M1449.9,1456.3H1460.9M1449.9,1463.3H1460.9M1464.1,1449.5V1456.5M1458.6,1449.5H1469.6M1458.6,1456.5H1469.6M1472.8,1436.7V1443.7M1467.3,1436.7H1478.3M1467.3,1443.7H1478.3M1481.5,1427.2V1434.2M1476.0,1427.2H1487.0M1476.0,1434.2H1487.0M1490.2,1418.0V1425.0M1484.7,1418.0H1495.7M1484.7,1425.0H1495.7M1498.9,1412.9V1419.9M1493.4,1412.9H1504.4M1493.4,1419.9H1504.4M1507.6,1410.4V1417.4M1502.1,1410.4H1513.1M1502.1,1417.4H1513.1M1516.3,1408.9V1415.9M1510.8,1408.9H1521.8M1510.8,1415.9H1521.8M1525.0,1409.1V1416.1M1519.5,1409.1H1530.5M1519.5,1416.1H1530.5M1533.7,1410.1V1417.1M1528.2,1410.1H1539.2M1528.2,1417.1H1539.2M1542.4,1411.0V1418.0M1536.9,1411.0H1547.9M1536.9,1418.0H1547.9M1551.1,1411.7V1418.7M1545.6,1411.7H1556.6M1545.6,1418.7H1556.6M1559.8,1411.7V1418.7M1554.3,1411.7H1565.3M1554.3,1418.7H1565.3M1568.5,1411.5V1418.5M1563.0,1411.5H1574.0M1563.0,1418.5H1574.0M1577.2,1411.2V1418.2M1571.7,1411.2H1582.7M1571.7,1418.2H1582.7M1585.9,1410.6V1417.6M1580.4,1410.6H1591.4M1580.4,1417.6H1591.4M1594.6,1408.1V1415.1M1589.1,1408.1H1600.1M1589.1,1415.1H1600.1M1603.3,1405.2V1412.2M1597.8,1405.2H1608.8M1597.8,1412.2H1608.8M1612.0,1401.8V1408.8M1606.5,1401.8H1617.5M1606.5,1408.8H1617.5M1620.7,1398.2V1405.2M1615.2,1398.2H1626.2M1615.2,1405.2H1626.2M1629.4,1394.8V1401.8M1623.9,1394.8H1634.9M1623.9,1401.8H1634.9M1638.1,1391.1V1398.1M1632.6,1391.1H1643.6M1632.6,1398.1H1643.6M1646.8,1387.0V1394.0M1641.3,1387.0H1652.3M1641.3,1394.0H1652.3M1655.5,1382.6V1389.6M1650.0,1382.6H1661.0M1650.0,1389.6H1661.0M1664.2,1378.1V1385.1M1658.7,1378.1H1669.7M1658.7,1385.1H1669.7M1672.9,1373.6V1380.6M1667.4,1373.6H1678.4M1667.4,1380.6H1678.4M1681.6,1368.8V1375.8M1676.1,1368.8H1687.1M1676.1,1375.8H1687.1M1690.3,1363.5V1370.5M1684.8,1363.5H1695.8M1684.8,1370.5H1695.8M1699.0,1357.7V1364.7M1693.5,1357.7H1704.5M1693.5,1364.7H1704.5M1707.7,1351.4V1358.4M1702.2,1351.4H1713.2M1702.2,1358.4H1713.2M1716.4,1343.6V1350.6M1710.9,1343.6H1721.9M1710.9,1350.6H1721.9M1725.1,1334.8V1341.8M1719.6,1334.8H1730.6M1719.6,1341.8H1730.6M1733.8,1326.2V1333.2M1728.3,1326.2H1739.3M1728.3,1333.2H1739.3M1742.5,1317.8V1324.8M1737.0,1317.8H1748.0M1737.0,1324.8H1748.0M1751.2,1302.1V1309.1M1745.7,1302.1H1756.7M1745.7,1309.1H1756.7M1759.9,1284.1V1291.1M1754.4,1284.1H1765.4M1754.4,1291.1H1765.4M1768.6,1276.1V1283.1M1763.1,1276.1H1774.1M1763.1,1283.1H1774.1M1777.3,1269.2V1276.2M1771.8,1269.2H1782.8M1771.8,1276.2H1782.8M1786.0,1263.8V1270.8M1780.5,1263.8H1791.5M1780.5,1270.8H1791.5M1794.7,1258.9V1265.9M1789.2,1258.9H1800.2M1789.2,1265.9H1800.2M1803.4,1254.5V1261.5M1797.9,1254.5H1808.9M1797.9,1261.5H1808.9M1812.1,1250.2V1257.2M1806.6,1250.2H1817.6M1806.6,1257.2H1817.6M1820.8,1245.8V1252.8M1815.3,1245.8H1826.3M1815.3,1252.8H1826.3M1829.5,1241.5V1248.5M1824.0,1241.5H1835.0M1824.0,1248.5H1835.0M1838.2,1237.1V1244.1M1832.7,1237.1H1843.7M1832.7,1244.1H1843.7M1846.9,1233.2V1240.2M1841.4,1233.2H1852.4M1841.4,1240.2H1852.4M1855.6,1229.5V1236.5M1850.1,1229.5H1861.1M1850.1,1236.5H1861.1M1864.3,1225.8V1232.8M1858.8,1225.8H1869.8M1858.8,1232.8H1869.8M1873.0,1222.2V1229.2M1867.5,1222.2H1878.5M1867.5,1229.2H1878.5M1881.7,1219.6V1226.6M1876.2,1219.6H1887.2M1876.2,1226.6H1887.2M1890.4,1216.9V1223.9M1884.9,1216.9H1895.9M1884.9,1223.9H1895.9M1899.1,1213.5V1220.5M1893.6,1213.5H1904.6M1893.6,1220.5H1904.6M1907.8,1210.0V1217.0M1902.3,1210.0H1913.3M1902.3,1217.0H1913.3M1916.5,1206.6V1213.6M1911.0,1206.6H1922.0M1911.0,1213.6H1922.0M1925.2,1203.4V1210.4M1919.7,1203.4H1930.7M1919.7,1210.4H1930.7M1933.9,1200.7V1207.7M1928.4,1200.7H1939.4M1928.4,1207.7H1939.4M1942.6,1197.9V1204.9M1937.1,1197.9H1948.1M1937.1,1204.9H1948.1M1951.3,1195.2V1202.2M1945.8,1195.2H1956.8M1945.8,1202.2H1956.8M1960.0,1193.2V1200.2M1954.5,1193.2H1965.5M1954.5,1200.2H1965.5M1968.7,1191.3V1198.3M1963.2,1191.3H1974.2M1963.2,1198.3H1974.2M1977.4,1188.9V1195.9M1971.9,1188.9H1982.9M1971.9,1195.9H1982.9M1986.1,1186.4V1193.4M1980.6,1186.4H1991.6M1980.6,1193.4H1991.6M1994.8,1184.6V1191.6M1989.3,1184.6H2000.3M1989.3,1191.6H2000.3M2003.5,1182.8V1189.8M1998.0,1182.8H2009.0M1998.0,1189.8H2009.0M2012.2,1181.6V1188.6M2006.7,1181.6H2017.7M2006.7,1188.6H2017.7M2020.9,1180.2V1187.2M2015.4,1180.2H2026.4M2015.4,1187.2H2026.4M2029.6,1178.5V1185.5M2024.1,1178.5H2035.1M2024.1,1185.5H2035.1M2038.3,1177.0V1184.0M2032.8,1177.0H2043.8M2032.8,1184.0H2043.8M2047.0,1175.5V1182.5M2041.5,1175.5H2052.5M2041.5,1182.5H2052.5M2055.7,1176.0V1183.0M2050.2,1176.0H2061.2M2050.2,1183.0H2061.2M2064.4,1177.7V1184.7M2058.9,1177.7H2069.9M2058.9,1184.7H2069.9" fill="none" stroke="#ED1C24" stroke-width="1.8"/>
<rect x="1431.7" y="1463.5" width="12.6" height="12.6" fill="#ED1C24"/>
<rect x="1440.4" y="1458.8" width="12.6" height="12.6" fill="#ED1C24"/>
<rect x="1449.1" y="1453.5" width="12.6" height="12.6" fill="#ED1C24"/>
<rect x="1457.8" y="1446.7" width="12.6" height="12.6" fill="#ED1C24"/>
<rect x="1466.5" y="1433.9" width="12.6" height="12.6" fill="#ED1C24"/>
<rect x="1475.2" y="1424.4" width="12.6" height="12.6" fill="#ED1C24"/>
<rect x="1483.9" y="1415.2" width="12.6" height="12.6" fill="#ED1C24"/>
<rect x="1492.6" y="1410.1" width="12.6" height="12.6" fill="#ED1C24"/>
<rect x="1501.3" y="1407.6" width="12.6" height="12.6" fill="#ED1C24"/>
<rect x="1510.0" y="1406.1" width="12.6" height="12.6" fill="#ED1C24"/>
<rect x="1518.7" y="1406.3" width="12.6" height="12.6" fill="#ED1C24"/>
<rect x="1527.4" y="1407.3" width="12.6" height="12.6" fill="#ED1C24"/>
<rect x="1536.1" y="1408.2" width="12.6" height="12.6" fill="#ED1C24"/>
<rect x="1544.8" y="1408.9" width="12.6" height="12.6" fill="#ED1C24"/>
<rect x="1553.5" y="1408.9" width="12.6" height="12.6" fill="#ED1C24"/>
<rect x="1562.2" y="1408.7" width="12.6" height="12.6" fill="#ED1C24"/>
<rect x="1570.9" y="1408.4" width="12.6" height="12.6" fill="#ED1C24"/>
<rect x="1579.6" y="1407.8" width="12.6" height="12.6" fill="#ED1C24"/>
<rect x="1588.3" y="1405.3" width="12.6" height="12.6" fill="#ED1C24"/>
<rect x="1597.0" y="1402.4" width="12.6" height="12.6" fill="#ED1C24"/>
<rect x="1605.7" y="1399.0" width="12.6" height="12.6" fill="#ED1C24"/>
<rect x="1614.4" y="1395.4" width="12.6" height="12.6" fill="#ED1C24"/>
<rect x="1623.1" y="1392.0" width="12.6" height="12.6" fill="#ED1C24"/>
<rect x="1631.8" y="1388.3" width="12.6" height="12.6" fill="#ED1C24"/>
<rect x="1640.5" y="1384.2" width="12.6" height="12.6" fill="#ED1C24"/>
<rect x="1649.2" y="1379.8" width="12.6" height="12.6" fill="#ED1C24"/>
<rect x="1657.9" y="1375.3" width="12.6" height="12.6" fill="#ED1C24"/>
<rect x="1666.6" y="1370.8" width="12.6" height="12.6" fill="#ED1C24"/>
<rect x="1675.3" y="1366.0" width="12.6" height="12.6" fill="#ED1C24"/>
<rect x="1684.0" y="1360.7" width="12.6" height="12.6" fill="#ED1C24"/>
<rect x="1692.7" y="1354.9" width="12.6" height="12.6" fill="#ED1C24"/>
<rect x="1701.4" y="1348.6" width="12.6" height="12.6" fill="#ED1C24"/>
<rect x="1710.1" y="1340.8" width="12.6" height="12.6" fill="#ED1C24"/>
<rect x="1718.8" y="1332.0" width="12.6" height="12.6" fill="#ED1C24"/>
<rect x="1727.5" y="1323.4" width="12.6" height="12.6" fill="#ED1C24"/>
<rect x="1736.2" y="1315.0" width="12.6" height="12.6" fill="#ED1C24"/>
<rect x="1744.9" y="1299.3" width="12.6" height="12.6" fill="#ED1C24"/>
<rect x="1753.6" y="1281.3" width="12.6" height="12.6" fill="#ED1C24"/>
<rect x="1762.3" y="1273.3" width="12.6" height="12.6" fill="#ED1C24"/>
<rect x="1771.0" y="1266.4" width="12.6" height="12.6" fill="#ED1C24"/>
<rect x="1779.7" y="1261.0" width="12.6" height="12.6" fill="#ED1C24"/>
<rect x="1788.4" y="1256.1" width="12.6" height="12.6" fill="#ED1C24"/>
<rect x="1797.1" y="1251.7" width="12.6" height="12.6" fill="#ED1C24"/>
<rect x="1805.8" y="1247.4" width="12.6" height="12.6" fill="#ED1C24"/>
<rect x="1814.5" y="1243.0" width="12.6" height="12.6" fill="#ED1C24"/>
<rect x="1823.2" y="1238.7" width="12.6" height="12.6" fill="#ED1C24"/>
<rect x="1831.9" y="1234.3" width="12.6" height="12.6" fill="#ED1C24"/>
<rect x="1840.6" y="1230.4" width="12.6" height="12.6" fill="#ED1C24"/>
<rect x="1849.3" y="1226.7" width="12.6" height="12.6" fill="#ED1C24"/>
<rect x="1858.0" y="1223.0" width="12.6" height="12.6" fill="#ED1C24"/>
<rect x="1866.7" y="1219.4" width="12.6" height="12.6" fill="#ED1C24"/>
<rect x="1875.4" y="1216.8" width="12.6" height="12.6" fill="#ED1C24"/>
<rect x="1884.1" y="1214.1" width="12.6" height="12.6" fill="#ED1C24"/>
<rect x="1892.8" y="1210.7" width="12.6" height="12.6" fill="#ED1C24"/>
<rect x="1901.5" y="1207.2" width="12.6" height="12.6" fill="#ED1C24"/>
<rect x="1910.2" y="1203.8" width="12.6" height="12.6" fill="#ED1C24"/>
<rect x="1918.9" y="1200.6" width="12.6" height="12.6" fill="#ED1C24"/>
<rect x="1927.6" y="1197.9" width="12.6" height="12.6" fill="#ED1C24"/>
<rect x="1936.3" y="1195.1" width="12.6" height="12.6" fill="#ED1C24"/>
<rect x="1945.0" y="1192.4" width="12.6" height="12.6" fill="#ED1C24"/>
<rect x="1953.7" y="1190.4" width="12.6" height="12.6" fill="#ED1C24"/>
<rect x="1962.4" y="1188.5" width="12.6" height="12.6" fill="#ED1C24"/>
<rect x="1971.1" y="1186.1" width="12.6" height="12.6" fill="#ED1C24"/>
<rect x="1979.8" y="1183.6" width="12.6" height="12.6" fill="#ED1C24"/>
<rect x="1988.5" y="1181.8" width="12.6" height="12.6" fill="#ED1C24"/>
<rect x="1997.2" y="1180.0" width="12.6" height="12.6" fill="#ED1C24"/>
<rect x="2005.9" y="1178.8" width="12.6" height="12.6" fill="#ED1C24"/>
<rect x="2014.6" y="1177.4" width="12.6" height="12.6" fill="#ED1C24"/>
<rect x="2023.3" y="1175.7" width="12.6" height="12.6" fill="#ED1C24"/>
<rect x="2032.0" y="1174.2" width="12.6" height="12.6" fill="#ED1C24"/>
<rect x="2040.7" y="1172.7" width="12.6" height="12.6" fill="#ED1C24"/>
<rect x="2049.4" y="1173.2" width="12.6" height="12.6" fill="#ED1C24"/>
<rect x="2058.1" y="1174.9" width="12.6" height="12.6" fill="#ED1C24"/>
</g>
<g>
<path d="M1438.0,1471.8 L1446.7,1469.2 L1455.4,1465.2 L1464.1,1459.8 L1472.8,1452.4 L1481.5,1444.3 L1490.2,1439.3 L1498.9,1435.1 L1507.6,1433.0 L1516.3,1431.5 L1525.0,1430.9 L1533.7,1430.4 L1542.4,1430.0 L1551.1,1429.7 L1559.8,1429.2 L1568.5,1428.9 L1577.2,1428.9 L1585.9,1428.3 L1594.6,1427.4 L1603.3,1425.9 L1612.0,1424.2 L1620.7,1422.3 L1629.4,1420.4 L1638.1,1418.3 L1646.8,1414.8 L1655.5,1410.5 L1664.2,1405.6 L1672.9,1400.6 L1681.6,1395.6 L1690.3,1390.3 L1699.0,1384.9 L1707.7,1379.0 L1716.4,1372.2 L1725.1,1364.1 L1733.8,1355.2 L1742.5,1347.5 L1751.2,1339.2 L1759.9,1330.4 L1768.6,1322.0 L1777.3,1313.6 L1786.0,1306.6 L1794.7,1299.7 L1803.4,1292.9 L1812.1,1286.8 L1820.8,1282.2 L1829.5,1277.8 L1838.2,1273.4 L1846.9,1269.1 L1855.6,1265.0 L1864.3,1262.0 L1873.0,1259.2 L1881.7,1255.8 L1890.4,1252.4 L1899.1,1249.7 L1907.8,1246.9 L1916.5,1244.1 L1925.2,1241.3 L1933.9,1238.6 L1942.6,1236.4 L1951.3,1234.5 L1960.0,1232.7 L1968.7,1230.8 L1977.4,1228.4 L1986.1,1225.9 L1994.8,1223.4 L2003.5,1221.0 L2012.2,1219.2 L2020.9,1217.3 L2029.6,1215.6 L2038.3,1214.1 L2047.0,1212.6 L2055.7,1211.9 L2064.4,1211.6" fill="none" stroke="#3A53A4" stroke-width="3" stroke-linejoin="round"/>
<path d="M1438.0,1465.8V1477.8M1432.5,1465.8H1443.5M1432.5,1477.8H1443.5M1446.7,1463.2V1475.2M1441.2,1463.2H1452.2M1441.2,1475.2H1452.2M1455.4,1459.2V1471.2M1449.9,1459.2H1460.9M1449.9,1471.2H1460.9M1464.1,1453.8V1465.8M1458.6,1453.8H1469.6M1458.6,1465.8H1469.6M1472.8,1446.4V1458.4M1467.3,1446.4H1478.3M1467.3,1458.4H1478.3M1481.5,1438.3V1450.3M1476.0,1438.3H1487.0M1476.0,1450.3H1487.0M1490.2,1433.3V1445.3M1484.7,1433.3H1495.7M1484.7,1445.3H1495.7M1498.9,1429.1V1441.1M1493.4,1429.1H1504.4M1493.4,1441.1H1504.4M1507.6,1427.0V1439.0M1502.1,1427.0H1513.1M1502.1,1439.0H1513.1M1516.3,1425.5V1437.5M1510.8,1425.5H1521.8M1510.8,1437.5H1521.8M1525.0,1424.9V1436.9M1519.5,1424.9H1530.5M1519.5,1436.9H1530.5M1533.7,1424.4V1436.4M1528.2,1424.4H1539.2M1528.2,1436.4H1539.2M1542.4,1424.0V1436.0M1536.9,1424.0H1547.9M1536.9,1436.0H1547.9M1551.1,1423.7V1435.7M1545.6,1423.7H1556.6M1545.6,1435.7H1556.6M1559.8,1423.2V1435.2M1554.3,1423.2H1565.3M1554.3,1435.2H1565.3M1568.5,1422.9V1434.9M1563.0,1422.9H1574.0M1563.0,1434.9H1574.0M1577.2,1422.9V1434.9M1571.7,1422.9H1582.7M1571.7,1434.9H1582.7M1585.9,1422.3V1434.3M1580.4,1422.3H1591.4M1580.4,1434.3H1591.4M1594.6,1421.4V1433.4M1589.1,1421.4H1600.1M1589.1,1433.4H1600.1M1603.3,1419.9V1431.9M1597.8,1419.9H1608.8M1597.8,1431.9H1608.8M1612.0,1418.2V1430.2M1606.5,1418.2H1617.5M1606.5,1430.2H1617.5M1620.7,1416.3V1428.3M1615.2,1416.3H1626.2M1615.2,1428.3H1626.2M1629.4,1414.4V1426.4M1623.9,1414.4H1634.9M1623.9,1426.4H1634.9M1638.1,1412.3V1424.3M1632.6,1412.3H1643.6M1632.6,1424.3H1643.6M1646.8,1408.8V1420.8M1641.3,1408.8H1652.3M1641.3,1420.8H1652.3M1655.5,1404.5V1416.5M1650.0,1404.5H1661.0M1650.0,1416.5H1661.0M1664.2,1399.6V1411.6M1658.7,1399.6H1669.7M1658.7,1411.6H1669.7M1672.9,1394.6V1406.6M1667.4,1394.6H1678.4M1667.4,1406.6H1678.4M1681.6,1389.6V1401.6M1676.1,1389.6H1687.1M1676.1,1401.6H1687.1M1690.3,1384.3V1396.3M1684.8,1384.3H1695.8M1684.8,1396.3H1695.8M1699.0,1378.9V1390.9M1693.5,1378.9H1704.5M1693.5,1390.9H1704.5M1707.7,1373.0V1385.0M1702.2,1373.0H1713.2M1702.2,1385.0H1713.2M1716.4,1366.2V1378.2M1710.9,1366.2H1721.9M1710.9,1378.2H1721.9M1725.1,1358.1V1370.1M1719.6,1358.1H1730.6M1719.6,1370.1H1730.6M1733.8,1349.2V1361.2M1728.3,1349.2H1739.3M1728.3,1361.2H1739.3M1742.5,1341.5V1353.5M1737.0,1341.5H1748.0M1737.0,1353.5H1748.0M1751.2,1333.2V1345.2M1745.7,1333.2H1756.7M1745.7,1345.2H1756.7M1759.9,1324.4V1336.4M1754.4,1324.4H1765.4M1754.4,1336.4H1765.4M1768.6,1316.0V1328.0M1763.1,1316.0H1774.1M1763.1,1328.0H1774.1M1777.3,1307.6V1319.6M1771.8,1307.6H1782.8M1771.8,1319.6H1782.8M1786.0,1300.6V1312.6M1780.5,1300.6H1791.5M1780.5,1312.6H1791.5M1794.7,1293.7V1305.7M1789.2,1293.7H1800.2M1789.2,1305.7H1800.2M1803.4,1286.9V1298.9M1797.9,1286.9H1808.9M1797.9,1298.9H1808.9M1812.1,1280.8V1292.8M1806.6,1280.8H1817.6M1806.6,1292.8H1817.6M1820.8,1276.2V1288.2M1815.3,1276.2H1826.3M1815.3,1288.2H1826.3M1829.5,1271.8V1283.8M1824.0,1271.8H1835.0M1824.0,1283.8H1835.0M1838.2,1267.4V1279.4M1832.7,1267.4H1843.7M1832.7,1279.4H1843.7M1846.9,1263.1V1275.1M1841.4,1263.1H1852.4M1841.4,1275.1H1852.4M1855.6,1259.0V1271.0M1850.1,1259.0H1861.1M1850.1,1271.0H1861.1M1864.3,1256.0V1268.0M1858.8,1256.0H1869.8M1858.8,1268.0H1869.8M1873.0,1253.2V1265.2M1867.5,1253.2H1878.5M1867.5,1265.2H1878.5M1881.7,1249.8V1261.8M1876.2,1249.8H1887.2M1876.2,1261.8H1887.2M1890.4,1246.4V1258.4M1884.9,1246.4H1895.9M1884.9,1258.4H1895.9M1899.1,1243.7V1255.7M1893.6,1243.7H1904.6M1893.6,1255.7H1904.6M1907.8,1240.9V1252.9M1902.3,1240.9H1913.3M1902.3,1252.9H1913.3M1916.5,1238.1V1250.1M1911.0,1238.1H1922.0M1911.0,1250.1H1922.0M1925.2,1235.3V1247.3M1919.7,1235.3H1930.7M1919.7,1247.3H1930.7M1933.9,1232.6V1244.6M1928.4,1232.6H1939.4M1928.4,1244.6H1939.4M1942.6,1230.4V1242.4M1937.1,1230.4H1948.1M1937.1,1242.4H1948.1M1951.3,1228.5V1240.5M1945.8,1228.5H1956.8M1945.8,1240.5H1956.8M1960.0,1226.7V1238.7M1954.5,1226.7H1965.5M1954.5,1238.7H1965.5M1968.7,1224.8V1236.8M1963.2,1224.8H1974.2M1963.2,1236.8H1974.2M1977.4,1222.4V1234.4M1971.9,1222.4H1982.9M1971.9,1234.4H1982.9M1986.1,1219.9V1231.9M1980.6,1219.9H1991.6M1980.6,1231.9H1991.6M1994.8,1217.4V1229.4M1989.3,1217.4H2000.3M1989.3,1229.4H2000.3M2003.5,1215.0V1227.0M1998.0,1215.0H2009.0M1998.0,1227.0H2009.0M2012.2,1213.2V1225.2M2006.7,1213.2H2017.7M2006.7,1225.2H2017.7M2020.9,1211.3V1223.3M2015.4,1211.3H2026.4M2015.4,1223.3H2026.4M2029.6,1209.6V1221.6M2024.1,1209.6H2035.1M2024.1,1221.6H2035.1M2038.3,1208.1V1220.1M2032.8,1208.1H2043.8M2032.8,1220.1H2043.8M2047.0,1206.6V1218.6M2041.5,1206.6H2052.5M2041.5,1218.6H2052.5M2055.7,1205.9V1217.9M2050.2,1205.9H2061.2M2050.2,1217.9H2061.2M2064.4,1205.6V1217.6M2058.9,1205.6H2069.9M2058.9,1217.6H2069.9" fill="none" stroke="#3A53A4" stroke-width="1.8"/>
<path d="M1438.0,1464.9L1444.5,1476.5L1431.5,1476.5Z" fill="#3A53A4"/>
<path d="M1446.7,1462.3L1453.2,1473.9L1440.2,1473.9Z" fill="#3A53A4"/>
<path d="M1455.4,1458.4L1461.9,1470.0L1448.9,1470.0Z" fill="#3A53A4"/>
<path d="M1464.1,1453.0L1470.6,1464.6L1457.6,1464.6Z" fill="#3A53A4"/>
<path d="M1472.8,1445.6L1479.3,1457.2L1466.3,1457.2Z" fill="#3A53A4"/>
<path d="M1481.5,1437.4L1488.0,1449.0L1475.0,1449.0Z" fill="#3A53A4"/>
<path d="M1490.2,1432.5L1496.7,1444.1L1483.7,1444.1Z" fill="#3A53A4"/>
<path d="M1498.9,1428.3L1505.4,1439.9L1492.4,1439.9Z" fill="#3A53A4"/>
<path d="M1507.6,1426.1L1514.1,1437.7L1501.1,1437.7Z" fill="#3A53A4"/>
<path d="M1516.3,1424.7L1522.8,1436.3L1509.8,1436.3Z" fill="#3A53A4"/>
<path d="M1525.0,1424.0L1531.5,1435.6L1518.5,1435.6Z" fill="#3A53A4"/>
<path d="M1533.7,1423.5L1540.2,1435.1L1527.2,1435.1Z" fill="#3A53A4"/>
<path d="M1542.4,1423.2L1548.9,1434.8L1535.9,1434.8Z" fill="#3A53A4"/>
<path d="M1551.1,1422.8L1557.6,1434.4L1544.6,1434.4Z" fill="#3A53A4"/>
<path d="M1559.8,1422.3L1566.3,1433.9L1553.3,1433.9Z" fill="#3A53A4"/>
<path d="M1568.5,1422.1L1575.0,1433.7L1562.0,1433.7Z" fill="#3A53A4"/>
<path d="M1577.2,1422.1L1583.7,1433.7L1570.7,1433.7Z" fill="#3A53A4"/>
<path d="M1585.9,1421.4L1592.4,1433.0L1579.4,1433.0Z" fill="#3A53A4"/>
<path d="M1594.6,1420.5L1601.1,1432.1L1588.1,1432.1Z" fill="#3A53A4"/>
<path d="M1603.3,1419.1L1609.8,1430.7L1596.8,1430.7Z" fill="#3A53A4"/>
<path d="M1612.0,1417.3L1618.5,1428.9L1605.5,1428.9Z" fill="#3A53A4"/>
<path d="M1620.7,1415.5L1627.2,1427.1L1614.2,1427.1Z" fill="#3A53A4"/>
<path d="M1629.4,1413.5L1635.9,1425.1L1622.9,1425.1Z" fill="#3A53A4"/>
<path d="M1638.1,1411.5L1644.6,1423.1L1631.6,1423.1Z" fill="#3A53A4"/>
<path d="M1646.8,1408.0L1653.3,1419.6L1640.3,1419.6Z" fill="#3A53A4"/>
<path d="M1655.5,1403.6L1662.0,1415.2L1649.0,1415.2Z" fill="#3A53A4"/>
<path d="M1664.2,1398.7L1670.7,1410.3L1657.7,1410.3Z" fill="#3A53A4"/>
<path d="M1672.9,1393.7L1679.4,1405.3L1666.4,1405.3Z" fill="#3A53A4"/>
<path d="M1681.6,1388.7L1688.1,1400.3L1675.1,1400.3Z" fill="#3A53A4"/>
<path d="M1690.3,1383.4L1696.8,1395.0L1683.8,1395.0Z" fill="#3A53A4"/>
<path d="M1699.0,1378.0L1705.5,1389.6L1692.5,1389.6Z" fill="#3A53A4"/>
<path d="M1707.7,1372.2L1714.2,1383.8L1701.2,1383.8Z" fill="#3A53A4"/>
<path d="M1716.4,1365.4L1722.9,1377.0L1709.9,1377.0Z" fill="#3A53A4"/>
<path d="M1725.1,1357.3L1731.6,1368.9L1718.6,1368.9Z" fill="#3A53A4"/>
<path d="M1733.8,1348.4L1740.3,1360.0L1727.3,1360.0Z" fill="#3A53A4"/>
<path d="M1742.5,1340.7L1749.0,1352.3L1736.0,1352.3Z" fill="#3A53A4"/>
<path d="M1751.2,1332.4L1757.7,1344.0L1744.7,1344.0Z" fill="#3A53A4"/>
<path d="M1759.9,1323.6L1766.4,1335.2L1753.4,1335.2Z" fill="#3A53A4"/>
<path d="M1768.6,1315.2L1775.1,1326.8L1762.1,1326.8Z" fill="#3A53A4"/>
<path d="M1777.3,1306.8L1783.8,1318.4L1770.8,1318.4Z" fill="#3A53A4"/>
<path d="M1786.0,1299.7L1792.5,1311.3L1779.5,1311.3Z" fill="#3A53A4"/>
<path d="M1794.7,1292.9L1801.2,1304.5L1788.2,1304.5Z" fill="#3A53A4"/>
<path d="M1803.4,1286.0L1809.9,1297.6L1796.9,1297.6Z" fill="#3A53A4"/>
<path d="M1812.1,1279.9L1818.6,1291.5L1805.6,1291.5Z" fill="#3A53A4"/>
<path d="M1820.8,1275.3L1827.3,1286.9L1814.3,1286.9Z" fill="#3A53A4"/>
<path d="M1829.5,1270.9L1836.0,1282.5L1823.0,1282.5Z" fill="#3A53A4"/>
<path d="M1838.2,1266.6L1844.7,1278.2L1831.7,1278.2Z" fill="#3A53A4"/>
<path d="M1846.9,1262.3L1853.4,1273.9L1840.4,1273.9Z" fill="#3A53A4"/>
<path d="M1855.6,1258.2L1862.1,1269.8L1849.1,1269.8Z" fill="#3A53A4"/>
<path d="M1864.3,1255.1L1870.8,1266.7L1857.8,1266.7Z" fill="#3A53A4"/>
<path d="M1873.0,1252.3L1879.5,1263.9L1866.5,1263.9Z" fill="#3A53A4"/>
<path d="M1881.7,1249.0L1888.2,1260.6L1875.2,1260.6Z" fill="#3A53A4"/>
<path d="M1890.4,1245.6L1896.9,1257.2L1883.9,1257.2Z" fill="#3A53A4"/>
<path d="M1899.1,1242.8L1905.6,1254.4L1892.6,1254.4Z" fill="#3A53A4"/>
<path d="M1907.8,1240.0L1914.3,1251.6L1901.3,1251.6Z" fill="#3A53A4"/>
<path d="M1916.5,1237.3L1923.0,1248.9L1910.0,1248.9Z" fill="#3A53A4"/>
<path d="M1925.2,1234.5L1931.7,1246.1L1918.7,1246.1Z" fill="#3A53A4"/>
<path d="M1933.9,1231.7L1940.4,1243.3L1927.4,1243.3Z" fill="#3A53A4"/>
<path d="M1942.6,1229.5L1949.1,1241.1L1936.1,1241.1Z" fill="#3A53A4"/>
<path d="M1951.3,1227.7L1957.8,1239.3L1944.8,1239.3Z" fill="#3A53A4"/>
<path d="M1960.0,1225.8L1966.5,1237.4L1953.5,1237.4Z" fill="#3A53A4"/>
<path d="M1968.7,1224.0L1975.2,1235.6L1962.2,1235.6Z" fill="#3A53A4"/>
<path d="M1977.4,1221.6L1983.9,1233.2L1970.9,1233.2Z" fill="#3A53A4"/>
<path d="M1986.1,1219.1L1992.6,1230.7L1979.6,1230.7Z" fill="#3A53A4"/>
<path d="M1994.8,1216.6L2001.3,1228.2L1988.3,1228.2Z" fill="#3A53A4"/>
<path d="M2003.5,1214.2L2010.0,1225.8L1997.0,1225.8Z" fill="#3A53A4"/>
<path d="M2012.2,1212.3L2018.7,1223.9L2005.7,1223.9Z" fill="#3A53A4"/>
<path d="M2020.9,1210.5L2027.4,1222.1L2014.4,1222.1Z" fill="#3A53A4"/>
<path d="M2029.6,1208.8L2036.1,1220.4L2023.1,1220.4Z" fill="#3A53A4"/>
<path d="M2038.3,1207.2L2044.8,1218.8L2031.8,1218.8Z" fill="#3A53A4"/>
<path d="M2047.0,1205.7L2053.5,1217.3L2040.5,1217.3Z" fill="#3A53A4"/>
<path d="M2055.7,1205.1L2062.2,1216.7L2049.2,1216.7Z" fill="#3A53A4"/>
<path d="M2064.4,1204.8L2070.9,1216.4L2057.9,1216.4Z" fill="#3A53A4"/>
</g>
<g>
<path d="M1438.0,1471.6 L1446.7,1467.5 L1455.4,1463.5 L1464.1,1459.4 L1472.8,1454.0 L1481.5,1448.4 L1490.2,1443.0 L1498.9,1437.9 L1507.6,1435.7 L1516.3,1434.4 L1525.0,1433.9 L1533.7,1433.8 L1542.4,1433.9 L1551.1,1434.1 L1559.8,1434.1 L1568.5,1433.8 L1577.2,1433.5 L1585.9,1433.2 L1594.6,1432.6 L1603.3,1431.8 L1612.0,1430.7 L1620.7,1429.5 L1629.4,1427.9 L1638.1,1425.8 L1646.8,1423.8 L1655.5,1420.6 L1664.2,1417.2 L1672.9,1413.8 L1681.6,1410.3 L1690.3,1406.5 L1699.0,1401.9 L1707.7,1396.7 L1716.4,1390.8 L1725.1,1385.1 L1733.8,1379.6 L1742.5,1373.7 L1751.2,1365.2 L1759.9,1355.3 L1768.6,1346.5 L1777.3,1337.8 L1786.0,1330.6 L1794.7,1323.7 L1803.4,1316.9 L1812.1,1310.4 L1820.8,1304.9 L1829.5,1299.3 L1838.2,1294.0 L1846.9,1289.1 L1855.6,1284.1 L1864.3,1279.6 L1873.0,1275.2 L1881.7,1271.5 L1890.4,1267.8 L1899.1,1264.2 L1907.8,1261.2 L1916.5,1258.7 L1925.2,1255.9 L1933.9,1252.8 L1942.6,1250.4 L1951.3,1248.5 L1960.0,1246.7 L1968.7,1244.8 L1977.4,1243.0 L1986.1,1241.1 L1994.8,1239.2 L2003.5,1237.4 L2012.2,1235.6 L2020.9,1234.0 L2029.6,1232.4 L2038.3,1230.9 L2047.0,1229.4 L2055.7,1228.1 L2064.4,1226.4" fill="none" stroke="#2EB24B" stroke-width="3" stroke-linejoin="round"/>
<path d="M1438.0,1466.6V1476.6M1432.5,1466.6H1443.5M1432.5,1476.6H1443.5M1446.7,1462.5V1472.5M1441.2,1462.5H1452.2M1441.2,1472.5H1452.2M1455.4,1458.5V1468.5M1449.9,1458.5H1460.9M1449.9,1468.5H1460.9M1464.1,1454.4V1464.4M1458.6,1454.4H1469.6M1458.6,1464.4H1469.6M1472.8,1449.0V1459.0M1467.3,1449.0H1478.3M1467.3,1459.0H1478.3M1481.5,1443.4V1453.4M1476.0,1443.4H1487.0M1476.0,1453.4H1487.0M1490.2,1438.0V1448.0M1484.7,1438.0H1495.7M1484.7,1448.0H1495.7M1498.9,1432.9V1442.9M1493.4,1432.9H1504.4M1493.4,1442.9H1504.4M1507.6,1430.7V1440.7M1502.1,1430.7H1513.1M1502.1,1440.7H1513.1M1516.3,1429.4V1439.4M1510.8,1429.4H1521.8M1510.8,1439.4H1521.8M1525.0,1428.9V1438.9M1519.5,1428.9H1530.5M1519.5,1438.9H1530.5M1533.7,1428.8V1438.8M1528.2,1428.8H1539.2M1528.2,1438.8H1539.2M1542.4,1428.9V1438.9M1536.9,1428.9H1547.9M1536.9,1438.9H1547.9M1551.1,1429.1V1439.1M1545.6,1429.1H1556.6M1545.6,1439.1H1556.6M1559.8,1429.1V1439.1M1554.3,1429.1H1565.3M1554.3,1439.1H1565.3M1568.5,1428.8V1438.8M1563.0,1428.8H1574.0M1563.0,1438.8H1574.0M1577.2,1428.5V1438.5M1571.7,1428.5H1582.7M1571.7,1438.5H1582.7M1585.9,1428.2V1438.2M1580.4,1428.2H1591.4M1580.4,1438.2H1591.4M1594.6,1427.6V1437.6M1589.1,1427.6H1600.1M1589.1,1437.6H1600.1M1603.3,1426.8V1436.8M1597.8,1426.8H1608.8M1597.8,1436.8H1608.8M1612.0,1425.7V1435.7M1606.5,1425.7H1617.5M1606.5,1435.7H1617.5M1620.7,1424.5V1434.5M1615.2,1424.5H1626.2M1615.2,1434.5H1626.2M1629.4,1422.9V1432.9M1623.9,1422.9H1634.9M1623.9,1432.9H1634.9M1638.1,1420.8V1430.8M1632.6,1420.8H1643.6M1632.6,1430.8H1643.6M1646.8,1418.8V1428.8M1641.3,1418.8H1652.3M1641.3,1428.8H1652.3M1655.5,1415.6V1425.6M1650.0,1415.6H1661.0M1650.0,1425.6H1661.0M1664.2,1412.2V1422.2M1658.7,1412.2H1669.7M1658.7,1422.2H1669.7M1672.9,1408.8V1418.8M1667.4,1408.8H1678.4M1667.4,1418.8H1678.4M1681.6,1405.3V1415.3M1676.1,1405.3H1687.1M1676.1,1415.3H1687.1M1690.3,1401.5V1411.5M1684.8,1401.5H1695.8M1684.8,1411.5H1695.8M1699.0,1396.9V1406.9M1693.5,1396.9H1704.5M1693.5,1406.9H1704.5M1707.7,1391.7V1401.7M1702.2,1391.7H1713.2M1702.2,1401.7H1713.2M1716.4,1385.8V1395.8M1710.9,1385.8H1721.9M1710.9,1395.8H1721.9M1725.1,1380.1V1390.1M1719.6,1380.1H1730.6M1719.6,1390.1H1730.6M1733.8,1374.6V1384.6M1728.3,1374.6H1739.3M1728.3,1384.6H1739.3M1742.5,1368.7V1378.7M1737.0,1368.7H1748.0M1737.0,1378.7H1748.0M1751.2,1360.2V1370.2M1745.7,1360.2H1756.7M1745.7,1370.2H1756.7M1759.9,1350.3V1360.3M1754.4,1350.3H1765.4M1754.4,1360.3H1765.4M1768.6,1341.5V1351.5M1763.1,1341.5H1774.1M1763.1,1351.5H1774.1M1777.3,1332.8V1342.8M1771.8,1332.8H1782.8M1771.8,1342.8H1782.8M1786.0,1325.6V1335.6M1780.5,1325.6H1791.5M1780.5,1335.6H1791.5M1794.7,1318.7V1328.7M1789.2,1318.7H1800.2M1789.2,1328.7H1800.2M1803.4,1311.9V1321.9M1797.9,1311.9H1808.9M1797.9,1321.9H1808.9M1812.1,1305.4V1315.4M1806.6,1305.4H1817.6M1806.6,1315.4H1817.6M1820.8,1299.9V1309.9M1815.3,1299.9H1826.3M1815.3,1309.9H1826.3M1829.5,1294.3V1304.3M1824.0,1294.3H1835.0M1824.0,1304.3H1835.0M1838.2,1289.0V1299.0M1832.7,1289.0H1843.7M1832.7,1299.0H1843.7M1846.9,1284.1V1294.1M1841.4,1284.1H1852.4M1841.4,1294.1H1852.4M1855.6,1279.1V1289.1M1850.1,1279.1H1861.1M1850.1,1289.1H1861.1M1864.3,1274.6V1284.6M1858.8,1274.6H1869.8M1858.8,1284.6H1869.8M1873.0,1270.2V1280.2M1867.5,1270.2H1878.5M1867.5,1280.2H1878.5M1881.7,1266.5V1276.5M1876.2,1266.5H1887.2M1876.2,1276.5H1887.2M1890.4,1262.8V1272.8M1884.9,1262.8H1895.9M1884.9,1272.8H1895.9M1899.1,1259.2V1269.2M1893.6,1259.2H1904.6M1893.6,1269.2H1904.6M1907.8,1256.2V1266.2M1902.3,1256.2H1913.3M1902.3,1266.2H1913.3M1916.5,1253.7V1263.7M1911.0,1253.7H1922.0M1911.0,1263.7H1922.0M1925.2,1250.9V1260.9M1919.7,1250.9H1930.7M1919.7,1260.9H1930.7M1933.9,1247.8V1257.8M1928.4,1247.8H1939.4M1928.4,1257.8H1939.4M1942.6,1245.4V1255.4M1937.1,1245.4H1948.1M1937.1,1255.4H1948.1M1951.3,1243.5V1253.5M1945.8,1243.5H1956.8M1945.8,1253.5H1956.8M1960.0,1241.7V1251.7M1954.5,1241.7H1965.5M1954.5,1251.7H1965.5M1968.7,1239.8V1249.8M1963.2,1239.8H1974.2M1963.2,1249.8H1974.2M1977.4,1238.0V1248.0M1971.9,1238.0H1982.9M1971.9,1248.0H1982.9M1986.1,1236.1V1246.1M1980.6,1236.1H1991.6M1980.6,1246.1H1991.6M1994.8,1234.2V1244.2M1989.3,1234.2H2000.3M1989.3,1244.2H2000.3M2003.5,1232.4V1242.4M1998.0,1232.4H2009.0M1998.0,1242.4H2009.0M2012.2,1230.6V1240.6M2006.7,1230.6H2017.7M2006.7,1240.6H2017.7M2020.9,1229.0V1239.0M2015.4,1229.0H2026.4M2015.4,1239.0H2026.4M2029.6,1227.4V1237.4M2024.1,1227.4H2035.1M2024.1,1237.4H2035.1M2038.3,1225.9V1235.9M2032.8,1225.9H2043.8M2032.8,1235.9H2043.8M2047.0,1224.4V1234.4M2041.5,1224.4H2052.5M2041.5,1234.4H2052.5M2055.7,1223.1V1233.1M2050.2,1223.1H2061.2M2050.2,1233.1H2061.2M2064.4,1221.4V1231.4M2058.9,1221.4H2069.9M2058.9,1231.4H2069.9" fill="none" stroke="#2EB24B" stroke-width="1.8"/>
<path d="M1438.0,1464.4L1443.9,1471.6L1438.0,1478.7L1432.1,1471.6Z" fill="#2EB24B"/>
<path d="M1446.7,1460.4L1452.6,1467.5L1446.7,1474.7L1440.8,1467.5Z" fill="#2EB24B"/>
<path d="M1455.4,1456.4L1461.3,1463.5L1455.4,1470.7L1449.5,1463.5Z" fill="#2EB24B"/>
<path d="M1464.1,1452.3L1470.0,1459.4L1464.1,1466.6L1458.2,1459.4Z" fill="#2EB24B"/>
<path d="M1472.8,1446.8L1478.7,1454.0L1472.8,1461.2L1466.9,1454.0Z" fill="#2EB24B"/>
<path d="M1481.5,1441.2L1487.4,1448.4L1481.5,1455.6L1475.6,1448.4Z" fill="#2EB24B"/>
<path d="M1490.2,1435.8L1496.1,1443.0L1490.2,1450.1L1484.3,1443.0Z" fill="#2EB24B"/>
<path d="M1498.9,1430.7L1504.8,1437.9L1498.9,1445.0L1493.0,1437.9Z" fill="#2EB24B"/>
<path d="M1507.6,1428.6L1513.5,1435.7L1507.6,1442.9L1501.7,1435.7Z" fill="#2EB24B"/>
<path d="M1516.3,1427.2L1522.2,1434.4L1516.3,1441.6L1510.4,1434.4Z" fill="#2EB24B"/>
<path d="M1525.0,1426.8L1530.9,1433.9L1525.0,1441.1L1519.1,1433.9Z" fill="#2EB24B"/>
<path d="M1533.7,1426.6L1539.6,1433.8L1533.7,1440.9L1527.8,1433.8Z" fill="#2EB24B"/>
<path d="M1542.4,1426.8L1548.3,1433.9L1542.4,1441.1L1536.5,1433.9Z" fill="#2EB24B"/>
<path d="M1551.1,1426.9L1557.0,1434.1L1551.1,1441.3L1545.2,1434.1Z" fill="#2EB24B"/>
<path d="M1559.8,1426.9L1565.7,1434.1L1559.8,1441.3L1553.9,1434.1Z" fill="#2EB24B"/>
<path d="M1568.5,1426.7L1574.4,1433.8L1568.5,1441.0L1562.6,1433.8Z" fill="#2EB24B"/>
<path d="M1577.2,1426.3L1583.1,1433.5L1577.2,1440.7L1571.3,1433.5Z" fill="#2EB24B"/>
<path d="M1585.9,1426.0L1591.8,1433.2L1585.9,1440.4L1580.0,1433.2Z" fill="#2EB24B"/>
<path d="M1594.6,1425.5L1600.5,1432.6L1594.6,1439.8L1588.7,1432.6Z" fill="#2EB24B"/>
<path d="M1603.3,1424.6L1609.2,1431.8L1603.3,1439.0L1597.4,1431.8Z" fill="#2EB24B"/>
<path d="M1612.0,1423.6L1617.9,1430.7L1612.0,1437.9L1606.1,1430.7Z" fill="#2EB24B"/>
<path d="M1620.7,1422.3L1626.6,1429.5L1620.7,1436.7L1614.8,1429.5Z" fill="#2EB24B"/>
<path d="M1629.4,1420.7L1635.3,1427.9L1629.4,1435.0L1623.5,1427.9Z" fill="#2EB24B"/>
<path d="M1638.1,1418.7L1644.0,1425.8L1638.1,1433.0L1632.2,1425.8Z" fill="#2EB24B"/>
<path d="M1646.8,1416.6L1652.7,1423.8L1646.8,1430.9L1640.9,1423.8Z" fill="#2EB24B"/>
<path d="M1655.5,1413.4L1661.4,1420.6L1655.5,1427.8L1649.6,1420.6Z" fill="#2EB24B"/>
<path d="M1664.2,1410.0L1670.1,1417.2L1664.2,1424.4L1658.3,1417.2Z" fill="#2EB24B"/>
<path d="M1672.9,1406.6L1678.8,1413.8L1672.9,1420.9L1667.0,1413.8Z" fill="#2EB24B"/>
<path d="M1681.6,1403.2L1687.5,1410.3L1681.6,1417.5L1675.7,1410.3Z" fill="#2EB24B"/>
<path d="M1690.3,1399.3L1696.2,1406.5L1690.3,1413.7L1684.4,1406.5Z" fill="#2EB24B"/>
<path d="M1699.0,1394.7L1704.9,1401.9L1699.0,1409.0L1693.1,1401.9Z" fill="#2EB24B"/>
<path d="M1707.7,1389.5L1713.6,1396.7L1707.7,1403.8L1701.8,1396.7Z" fill="#2EB24B"/>
<path d="M1716.4,1383.6L1722.3,1390.8L1716.4,1398.0L1710.5,1390.8Z" fill="#2EB24B"/>
<path d="M1725.1,1378.0L1731.0,1385.1L1725.1,1392.3L1719.2,1385.1Z" fill="#2EB24B"/>
<path d="M1733.8,1372.4L1739.7,1379.6L1733.8,1386.8L1727.9,1379.6Z" fill="#2EB24B"/>
<path d="M1742.5,1366.6L1748.4,1373.7L1742.5,1380.9L1736.6,1373.7Z" fill="#2EB24B"/>
<path d="M1751.2,1358.1L1757.1,1365.2L1751.2,1372.4L1745.3,1365.2Z" fill="#2EB24B"/>
<path d="M1759.9,1348.1L1765.8,1355.3L1759.9,1362.4L1754.0,1355.3Z" fill="#2EB24B"/>
<path d="M1768.6,1339.3L1774.5,1346.5L1768.6,1353.6L1762.7,1346.5Z" fill="#2EB24B"/>
<path d="M1777.3,1330.6L1783.2,1337.8L1777.3,1345.0L1771.4,1337.8Z" fill="#2EB24B"/>
<path d="M1786.0,1323.4L1791.9,1330.6L1786.0,1337.7L1780.1,1330.6Z" fill="#2EB24B"/>
<path d="M1794.7,1316.5L1800.6,1323.7L1794.7,1330.9L1788.8,1323.7Z" fill="#2EB24B"/>
<path d="M1803.4,1309.7L1809.3,1316.9L1803.4,1324.0L1797.5,1316.9Z" fill="#2EB24B"/>
<path d="M1812.1,1303.3L1818.0,1310.4L1812.1,1317.6L1806.2,1310.4Z" fill="#2EB24B"/>
<path d="M1820.8,1297.7L1826.7,1304.9L1820.8,1312.1L1814.9,1304.9Z" fill="#2EB24B"/>
<path d="M1829.5,1292.2L1835.4,1299.3L1829.5,1306.5L1823.6,1299.3Z" fill="#2EB24B"/>
<path d="M1838.2,1286.9L1844.1,1294.0L1838.2,1301.2L1832.3,1294.0Z" fill="#2EB24B"/>
<path d="M1846.9,1281.9L1852.8,1289.1L1846.9,1296.2L1841.0,1289.1Z" fill="#2EB24B"/>
<path d="M1855.6,1276.9L1861.5,1284.1L1855.6,1291.2L1849.7,1284.1Z" fill="#2EB24B"/>
<path d="M1864.3,1272.4L1870.2,1279.6L1864.3,1286.7L1858.4,1279.6Z" fill="#2EB24B"/>
<path d="M1873.0,1268.0L1878.9,1275.2L1873.0,1282.4L1867.1,1275.2Z" fill="#2EB24B"/>
<path d="M1881.7,1264.3L1887.6,1271.5L1881.7,1278.6L1875.8,1271.5Z" fill="#2EB24B"/>
<path d="M1890.4,1260.6L1896.3,1267.8L1890.4,1274.9L1884.5,1267.8Z" fill="#2EB24B"/>
<path d="M1899.1,1257.0L1905.0,1264.2L1899.1,1271.4L1893.2,1264.2Z" fill="#2EB24B"/>
<path d="M1907.8,1254.0L1913.7,1261.2L1907.8,1268.4L1901.9,1261.2Z" fill="#2EB24B"/>
<path d="M1916.5,1251.5L1922.4,1258.7L1916.5,1265.9L1910.6,1258.7Z" fill="#2EB24B"/>
<path d="M1925.2,1248.8L1931.1,1255.9L1925.2,1263.1L1919.3,1255.9Z" fill="#2EB24B"/>
<path d="M1933.9,1245.6L1939.8,1252.8L1933.9,1260.0L1928.0,1252.8Z" fill="#2EB24B"/>
<path d="M1942.6,1243.2L1948.5,1250.4L1942.6,1257.5L1936.7,1250.4Z" fill="#2EB24B"/>
<path d="M1951.3,1241.3L1957.2,1248.5L1951.3,1255.7L1945.4,1248.5Z" fill="#2EB24B"/>
<path d="M1960.0,1239.5L1965.9,1246.7L1960.0,1253.8L1954.1,1246.7Z" fill="#2EB24B"/>
<path d="M1968.7,1237.6L1974.6,1244.8L1968.7,1252.0L1962.8,1244.8Z" fill="#2EB24B"/>
<path d="M1977.4,1235.8L1983.3,1243.0L1977.4,1250.1L1971.5,1243.0Z" fill="#2EB24B"/>
<path d="M1986.1,1233.9L1992.0,1241.1L1986.1,1248.3L1980.2,1241.1Z" fill="#2EB24B"/>
<path d="M1994.8,1232.1L2000.7,1239.2L1994.8,1246.4L1988.9,1239.2Z" fill="#2EB24B"/>
<path d="M2003.5,1230.2L2009.4,1237.4L2003.5,1244.6L1997.6,1237.4Z" fill="#2EB24B"/>
<path d="M2012.2,1228.4L2018.1,1235.6L2012.2,1242.7L2006.3,1235.6Z" fill="#2EB24B"/>
<path d="M2020.9,1226.8L2026.8,1234.0L2020.9,1241.2L2015.0,1234.0Z" fill="#2EB24B"/>
<path d="M2029.6,1225.3L2035.5,1232.4L2029.6,1239.6L2023.7,1232.4Z" fill="#2EB24B"/>
<path d="M2038.3,1223.7L2044.2,1230.9L2038.3,1238.0L2032.4,1230.9Z" fill="#2EB24B"/>
<path d="M2047.0,1222.2L2052.9,1229.4L2047.0,1236.5L2041.1,1229.4Z" fill="#2EB24B"/>
<path d="M2055.7,1220.9L2061.6,1228.1L2055.7,1235.2L2049.8,1228.1Z" fill="#2EB24B"/>
<path d="M2064.4,1219.3L2070.3,1226.4L2064.4,1233.6L2058.5,1226.4Z" fill="#2EB24B"/>
</g>
<g>
<path d="M1438.0,1472.7 L1446.7,1470.7 L1455.4,1468.1 L1464.1,1464.7 L1472.8,1460.7 L1481.5,1457.0 L1490.2,1453.0 L1498.9,1449.3 L1507.6,1447.8 L1516.3,1446.8 L1525.0,1447.0 L1533.7,1447.1 L1542.4,1447.1 L1551.1,1446.7 L1559.8,1445.8 L1568.5,1445.0 L1577.2,1444.2 L1585.9,1443.3 L1594.6,1442.3 L1603.3,1441.3 L1612.0,1440.3 L1620.7,1439.3 L1629.4,1437.7 L1638.1,1435.7 L1646.8,1431.7 L1655.5,1426.7 L1664.2,1422.3 L1672.9,1418.1 L1681.6,1414.0 L1690.3,1409.5 L1699.0,1404.2 L1707.7,1398.7 L1716.4,1393.1 L1725.1,1387.4 L1733.8,1381.6 L1742.5,1376.2 L1751.2,1369.6 L1759.9,1361.9 L1768.6,1353.0 L1777.3,1344.0 L1786.0,1334.2 L1794.7,1324.6 L1803.4,1317.7 L1812.1,1311.2 L1820.8,1305.2 L1829.5,1299.6 L1838.2,1294.5 L1846.9,1289.5 L1855.6,1284.2 L1864.3,1279.1 L1873.0,1274.1 L1881.7,1270.3 L1890.4,1266.3 L1899.1,1261.1 L1907.8,1256.4 L1916.5,1252.9 L1925.2,1249.5 L1933.9,1246.1 L1942.6,1243.0 L1951.3,1240.2 L1960.0,1237.9 L1968.7,1236.0 L1977.4,1234.2 L1986.1,1232.3 L1994.8,1230.5 L2003.5,1228.6 L2012.2,1226.8 L2020.9,1224.9 L2029.6,1223.2 L2038.3,1222.0 L2047.0,1221.1 L2055.7,1220.0 L2064.4,1218.5" fill="none" stroke="#A7A9AC" stroke-width="3" stroke-linejoin="round"/>
<path d="M1438.0,1466.7V1478.7M1432.5,1466.7H1443.5M1432.5,1478.7H1443.5M1446.7,1464.7V1476.7M1441.2,1464.7H1452.2M1441.2,1476.7H1452.2M1455.4,1462.1V1474.1M1449.9,1462.1H1460.9M1449.9,1474.1H1460.9M1464.1,1458.7V1470.7M1458.6,1458.7H1469.6M1458.6,1470.7H1469.6M1472.8,1454.7V1466.7M1467.3,1454.7H1478.3M1467.3,1466.7H1478.3M1481.5,1451.0V1463.0M1476.0,1451.0H1487.0M1476.0,1463.0H1487.0M1490.2,1447.0V1459.0M1484.7,1447.0H1495.7M1484.7,1459.0H1495.7M1498.9,1443.3V1455.3M1493.4,1443.3H1504.4M1493.4,1455.3H1504.4M1507.6,1441.8V1453.8M1502.1,1441.8H1513.1M1502.1,1453.8H1513.1M1516.3,1440.8V1452.8M1510.8,1440.8H1521.8M1510.8,1452.8H1521.8M1525.0,1441.0V1453.0M1519.5,1441.0H1530.5M1519.5,1453.0H1530.5M1533.7,1441.1V1453.1M1528.2,1441.1H1539.2M1528.2,1453.1H1539.2M1542.4,1441.1V1453.1M1536.9,1441.1H1547.9M1536.9,1453.1H1547.9M1551.1,1440.7V1452.7M1545.6,1440.7H1556.6M1545.6,1452.7H1556.6M1559.8,1439.8V1451.8M1554.3,1439.8H1565.3M1554.3,1451.8H1565.3M1568.5,1439.0V1451.0M1563.0,1439.0H1574.0M1563.0,1451.0H1574.0M1577.2,1438.2V1450.2M1571.7,1438.2H1582.7M1571.7,1450.2H1582.7M1585.9,1437.3V1449.3M1580.4,1437.3H1591.4M1580.4,1449.3H1591.4M1594.6,1436.3V1448.3M1589.1,1436.3H1600.1M1589.1,1448.3H1600.1M1603.3,1435.3V1447.3M1597.8,1435.3H1608.8M1597.8,1447.3H1608.8M1612.0,1434.3V1446.3M1606.5,1434.3H1617.5M1606.5,1446.3H1617.5M1620.7,1433.3V1445.3M1615.2,1433.3H1626.2M1615.2,1445.3H1626.2M1629.4,1431.7V1443.7M1623.9,1431.7H1634.9M1623.9,1443.7H1634.9M1638.1,1429.7V1441.7M1632.6,1429.7H1643.6M1632.6,1441.7H1643.6M1646.8,1425.7V1437.7M1641.3,1425.7H1652.3M1641.3,1437.7H1652.3M1655.5,1420.7V1432.7M1650.0,1420.7H1661.0M1650.0,1432.7H1661.0M1664.2,1416.3V1428.3M1658.7,1416.3H1669.7M1658.7,1428.3H1669.7M1672.9,1412.1V1424.1M1667.4,1412.1H1678.4M1667.4,1424.1H1678.4M1681.6,1408.0V1420.0M1676.1,1408.0H1687.1M1676.1,1420.0H1687.1M1690.3,1403.5V1415.5M1684.8,1403.5H1695.8M1684.8,1415.5H1695.8M1699.0,1398.2V1410.2M1693.5,1398.2H1704.5M1693.5,1410.2H1704.5M1707.7,1392.7V1404.7M1702.2,1392.7H1713.2M1702.2,1404.7H1713.2M1716.4,1387.1V1399.1M1710.9,1387.1H1721.9M1710.9,1399.1H1721.9M1725.1,1381.4V1393.4M1719.6,1381.4H1730.6M1719.6,1393.4H1730.6M1733.8,1375.6V1387.6M1728.3,1375.6H1739.3M1728.3,1387.6H1739.3M1742.5,1370.2V1382.2M1737.0,1370.2H1748.0M1737.0,1382.2H1748.0M1751.2,1363.6V1375.6M1745.7,1363.6H1756.7M1745.7,1375.6H1756.7M1759.9,1355.9V1367.9M1754.4,1355.9H1765.4M1754.4,1367.9H1765.4M1768.6,1347.0V1359.0M1763.1,1347.0H1774.1M1763.1,1359.0H1774.1M1777.3,1338.0V1350.0M1771.8,1338.0H1782.8M1771.8,1350.0H1782.8M1786.0,1328.2V1340.2M1780.5,1328.2H1791.5M1780.5,1340.2H1791.5M1794.7,1318.6V1330.6M1789.2,1318.6H1800.2M1789.2,1330.6H1800.2M1803.4,1311.7V1323.7M1797.9,1311.7H1808.9M1797.9,1323.7H1808.9M1812.1,1305.2V1317.2M1806.6,1305.2H1817.6M1806.6,1317.2H1817.6M1820.8,1299.2V1311.2M1815.3,1299.2H1826.3M1815.3,1311.2H1826.3M1829.5,1293.6V1305.6M1824.0,1293.6H1835.0M1824.0,1305.6H1835.0M1838.2,1288.5V1300.5M1832.7,1288.5H1843.7M1832.7,1300.5H1843.7M1846.9,1283.5V1295.5M1841.4,1283.5H1852.4M1841.4,1295.5H1852.4M1855.6,1278.2V1290.2M1850.1,1278.2H1861.1M1850.1,1290.2H1861.1M1864.3,1273.1V1285.1M1858.8,1273.1H1869.8M1858.8,1285.1H1869.8M1873.0,1268.1V1280.1M1867.5,1268.1H1878.5M1867.5,1280.1H1878.5M1881.7,1264.3V1276.3M1876.2,1264.3H1887.2M1876.2,1276.3H1887.2M1890.4,1260.3V1272.3M1884.9,1260.3H1895.9M1884.9,1272.3H1895.9M1899.1,1255.1V1267.1M1893.6,1255.1H1904.6M1893.6,1267.1H1904.6M1907.8,1250.4V1262.4M1902.3,1250.4H1913.3M1902.3,1262.4H1913.3M1916.5,1246.9V1258.9M1911.0,1246.9H1922.0M1911.0,1258.9H1922.0M1925.2,1243.5V1255.5M1919.7,1243.5H1930.7M1919.7,1255.5H1930.7M1933.9,1240.1V1252.1M1928.4,1240.1H1939.4M1928.4,1252.1H1939.4M1942.6,1237.0V1249.0M1937.1,1237.0H1948.1M1937.1,1249.0H1948.1M1951.3,1234.2V1246.2M1945.8,1234.2H1956.8M1945.8,1246.2H1956.8M1960.0,1231.9V1243.9M1954.5,1231.9H1965.5M1954.5,1243.9H1965.5M1968.7,1230.0V1242.0M1963.2,1230.0H1974.2M1963.2,1242.0H1974.2M1977.4,1228.2V1240.2M1971.9,1228.2H1982.9M1971.9,1240.2H1982.9M1986.1,1226.3V1238.3M1980.6,1226.3H1991.6M1980.6,1238.3H1991.6M1994.8,1224.5V1236.5M1989.3,1224.5H2000.3M1989.3,1236.5H2000.3M2003.5,1222.6V1234.6M1998.0,1222.6H2009.0M1998.0,1234.6H2009.0M2012.2,1220.8V1232.8M2006.7,1220.8H2017.7M2006.7,1232.8H2017.7M2020.9,1218.9V1230.9M2015.4,1218.9H2026.4M2015.4,1230.9H2026.4M2029.6,1217.2V1229.2M2024.1,1217.2H2035.1M2024.1,1229.2H2035.1M2038.3,1216.0V1228.0M2032.8,1216.0H2043.8M2032.8,1228.0H2043.8M2047.0,1215.1V1227.1M2041.5,1215.1H2052.5M2041.5,1227.1H2052.5M2055.7,1214.0V1226.0M2050.2,1214.0H2061.2M2050.2,1226.0H2061.2M2064.4,1212.5V1224.5M2058.9,1212.5H2069.9M2058.9,1224.5H2069.9" fill="none" stroke="#A7A9AC" stroke-width="1.8"/>
<path d="M1438.0,1479.5L1444.5,1467.9L1431.5,1467.9Z" fill="#A7A9AC"/>
<path d="M1446.7,1477.6L1453.2,1466.0L1440.2,1466.0Z" fill="#A7A9AC"/>
<path d="M1455.4,1474.9L1461.9,1463.3L1448.9,1463.3Z" fill="#A7A9AC"/>
<path d="M1464.1,1471.6L1470.6,1460.0L1457.6,1460.0Z" fill="#A7A9AC"/>
<path d="M1472.8,1467.5L1479.3,1455.9L1466.3,1455.9Z" fill="#A7A9AC"/>
<path d="M1481.5,1463.8L1488.0,1452.2L1475.0,1452.2Z" fill="#A7A9AC"/>
<path d="M1490.2,1459.8L1496.7,1448.2L1483.7,1448.2Z" fill="#A7A9AC"/>
<path d="M1498.9,1456.2L1505.4,1444.6L1492.4,1444.6Z" fill="#A7A9AC"/>
<path d="M1507.6,1454.6L1514.1,1443.0L1501.1,1443.0Z" fill="#A7A9AC"/>
<path d="M1516.3,1453.7L1522.8,1442.1L1509.8,1442.1Z" fill="#A7A9AC"/>
<path d="M1525.0,1453.8L1531.5,1442.2L1518.5,1442.2Z" fill="#A7A9AC"/>
<path d="M1533.7,1454.0L1540.2,1442.4L1527.2,1442.4Z" fill="#A7A9AC"/>
<path d="M1542.4,1454.0L1548.9,1442.4L1535.9,1442.4Z" fill="#A7A9AC"/>
<path d="M1551.1,1453.5L1557.6,1441.9L1544.6,1441.9Z" fill="#A7A9AC"/>
<path d="M1559.8,1452.7L1566.3,1441.1L1553.3,1441.1Z" fill="#A7A9AC"/>
<path d="M1568.5,1451.8L1575.0,1440.2L1562.0,1440.2Z" fill="#A7A9AC"/>
<path d="M1577.2,1451.0L1583.7,1439.4L1570.7,1439.4Z" fill="#A7A9AC"/>
<path d="M1585.9,1450.2L1592.4,1438.6L1579.4,1438.6Z" fill="#A7A9AC"/>
<path d="M1594.6,1449.2L1601.1,1437.6L1588.1,1437.6Z" fill="#A7A9AC"/>
<path d="M1603.3,1448.2L1609.8,1436.6L1596.8,1436.6Z" fill="#A7A9AC"/>
<path d="M1612.0,1447.1L1618.5,1435.5L1605.5,1435.5Z" fill="#A7A9AC"/>
<path d="M1620.7,1446.1L1627.2,1434.5L1614.2,1434.5Z" fill="#A7A9AC"/>
<path d="M1629.4,1444.6L1635.9,1433.0L1622.9,1433.0Z" fill="#A7A9AC"/>
<path d="M1638.1,1442.5L1644.6,1430.9L1631.6,1430.9Z" fill="#A7A9AC"/>
<path d="M1646.8,1438.6L1653.3,1427.0L1640.3,1427.0Z" fill="#A7A9AC"/>
<path d="M1655.5,1433.6L1662.0,1422.0L1649.0,1422.0Z" fill="#A7A9AC"/>
<path d="M1664.2,1429.1L1670.7,1417.5L1657.7,1417.5Z" fill="#A7A9AC"/>
<path d="M1672.9,1424.9L1679.4,1413.3L1666.4,1413.3Z" fill="#A7A9AC"/>
<path d="M1681.6,1420.9L1688.1,1409.3L1675.1,1409.3Z" fill="#A7A9AC"/>
<path d="M1690.3,1416.4L1696.8,1404.8L1683.8,1404.8Z" fill="#A7A9AC"/>
<path d="M1699.0,1411.1L1705.5,1399.5L1692.5,1399.5Z" fill="#A7A9AC"/>
<path d="M1707.7,1405.5L1714.2,1393.9L1701.2,1393.9Z" fill="#A7A9AC"/>
<path d="M1716.4,1400.0L1722.9,1388.4L1709.9,1388.4Z" fill="#A7A9AC"/>
<path d="M1725.1,1394.2L1731.6,1382.6L1718.6,1382.6Z" fill="#A7A9AC"/>
<path d="M1733.8,1388.4L1740.3,1376.8L1727.3,1376.8Z" fill="#A7A9AC"/>
<path d="M1742.5,1383.0L1749.0,1371.4L1736.0,1371.4Z" fill="#A7A9AC"/>
<path d="M1751.2,1376.4L1757.7,1364.8L1744.7,1364.8Z" fill="#A7A9AC"/>
<path d="M1759.9,1368.8L1766.4,1357.2L1753.4,1357.2Z" fill="#A7A9AC"/>
<path d="M1768.6,1359.9L1775.1,1348.3L1762.1,1348.3Z" fill="#A7A9AC"/>
<path d="M1777.3,1350.8L1783.8,1339.2L1770.8,1339.2Z" fill="#A7A9AC"/>
<path d="M1786.0,1341.0L1792.5,1329.4L1779.5,1329.4Z" fill="#A7A9AC"/>
<path d="M1794.7,1331.5L1801.2,1319.9L1788.2,1319.9Z" fill="#A7A9AC"/>
<path d="M1803.4,1324.5L1809.9,1312.9L1796.9,1312.9Z" fill="#A7A9AC"/>
<path d="M1812.1,1318.0L1818.6,1306.4L1805.6,1306.4Z" fill="#A7A9AC"/>
<path d="M1820.8,1312.1L1827.3,1300.5L1814.3,1300.5Z" fill="#A7A9AC"/>
<path d="M1829.5,1306.5L1836.0,1294.9L1823.0,1294.9Z" fill="#A7A9AC"/>
<path d="M1838.2,1301.4L1844.7,1289.8L1831.7,1289.8Z" fill="#A7A9AC"/>
<path d="M1846.9,1296.3L1853.4,1284.7L1840.4,1284.7Z" fill="#A7A9AC"/>
<path d="M1855.6,1291.1L1862.1,1279.5L1849.1,1279.5Z" fill="#A7A9AC"/>
<path d="M1864.3,1286.0L1870.8,1274.4L1857.8,1274.4Z" fill="#A7A9AC"/>
<path d="M1873.0,1281.0L1879.5,1269.4L1866.5,1269.4Z" fill="#A7A9AC"/>
<path d="M1881.7,1277.2L1888.2,1265.6L1875.2,1265.6Z" fill="#A7A9AC"/>
<path d="M1890.4,1273.2L1896.9,1261.6L1883.9,1261.6Z" fill="#A7A9AC"/>
<path d="M1899.1,1268.0L1905.6,1256.4L1892.6,1256.4Z" fill="#A7A9AC"/>
<path d="M1907.8,1263.3L1914.3,1251.7L1901.3,1251.7Z" fill="#A7A9AC"/>
<path d="M1916.5,1259.8L1923.0,1248.2L1910.0,1248.2Z" fill="#A7A9AC"/>
<path d="M1925.2,1256.4L1931.7,1244.8L1918.7,1244.8Z" fill="#A7A9AC"/>
<path d="M1933.9,1252.9L1940.4,1241.3L1927.4,1241.3Z" fill="#A7A9AC"/>
<path d="M1942.6,1249.9L1949.1,1238.3L1936.1,1238.3Z" fill="#A7A9AC"/>
<path d="M1951.3,1247.1L1957.8,1235.5L1944.8,1235.5Z" fill="#A7A9AC"/>
<path d="M1960.0,1244.7L1966.5,1233.1L1953.5,1233.1Z" fill="#A7A9AC"/>
<path d="M1968.7,1242.9L1975.2,1231.3L1962.2,1231.3Z" fill="#A7A9AC"/>
<path d="M1977.4,1241.0L1983.9,1229.4L1970.9,1229.4Z" fill="#A7A9AC"/>
<path d="M1986.1,1239.2L1992.6,1227.6L1979.6,1227.6Z" fill="#A7A9AC"/>
<path d="M1994.8,1237.3L2001.3,1225.7L1988.3,1225.7Z" fill="#A7A9AC"/>
<path d="M2003.5,1235.5L2010.0,1223.9L1997.0,1223.9Z" fill="#A7A9AC"/>
<path d="M2012.2,1233.6L2018.7,1222.0L2005.7,1222.0Z" fill="#A7A9AC"/>
<path d="M2020.9,1231.8L2027.4,1220.2L2014.4,1220.2Z" fill="#A7A9AC"/>
<path d="M2029.6,1230.1L2036.1,1218.5L2023.1,1218.5Z" fill="#A7A9AC"/>
<path d="M2038.3,1228.8L2044.8,1217.2L2031.8,1217.2Z" fill="#A7A9AC"/>
<path d="M2047.0,1228.0L2053.5,1216.4L2040.5,1216.4Z" fill="#A7A9AC"/>
<path d="M2055.7,1226.9L2062.2,1215.3L2049.2,1215.3Z" fill="#A7A9AC"/>
<path d="M2064.4,1225.3L2070.9,1213.7L2057.9,1213.7Z" fill="#A7A9AC"/>
</g>
<g>
<path d="M1438.0,1470.8 L1446.7,1467.5 L1455.4,1462.9 L1464.1,1457.5 L1472.8,1451.9 L1481.5,1446.6 L1490.2,1442.8 L1498.9,1439.5 L1507.6,1438.6 L1516.3,1438.2 L1525.0,1438.7 L1533.7,1439.1 L1542.4,1439.3 L1551.1,1439.4 L1559.8,1439.4 L1568.5,1439.4 L1577.2,1439.2 L1585.9,1438.1 L1594.6,1437.0 L1603.3,1436.2 L1612.0,1435.3 L1620.7,1434.5 L1629.4,1433.7 L1638.1,1432.8 L1646.8,1431.5 L1655.5,1429.8 L1664.2,1428.1 L1672.9,1426.5 L1681.6,1424.8 L1690.3,1423.0 L1699.0,1421.1 L1707.7,1418.8 L1716.4,1416.2 L1725.1,1414.0 L1733.8,1412.1 L1742.5,1411.0 L1751.2,1409.5 L1759.9,1404.7 L1768.6,1400.9 L1777.3,1397.1 L1786.0,1391.2 L1794.7,1385.1 L1803.4,1379.2 L1812.1,1373.7 L1820.8,1369.0 L1829.5,1363.8 L1838.2,1357.9 L1846.9,1351.9 L1855.6,1345.7 L1864.3,1339.5 L1873.0,1333.3 L1881.7,1328.3 L1890.4,1323.6 L1899.1,1317.3 L1907.8,1311.8 L1916.5,1309.2 L1925.2,1306.3 L1933.9,1302.6 L1942.6,1299.4 L1951.3,1296.7 L1960.0,1293.4 L1968.7,1290.0 L1977.4,1287.1 L1986.1,1284.4 L1994.8,1281.9 L2003.5,1279.5 L2012.2,1277.6 L2020.9,1275.6 L2029.6,1273.1 L2038.3,1270.9 L2047.0,1269.4 L2055.7,1268.4 L2064.4,1267.7" fill="none" stroke="#EC1A8C" stroke-width="3" stroke-linejoin="round"/>
<path d="M1438.0,1468.8V1472.8M1432.5,1468.8H1443.5M1432.5,1472.8H1443.5M1446.7,1465.5V1469.5M1441.2,1465.5H1452.2M1441.2,1469.5H1452.2M1455.4,1460.9V1464.9M1449.9,1460.9H1460.9M1449.9,1464.9H1460.9M1464.1,1455.5V1459.5M1458.6,1455.5H1469.6M1458.6,1459.5H1469.6M1472.8,1449.9V1453.9M1467.3,1449.9H1478.3M1467.3,1453.9H1478.3M1481.5,1444.6V1448.6M1476.0,1444.6H1487.0M1476.0,1448.6H1487.0M1490.2,1440.8V1444.8M1484.7,1440.8H1495.7M1484.7,1444.8H1495.7M1498.9,1437.5V1441.5M1493.4,1437.5H1504.4M1493.4,1441.5H1504.4M1507.6,1436.6V1440.6M1502.1,1436.6H1513.1M1502.1,1440.6H1513.1M1516.3,1436.2V1440.2M1510.8,1436.2H1521.8M1510.8,1440.2H1521.8M1525.0,1436.7V1440.7M1519.5,1436.7H1530.5M1519.5,1440.7H1530.5M1533.7,1437.1V1441.1M1528.2,1437.1H1539.2M1528.2,1441.1H1539.2M1542.4,1437.3V1441.3M1536.9,1437.3H1547.9M1536.9,1441.3H1547.9M1551.1,1437.4V1441.4M1545.6,1437.4H1556.6M1545.6,1441.4H1556.6M1559.8,1437.4V1441.4M1554.3,1437.4H1565.3M1554.3,1441.4H1565.3M1568.5,1437.4V1441.4M1563.0,1437.4H1574.0M1563.0,1441.4H1574.0M1577.2,1437.2V1441.2M1571.7,1437.2H1582.7M1571.7,1441.2H1582.7M1585.9,1436.1V1440.1M1580.4,1436.1H1591.4M1580.4,1440.1H1591.4M1594.6,1435.0V1439.0M1589.1,1435.0H1600.1M1589.1,1439.0H1600.1M1603.3,1434.2V1438.2M1597.8,1434.2H1608.8M1597.8,1438.2H1608.8M1612.0,1433.3V1437.3M1606.5,1433.3H1617.5M1606.5,1437.3H1617.5M1620.7,1432.5V1436.5M1615.2,1432.5H1626.2M1615.2,1436.5H1626.2M1629.4,1431.7V1435.7M1623.9,1431.7H1634.9M1623.9,1435.7H1634.9M1638.1,1430.8V1434.8M1632.6,1430.8H1643.6M1632.6,1434.8H1643.6M1646.8,1429.5V1433.5M1641.3,1429.5H1652.3M1641.3,1433.5H1652.3M1655.5,1427.8V1431.8M1650.0,1427.8H1661.0M1650.0,1431.8H1661.0M1664.2,1426.1V1430.1M1658.7,1426.1H1669.7M1658.7,1430.1H1669.7M1672.9,1424.5V1428.5M1667.4,1424.5H1678.4M1667.4,1428.5H1678.4M1681.6,1422.8V1426.8M1676.1,1422.8H1687.1M1676.1,1426.8H1687.1M1690.3,1421.0V1425.0M1684.8,1421.0H1695.8M1684.8,1425.0H1695.8M1699.0,1419.1V1423.1M1693.5,1419.1H1704.5M1693.5,1423.1H1704.5M1707.7,1416.8V1420.8M1702.2,1416.8H1713.2M1702.2,1420.8H1713.2M1716.4,1414.2V1418.2M1710.9,1414.2H1721.9M1710.9,1418.2H1721.9M1725.1,1412.0V1416.0M1719.6,1412.0H1730.6M1719.6,1416.0H1730.6M1733.8,1410.1V1414.1M1728.3,1410.1H1739.3M1728.3,1414.1H1739.3M1742.5,1409.0V1413.0M1737.0,1409.0H1748.0M1737.0,1413.0H1748.0M1751.2,1407.5V1411.5M1745.7,1407.5H1756.7M1745.7,1411.5H1756.7M1759.9,1402.7V1406.7M1754.4,1402.7H1765.4M1754.4,1406.7H1765.4M1768.6,1398.9V1402.9M1763.1,1398.9H1774.1M1763.1,1402.9H1774.1M1777.3,1395.1V1399.1M1771.8,1395.1H1782.8M1771.8,1399.1H1782.8M1786.0,1389.2V1393.2M1780.5,1389.2H1791.5M1780.5,1393.2H1791.5M1794.7,1383.1V1387.1M1789.2,1383.1H1800.2M1789.2,1387.1H1800.2M1803.4,1377.2V1381.2M1797.9,1377.2H1808.9M1797.9,1381.2H1808.9M1812.1,1371.7V1375.7M1806.6,1371.7H1817.6M1806.6,1375.7H1817.6M1820.8,1367.0V1371.0M1815.3,1367.0H1826.3M1815.3,1371.0H1826.3M1829.5,1361.8V1365.8M1824.0,1361.8H1835.0M1824.0,1365.8H1835.0M1838.2,1355.4V1360.3M1832.7,1355.4H1843.7M1832.7,1360.3H1843.7M1846.9,1349.1V1354.7M1841.4,1349.1H1852.4M1841.4,1354.7H1852.4M1855.6,1342.5V1348.9M1850.1,1342.5H1861.1M1850.1,1348.9H1861.1M1864.3,1335.9V1343.1M1858.8,1335.9H1869.8M1858.8,1343.1H1869.8M1873.0,1329.3V1337.4M1867.5,1329.3H1878.5M1867.5,1337.4H1878.5M1881.7,1323.9V1332.8M1876.2,1323.9H1887.2M1876.2,1332.8H1887.2M1890.4,1318.8V1328.5M1884.9,1318.8H1895.9M1884.9,1328.5H1895.9M1899.1,1312.1V1322.6M1893.6,1312.1H1904.6M1893.6,1322.6H1904.6M1907.8,1306.1V1317.5M1902.3,1306.1H1913.3M1902.3,1317.5H1913.3M1916.5,1303.1V1315.3M1911.0,1303.1H1922.0M1911.0,1315.3H1922.0M1925.2,1299.8V1312.7M1919.7,1299.8H1930.7M1919.7,1312.7H1930.7M1933.9,1295.7V1309.4M1928.4,1295.7H1939.4M1928.4,1309.4H1939.4M1942.6,1292.1V1306.7M1937.1,1292.1H1948.1M1937.1,1306.7H1948.1M1951.3,1289.0V1304.4M1945.8,1289.0H1956.8M1945.8,1304.4H1956.8M1960.0,1285.3V1301.5M1954.5,1285.3H1965.5M1954.5,1301.5H1965.5M1968.7,1281.5V1298.5M1963.2,1281.5H1974.2M1963.2,1298.5H1974.2M1977.4,1278.2V1296.1M1971.9,1278.2H1982.9M1971.9,1296.1H1982.9M1986.1,1275.0V1293.7M1980.6,1275.0H1991.6M1980.6,1293.7H1991.6M1994.8,1272.1V1291.6M1989.3,1272.1H2000.3M1989.3,1291.6H2000.3M2003.5,1269.3V1289.6M1998.0,1269.3H2009.0M1998.0,1289.6H2009.0M2012.2,1267.1V1288.2M2006.7,1267.1H2017.7M2006.7,1288.2H2017.7M2020.9,1264.6V1286.5M2015.4,1264.6H2026.4M2015.4,1286.5H2026.4M2029.6,1261.7V1284.4M2024.1,1261.7H2035.1M2024.1,1284.4H2035.1M2038.3,1259.2V1282.7M2032.8,1259.2H2043.8M2032.8,1282.7H2043.8M2047.0,1257.2V1281.6M2041.5,1257.2H2052.5M2041.5,1281.6H2052.5M2055.7,1255.8V1281.0M2050.2,1255.8H2061.2M2050.2,1281.0H2061.2M2064.4,1254.7V1280.7M2058.9,1254.7H2069.9M2058.9,1280.7H2069.9" fill="none" stroke="#EC1A8C" stroke-width="1.8"/>
<circle cx="1438.0" cy="1470.8" r="5.8" fill="#EC1A8C"/>
<circle cx="1446.7" cy="1467.5" r="5.8" fill="#EC1A8C"/>
<circle cx="1455.4" cy="1462.9" r="5.8" fill="#EC1A8C"/>
<circle cx="1464.1" cy="1457.5" r="5.8" fill="#EC1A8C"/>
<circle cx="1472.8" cy="1451.9" r="5.8" fill="#EC1A8C"/>
<circle cx="1481.5" cy="1446.6" r="5.8" fill="#EC1A8C"/>
<circle cx="1490.2" cy="1442.8" r="5.8" fill="#EC1A8C"/>
<circle cx="1498.9" cy="1439.5" r="5.8" fill="#EC1A8C"/>
<circle cx="1507.6" cy="1438.6" r="5.8" fill="#EC1A8C"/>
<circle cx="1516.3" cy="1438.2" r="5.8" fill="#EC1A8C"/>
<circle cx="1525.0" cy="1438.7" r="5.8" fill="#EC1A8C"/>
<circle cx="1533.7" cy="1439.1" r="5.8" fill="#EC1A8C"/>
<circle cx="1542.4" cy="1439.3" r="5.8" fill="#EC1A8C"/>
<circle cx="1551.1" cy="1439.4" r="5.8" fill="#EC1A8C"/>
<circle cx="1559.8" cy="1439.4" r="5.8" fill="#EC1A8C"/>
<circle cx="1568.5" cy="1439.4" r="5.8" fill="#EC1A8C"/>
<circle cx="1577.2" cy="1439.2" r="5.8" fill="#EC1A8C"/>
<circle cx="1585.9" cy="1438.1" r="5.8" fill="#EC1A8C"/>
<circle cx="1594.6" cy="1437.0" r="5.8" fill="#EC1A8C"/>
<circle cx="1603.3" cy="1436.2" r="5.8" fill="#EC1A8C"/>
<circle cx="1612.0" cy="1435.3" r="5.8" fill="#EC1A8C"/>
<circle cx="1620.7" cy="1434.5" r="5.8" fill="#EC1A8C"/>
<circle cx="1629.4" cy="1433.7" r="5.8" fill="#EC1A8C"/>
<circle cx="1638.1" cy="1432.8" r="5.8" fill="#EC1A8C"/>
<circle cx="1646.8" cy="1431.5" r="5.8" fill="#EC1A8C"/>
<circle cx="1655.5" cy="1429.8" r="5.8" fill="#EC1A8C"/>
<circle cx="1664.2" cy="1428.1" r="5.8" fill="#EC1A8C"/>
<circle cx="1672.9" cy="1426.5" r="5.8" fill="#EC1A8C"/>
<circle cx="1681.6" cy="1424.8" r="5.8" fill="#EC1A8C"/>
<circle cx="1690.3" cy="1423.0" r="5.8" fill="#EC1A8C"/>
<circle cx="1699.0" cy="1421.1" r="5.8" fill="#EC1A8C"/>
<circle cx="1707.7" cy="1418.8" r="5.8" fill="#EC1A8C"/>
<circle cx="1716.4" cy="1416.2" r="5.8" fill="#EC1A8C"/>
<circle cx="1725.1" cy="1414.0" r="5.8" fill="#EC1A8C"/>
<circle cx="1733.8" cy="1412.1" r="5.8" fill="#EC1A8C"/>
<circle cx="1742.5" cy="1411.0" r="5.8" fill="#EC1A8C"/>
<circle cx="1751.2" cy="1409.5" r="5.8" fill="#EC1A8C"/>
<circle cx="1759.9" cy="1404.7" r="5.8" fill="#EC1A8C"/>
<circle cx="1768.6" cy="1400.9" r="5.8" fill="#EC1A8C"/>
<circle cx="1777.3" cy="1397.1" r="5.8" fill="#EC1A8C"/>
<circle cx="1786.0" cy="1391.2" r="5.8" fill="#EC1A8C"/>
<circle cx="1794.7" cy="1385.1" r="5.8" fill="#EC1A8C"/>
<circle cx="1803.4" cy="1379.2" r="5.8" fill="#EC1A8C"/>
<circle cx="1812.1" cy="1373.7" r="5.8" fill="#EC1A8C"/>
<circle cx="1820.8" cy="1369.0" r="5.8" fill="#EC1A8C"/>
<circle cx="1829.5" cy="1363.8" r="5.8" fill="#EC1A8C"/>
<circle cx="1838.2" cy="1357.9" r="5.8" fill="#EC1A8C"/>
<circle cx="1846.9" cy="1351.9" r="5.8" fill="#EC1A8C"/>
<circle cx="1855.6" cy="1345.7" r="5.8" fill="#EC1A8C"/>
<circle cx="1864.3" cy="1339.5" r="5.8" fill="#EC1A8C"/>
<circle cx="1873.0" cy="1333.3" r="5.8" fill="#EC1A8C"/>
<circle cx="1881.7" cy="1328.3" r="5.8" fill="#EC1A8C"/>
<circle cx="1890.4" cy="1323.6" r="5.8" fill="#EC1A8C"/>
<circle cx="1899.1" cy="1317.3" r="5.8" fill="#EC1A8C"/>
<circle cx="1907.8" cy="1311.8" r="5.8" fill="#EC1A8C"/>
<circle cx="1916.5" cy="1309.2" r="5.8" fill="#EC1A8C"/>
<circle cx="1925.2" cy="1306.3" r="5.8" fill="#EC1A8C"/>
<circle cx="1933.9" cy="1302.6" r="5.8" fill="#EC1A8C"/>
<circle cx="1942.6" cy="1299.4" r="5.8" fill="#EC1A8C"/>
<circle cx="1951.3" cy="1296.7" r="5.8" fill="#EC1A8C"/>
<circle cx="1960.0" cy="1293.4" r="5.8" fill="#EC1A8C"/>
<circle cx="1968.7" cy="1290.0" r="5.8" fill="#EC1A8C"/>
<circle cx="1977.4" cy="1287.1" r="5.8" fill="#EC1A8C"/>
<circle cx="1986.1" cy="1284.4" r="5.8" fill="#EC1A8C"/>
<circle cx="1994.8" cy="1281.9" r="5.8" fill="#EC1A8C"/>
<circle cx="2003.5" cy="1279.5" r="5.8" fill="#EC1A8C"/>
<circle cx="2012.2" cy="1277.6" r="5.8" fill="#EC1A8C"/>
<circle cx="2020.9" cy="1275.6" r="5.8" fill="#EC1A8C"/>
<circle cx="2029.6" cy="1273.1" r="5.8" fill="#EC1A8C"/>
<circle cx="2038.3" cy="1270.9" r="5.8" fill="#EC1A8C"/>
<circle cx="2047.0" cy="1269.4" r="5.8" fill="#EC1A8C"/>
<circle cx="2055.7" cy="1268.4" r="5.8" fill="#EC1A8C"/>
<circle cx="2064.4" cy="1267.7" r="5.8" fill="#EC1A8C"/>
</g>
</svg>
</body></html>
